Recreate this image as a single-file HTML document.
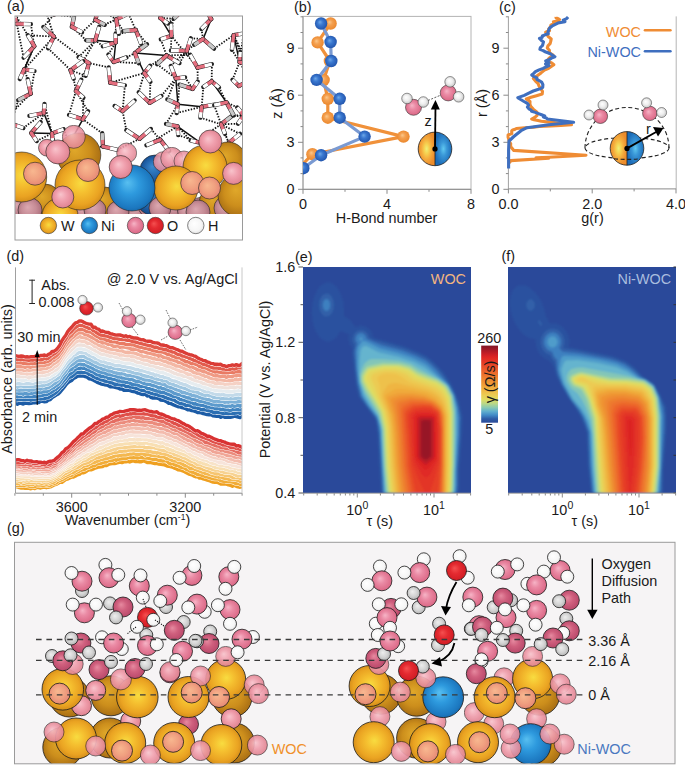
<!DOCTYPE html>
<html><head><meta charset="utf-8"><style>
html,body{margin:0;padding:0;background:#fff;width:685px;height:765px;overflow:hidden}
svg{display:block;font-family:"Liberation Sans", sans-serif}
</style></head><body>
<svg width="685" height="765" viewBox="0 0 685 765">
<defs>
<radialGradient id="gW" cx="0.5" cy="0.5" r="0.62" fx="0.52" fy="0.46"><stop offset="0" stop-color="#f8dc40"/><stop offset="0.3" stop-color="#f5c030"/><stop offset="0.65" stop-color="#eaa322"/><stop offset="0.85" stop-color="#d08a18"/><stop offset="1" stop-color="#9a6410"/></radialGradient>
<radialGradient id="gWd" cx="0.5" cy="0.5" r="0.62" fx="0.4" fy="0.38"><stop offset="0" stop-color="#e0a82a"/><stop offset="0.5" stop-color="#cc8e1c"/><stop offset="0.85" stop-color="#a86e14"/><stop offset="1" stop-color="#7a500c"/></radialGradient>
<radialGradient id="gNi" cx="0.5" cy="0.5" r="0.62" fx="0.4" fy="0.38"><stop offset="0" stop-color="#58bff0"/><stop offset="0.35" stop-color="#2e9ade"/><stop offset="0.75" stop-color="#1c78c0"/><stop offset="1" stop-color="#10558e"/></radialGradient>
<radialGradient id="gNid" cx="0.5" cy="0.5" r="0.62" fx="0.4" fy="0.38"><stop offset="0" stop-color="#3a8ad0"/><stop offset="0.6" stop-color="#1c5aa0"/><stop offset="1" stop-color="#0e3a70"/></radialGradient>
<radialGradient id="gO" cx="0.5" cy="0.5" r="0.62" fx="0.4" fy="0.38"><stop offset="0" stop-color="#f6b4c6"/><stop offset="0.35" stop-color="#ea8aa4"/><stop offset="0.8" stop-color="#dc6a88"/><stop offset="1" stop-color="#b84c68"/></radialGradient>
<radialGradient id="gOd" cx="0.5" cy="0.5" r="0.62" fx="0.4" fy="0.38"><stop offset="0" stop-color="#e68aa0"/><stop offset="0.4" stop-color="#d0607e"/><stop offset="0.85" stop-color="#b8486a"/><stop offset="1" stop-color="#8e3250"/></radialGradient>
<radialGradient id="gOs" cx="0.5" cy="0.5" r="0.62" fx="0.4" fy="0.38"><stop offset="0" stop-color="#f8c4cc"/><stop offset="0.4" stop-color="#f0a0ae"/><stop offset="0.85" stop-color="#e08290"/><stop offset="1" stop-color="#c46474"/></radialGradient>
<radialGradient id="gOsal" cx="0.5" cy="0.5" r="0.62" fx="0.4" fy="0.38"><stop offset="0" stop-color="#f8b890"/><stop offset="0.5" stop-color="#f0a080"/><stop offset="0.9" stop-color="#e48474"/><stop offset="1" stop-color="#d06a66"/></radialGradient>
<radialGradient id="gOm" cx="0.5" cy="0.5" r="0.62" fx="0.4" fy="0.38"><stop offset="0" stop-color="#dca8b0"/><stop offset="0.5" stop-color="#c68c96"/><stop offset="0.85" stop-color="#aa6e7a"/><stop offset="1" stop-color="#7a4650"/></radialGradient>
<radialGradient id="gH" cx="0.5" cy="0.5" r="0.62" fx="0.4" fy="0.38"><stop offset="0" stop-color="#ffffff"/><stop offset="0.6" stop-color="#f6f6f6"/><stop offset="0.85" stop-color="#e2e2e2"/><stop offset="1" stop-color="#b8b8b8"/></radialGradient>
<radialGradient id="gH2" cx="0.5" cy="0.5" r="0.62" fx="0.4" fy="0.38"><stop offset="0" stop-color="#ffffff"/><stop offset="0.45" stop-color="#eeeeee"/><stop offset="0.8" stop-color="#cccccc"/><stop offset="1" stop-color="#9a9a9a"/></radialGradient>
<radialGradient id="gHg" cx="0.5" cy="0.5" r="0.62" fx="0.4" fy="0.38"><stop offset="0" stop-color="#eeeeee"/><stop offset="0.5" stop-color="#d4d4d4"/><stop offset="0.85" stop-color="#b4b4b4"/><stop offset="1" stop-color="#8a8a8a"/></radialGradient>
<radialGradient id="gR" cx="0.5" cy="0.5" r="0.62" fx="0.4" fy="0.38"><stop offset="0" stop-color="#f45050"/><stop offset="0.4" stop-color="#e42a30"/><stop offset="0.85" stop-color="#d01c24"/><stop offset="1" stop-color="#a01018"/></radialGradient>
<radialGradient id="gBl" cx="0.5" cy="0.5" r="0.62" fx="0.4" fy="0.38"><stop offset="0" stop-color="#6ea8e8"/><stop offset="0.35" stop-color="#3a78d0"/><stop offset="0.8" stop-color="#2458b0"/><stop offset="1" stop-color="#1a4490"/></radialGradient>
<radialGradient id="gOr" cx="0.5" cy="0.5" r="0.62" fx="0.4" fy="0.38"><stop offset="0" stop-color="#fcc88a"/><stop offset="0.35" stop-color="#f4a050"/><stop offset="0.8" stop-color="#ec8a30"/><stop offset="1" stop-color="#c86a18"/></radialGradient>
<radialGradient id="gHalfO" cx="0.5" cy="0.5" r="0.5"><stop offset="0" stop-color="#eef078"/><stop offset="0.3" stop-color="#f6d050"/><stop offset="0.62" stop-color="#f4aa3c"/><stop offset="1" stop-color="#ec8c2c"/></radialGradient>
<radialGradient id="gHalfB" cx="0.5" cy="0.5" r="0.5"><stop offset="0" stop-color="#60c8f0"/><stop offset="0.4" stop-color="#3a98d8"/><stop offset="1" stop-color="#1c6cb8"/></radialGradient>
<marker id="ah" viewBox="0 0 10 10" refX="8" refY="5" markerWidth="4" markerHeight="4" orient="auto"><path d="M0 0 L10 5 L0 10 z" fill="#000"/></marker>
</defs>
<text x="7" y="11" font-size="14.4" text-anchor="start" fill="#1a1a1a" >(a)</text>
<clipPath id="cpa"><rect x="15" y="16" width="227.5" height="198"/></clipPath>
<g clip-path="url(#cpa)">
<path d="M240 133.9L221.1 124.3M234.4 156.2L221.1 124.3M18.2 100.2L11 123.7M27.7 79.1L24.2 69.4M141.1 43.8L134.9 53.1M123.2 31.1L116.2 19.4M102.8 46.2L95.3 40.3M115.7 33.4L116.2 19.4M13.8 12L34.3 46.2M30.9 24.2L34.3 46.2M108.7 67.4L88.9 63M124.9 85.4L122.6 111.1M98 8.2L116.2 19.4M104.8 24.8L116.2 19.4M138.7 92.3L144.3 73M161.4 95.9L175.8 78.3M240.2 51.9L233.7 35.1M248.2 65.1L233.7 35.1M179.5 63.1L186.8 50.9M157.1 64.2L175.8 78.3M48.1 48.3L70.6 70.2M43.3 27L54 14.6M214.1 48.6L233.7 35.1M194.2 44.8L186.8 50.9M81.3 79.7L88.9 63M83.4 97.7L82.8 119.3M85.7 75.8L70.6 70.2M78.6 57.1L95.3 40.3M69 114.9L75.9 91M88.1 111.3L75.9 91M74 16.7L54 14.6M82.1 32.3L95.5 19.9M178.2 135.1L200.6 142.9M166 124L177.9 104.2M126.3 130.1L122.6 111.1M150.9 129L160.2 139.7M243.6 33.5L239.6 62.1M231.9 49.8L239.6 62.1M34.5 71L30.7 93.7M19.8 79L34.3 46.2M214.9 104.6L226.5 102.4M200.4 117.7L221.1 124.3M190.6 140.5L177.5 126.3M205.3 134.8L221.1 124.3M238 123.7L221.1 124.3M237.3 107.5L226.5 102.4M83.1 61.2L95.3 40.3M73.7 78.8L75.9 91M231.2 116.5L243.7 115.4M225 133.9L228.8 142.9M179.4 84.6L177.9 104.2M197.7 81.6L197.6 67.7M79.6 148.7L103 146.5M59.6 153.4L52 133.4M173.7 18.8L160.3 17.9M174.6 2.2L171.4 35.9M160.8 39.4L166.6 55.4M170.9 23.6L160.3 17.9M170.8 65.9L186.8 50.9M185.1 77.3L192.7 88.9M147 44.2L135.8 30M138.7 63.2L113.7 61.9M40.7 122.1L43.8 113M36.7 141.1L52 133.4M219 87.4L226.5 102.4M203.3 87.1L201.7 106.8M150.2 65.7L166.6 55.4M150.4 81.7L149.7 102.8M163.8 8.7L180.2 12.5M167.9 23.5L180.2 12.5M233.7 115.4L243.7 115.4M214.2 105.2L221.1 124.3M44.5 6.7L53.9 36.6M44.5 103.9L52 133.4M108.4 54.5L115.7 42.5M126.5 57.4L134.9 53.1M232.5 79.8L239.6 62.1M249.7 79.9L239.6 62.1M102.2 133.2L82.8 119.3M117.5 149.8L139.5 138.8M176.7 113L201.7 106.8M167.3 99.4L175.8 78.3M11.6 112.7L30.7 93.7M23.3 128L43.8 113M86.2 40.3L71.9 26.8M99.2 26.7L116.2 19.4M23.6 57.6L16.8 23.8M27.8 35.2L53.9 36.6M128.4 13.4L135.8 30M118.8 33.9L135.8 30M190.2 54.8L166.6 55.4M211.9 64.1L211.7 81.3M63.6 129.2L69.5 143.3M52.7 142.9L69.5 143.3M146.4 145.3L177.5 126.3M201.4 28.9L203.1 39M205.8 9.4L180.2 12.5M170.9 50.5L171.4 35.9M190.8 38.3L203.1 39M88.9 63L53.9 36.6M110.2 82.7L144.3 73M24.2 69.4L53.9 36.6M197.6 67.7L171.4 35.9" stroke="#111" stroke-width="1.8" stroke-dasharray="1.4 1.5" fill="none"/>
<path d="M82.8 119.3L69.5 143.3M177.5 126.3L200.6 142.9M239.6 62.1L233.7 35.1M175.8 78.3L177.9 104.2M134.9 53.1L144.3 73M197.6 67.7L186.8 50.9M31.3 133L52 133.4M24.2 69.4L34.3 46.2M203.1 39L211.2 19.1M115.7 42.5L95.3 40.3M166.6 55.4L134.9 53.1M211.7 81.3L226.5 102.4M171.4 35.9L160.3 17.9M43.8 113L52 133.4M201.7 106.8L177.9 104.2M115.7 42.5L113.7 61.9" stroke="#111" stroke-width="1.5" fill="none"/>
<path d="M228.8 142.9 L240 133.9" stroke="#222" stroke-width="4.3" stroke-linecap="round"/>
<path d="M228.8 142.9 L234.4 138.4" stroke="#e46e7e" stroke-width="3.3" stroke-linecap="round"/>
<path d="M234.4 138.4 L240 133.9" stroke="#ffffff" stroke-width="3.3" stroke-linecap="butt"/>
<path d="M228.8 142.9 L234.4 156.2" stroke="#222" stroke-width="4.3" stroke-linecap="round"/>
<path d="M228.8 142.9 L231.6 149.6" stroke="#e46e7e" stroke-width="3.3" stroke-linecap="round"/>
<path d="M231.6 149.6 L234.4 156.2" stroke="#ffffff" stroke-width="3.3" stroke-linecap="butt"/>
<path d="M30.7 93.7 L18.2 100.2" stroke="#222" stroke-width="4.3" stroke-linecap="round"/>
<path d="M30.7 93.7 L24.4 96.9" stroke="#e46e7e" stroke-width="3.3" stroke-linecap="round"/>
<path d="M24.4 96.9 L18.2 100.2" stroke="#c8c8c8" stroke-width="3.3" stroke-linecap="butt"/>
<path d="M30.7 93.7 L27.7 79.1" stroke="#222" stroke-width="4.3" stroke-linecap="round"/>
<path d="M30.7 93.7 L29.2 86.4" stroke="#e46e7e" stroke-width="3.3" stroke-linecap="round"/>
<path d="M29.2 86.4 L27.7 79.1" stroke="#ffffff" stroke-width="3.3" stroke-linecap="butt"/>
<path d="M135.8 30 L141.1 43.8" stroke="#222" stroke-width="4.3" stroke-linecap="round"/>
<path d="M135.8 30 L138.5 36.9" stroke="#e46e7e" stroke-width="3.3" stroke-linecap="round"/>
<path d="M138.5 36.9 L141.1 43.8" stroke="#ffffff" stroke-width="3.3" stroke-linecap="butt"/>
<path d="M135.8 30 L123.2 31.1" stroke="#222" stroke-width="4.3" stroke-linecap="round"/>
<path d="M135.8 30 L129.5 30.5" stroke="#e46e7e" stroke-width="3.3" stroke-linecap="round"/>
<path d="M129.5 30.5 L123.2 31.1" stroke="#c8c8c8" stroke-width="3.3" stroke-linecap="butt"/>
<path d="M115.7 42.5 L102.8 46.2" stroke="#222" stroke-width="4.3" stroke-linecap="round"/>
<path d="M115.7 42.5 L109.3 44.4" stroke="#e46e7e" stroke-width="3.3" stroke-linecap="round"/>
<path d="M109.3 44.4 L102.8 46.2" stroke="#ffffff" stroke-width="3.3" stroke-linecap="butt"/>
<path d="M115.7 42.5 L115.7 33.4" stroke="#222" stroke-width="4.3" stroke-linecap="round"/>
<path d="M115.7 42.5 L115.7 37.9" stroke="#e46e7e" stroke-width="3.3" stroke-linecap="round"/>
<path d="M115.7 37.9 L115.7 33.4" stroke="#ffffff" stroke-width="3.3" stroke-linecap="butt"/>
<path d="M16.8 23.8 L13.8 12" stroke="#222" stroke-width="4.3" stroke-linecap="round"/>
<path d="M16.8 23.8 L15.3 17.9" stroke="#e46e7e" stroke-width="3.3" stroke-linecap="round"/>
<path d="M15.3 17.9 L13.8 12" stroke="#ffffff" stroke-width="3.3" stroke-linecap="butt"/>
<path d="M16.8 23.8 L30.9 24.2" stroke="#222" stroke-width="4.3" stroke-linecap="round"/>
<path d="M16.8 23.8 L23.8 24" stroke="#e46e7e" stroke-width="3.3" stroke-linecap="round"/>
<path d="M23.8 24 L30.9 24.2" stroke="#ffffff" stroke-width="3.3" stroke-linecap="butt"/>
<path d="M110.2 82.7 L108.7 67.4" stroke="#222" stroke-width="4.3" stroke-linecap="round"/>
<path d="M110.2 82.7 L109.4 75.1" stroke="#e46e7e" stroke-width="3.3" stroke-linecap="round"/>
<path d="M109.4 75.1 L108.7 67.4" stroke="#ffffff" stroke-width="3.3" stroke-linecap="butt"/>
<path d="M110.2 82.7 L124.9 85.4" stroke="#222" stroke-width="4.3" stroke-linecap="round"/>
<path d="M110.2 82.7 L117.5 84.1" stroke="#e46e7e" stroke-width="3.3" stroke-linecap="round"/>
<path d="M117.5 84.1 L124.9 85.4" stroke="#ffffff" stroke-width="3.3" stroke-linecap="butt"/>
<path d="M95.5 19.9 L98 8.2" stroke="#222" stroke-width="4.3" stroke-linecap="round"/>
<path d="M95.5 19.9 L96.8 14.1" stroke="#e46e7e" stroke-width="3.3" stroke-linecap="round"/>
<path d="M96.8 14.1 L98 8.2" stroke="#ffffff" stroke-width="3.3" stroke-linecap="butt"/>
<path d="M95.5 19.9 L104.8 24.8" stroke="#222" stroke-width="4.3" stroke-linecap="round"/>
<path d="M95.5 19.9 L100.2 22.4" stroke="#e46e7e" stroke-width="3.3" stroke-linecap="round"/>
<path d="M100.2 22.4 L104.8 24.8" stroke="#c8c8c8" stroke-width="3.3" stroke-linecap="butt"/>
<path d="M149.7 102.8 L138.7 92.3" stroke="#222" stroke-width="4.3" stroke-linecap="round"/>
<path d="M149.7 102.8 L144.2 97.6" stroke="#e46e7e" stroke-width="3.3" stroke-linecap="round"/>
<path d="M144.2 97.6 L138.7 92.3" stroke="#ffffff" stroke-width="3.3" stroke-linecap="butt"/>
<path d="M149.7 102.8 L161.4 95.9" stroke="#222" stroke-width="4.3" stroke-linecap="round"/>
<path d="M149.7 102.8 L155.6 99.4" stroke="#e46e7e" stroke-width="3.3" stroke-linecap="round"/>
<path d="M155.6 99.4 L161.4 95.9" stroke="#ffffff" stroke-width="3.3" stroke-linecap="butt"/>
<path d="M239.6 62.1 L240.2 51.9" stroke="#222" stroke-width="4.3" stroke-linecap="round"/>
<path d="M239.6 62.1 L239.9 57" stroke="#e46e7e" stroke-width="3.3" stroke-linecap="round"/>
<path d="M239.9 57 L240.2 51.9" stroke="#ffffff" stroke-width="3.3" stroke-linecap="butt"/>
<path d="M239.6 62.1 L248.2 65.1" stroke="#222" stroke-width="4.3" stroke-linecap="round"/>
<path d="M239.6 62.1 L243.9 63.6" stroke="#e46e7e" stroke-width="3.3" stroke-linecap="round"/>
<path d="M243.9 63.6 L248.2 65.1" stroke="#c8c8c8" stroke-width="3.3" stroke-linecap="butt"/>
<path d="M166.6 55.4 L179.5 63.1" stroke="#222" stroke-width="4.3" stroke-linecap="round"/>
<path d="M166.6 55.4 L173 59.3" stroke="#e46e7e" stroke-width="3.3" stroke-linecap="round"/>
<path d="M173 59.3 L179.5 63.1" stroke="#ffffff" stroke-width="3.3" stroke-linecap="butt"/>
<path d="M166.6 55.4 L157.1 64.2" stroke="#222" stroke-width="4.3" stroke-linecap="round"/>
<path d="M166.6 55.4 L161.8 59.8" stroke="#e46e7e" stroke-width="3.3" stroke-linecap="round"/>
<path d="M161.8 59.8 L157.1 64.2" stroke="#c8c8c8" stroke-width="3.3" stroke-linecap="butt"/>
<path d="M122.6 111.1 L114.6 105.9" stroke="#222" stroke-width="4.3" stroke-linecap="round"/>
<path d="M122.6 111.1 L118.6 108.5" stroke="#e46e7e" stroke-width="3.3" stroke-linecap="round"/>
<path d="M118.6 108.5 L114.6 105.9" stroke="#ffffff" stroke-width="3.3" stroke-linecap="butt"/>
<path d="M122.6 111.1 L134.6 100.5" stroke="#222" stroke-width="4.3" stroke-linecap="round"/>
<path d="M122.6 111.1 L128.6 105.8" stroke="#e46e7e" stroke-width="3.3" stroke-linecap="round"/>
<path d="M128.6 105.8 L134.6 100.5" stroke="#ffffff" stroke-width="3.3" stroke-linecap="butt"/>
<path d="M53.9 36.6 L48.1 48.3" stroke="#222" stroke-width="4.3" stroke-linecap="round"/>
<path d="M53.9 36.6 L51 42.5" stroke="#e46e7e" stroke-width="3.3" stroke-linecap="round"/>
<path d="M51 42.5 L48.1 48.3" stroke="#ffffff" stroke-width="3.3" stroke-linecap="butt"/>
<path d="M53.9 36.6 L43.3 27" stroke="#222" stroke-width="4.3" stroke-linecap="round"/>
<path d="M53.9 36.6 L48.6 31.8" stroke="#e46e7e" stroke-width="3.3" stroke-linecap="round"/>
<path d="M48.6 31.8 L43.3 27" stroke="#c8c8c8" stroke-width="3.3" stroke-linecap="butt"/>
<path d="M203.1 39 L214.1 48.6" stroke="#222" stroke-width="4.3" stroke-linecap="round"/>
<path d="M203.1 39 L208.6 43.8" stroke="#e46e7e" stroke-width="3.3" stroke-linecap="round"/>
<path d="M208.6 43.8 L214.1 48.6" stroke="#c8c8c8" stroke-width="3.3" stroke-linecap="butt"/>
<path d="M203.1 39 L194.2 44.8" stroke="#222" stroke-width="4.3" stroke-linecap="round"/>
<path d="M203.1 39 L198.7 41.9" stroke="#e46e7e" stroke-width="3.3" stroke-linecap="round"/>
<path d="M198.7 41.9 L194.2 44.8" stroke="#c8c8c8" stroke-width="3.3" stroke-linecap="butt"/>
<path d="M75.9 91 L81.3 79.7" stroke="#222" stroke-width="4.3" stroke-linecap="round"/>
<path d="M75.9 91 L78.6 85.4" stroke="#e46e7e" stroke-width="3.3" stroke-linecap="round"/>
<path d="M78.6 85.4 L81.3 79.7" stroke="#ffffff" stroke-width="3.3" stroke-linecap="butt"/>
<path d="M75.9 91 L83.4 97.7" stroke="#222" stroke-width="4.3" stroke-linecap="round"/>
<path d="M75.9 91 L79.7 94.4" stroke="#e46e7e" stroke-width="3.3" stroke-linecap="round"/>
<path d="M79.7 94.4 L83.4 97.7" stroke="#ffffff" stroke-width="3.3" stroke-linecap="butt"/>
<path d="M88.9 63 L85.7 75.8" stroke="#222" stroke-width="4.3" stroke-linecap="round"/>
<path d="M88.9 63 L87.3 69.4" stroke="#e46e7e" stroke-width="3.3" stroke-linecap="round"/>
<path d="M87.3 69.4 L85.7 75.8" stroke="#ffffff" stroke-width="3.3" stroke-linecap="butt"/>
<path d="M88.9 63 L78.6 57.1" stroke="#222" stroke-width="4.3" stroke-linecap="round"/>
<path d="M88.9 63 L83.7 60" stroke="#e46e7e" stroke-width="3.3" stroke-linecap="round"/>
<path d="M83.7 60 L78.6 57.1" stroke="#ffffff" stroke-width="3.3" stroke-linecap="butt"/>
<path d="M82.8 119.3 L69 114.9" stroke="#222" stroke-width="4.3" stroke-linecap="round"/>
<path d="M82.8 119.3 L75.9 117.1" stroke="#e46e7e" stroke-width="3.3" stroke-linecap="round"/>
<path d="M75.9 117.1 L69 114.9" stroke="#ffffff" stroke-width="3.3" stroke-linecap="butt"/>
<path d="M82.8 119.3 L88.1 111.3" stroke="#222" stroke-width="4.3" stroke-linecap="round"/>
<path d="M82.8 119.3 L85.4 115.3" stroke="#e46e7e" stroke-width="3.3" stroke-linecap="round"/>
<path d="M85.4 115.3 L88.1 111.3" stroke="#ffffff" stroke-width="3.3" stroke-linecap="butt"/>
<path d="M71.9 26.8 L74 16.7" stroke="#222" stroke-width="4.3" stroke-linecap="round"/>
<path d="M71.9 26.8 L72.9 21.8" stroke="#e46e7e" stroke-width="3.3" stroke-linecap="round"/>
<path d="M72.9 21.8 L74 16.7" stroke="#c8c8c8" stroke-width="3.3" stroke-linecap="butt"/>
<path d="M71.9 26.8 L82.1 32.3" stroke="#222" stroke-width="4.3" stroke-linecap="round"/>
<path d="M71.9 26.8 L77 29.5" stroke="#e46e7e" stroke-width="3.3" stroke-linecap="round"/>
<path d="M77 29.5 L82.1 32.3" stroke="#ffffff" stroke-width="3.3" stroke-linecap="butt"/>
<path d="M177.5 126.3 L178.2 135.1" stroke="#222" stroke-width="4.3" stroke-linecap="round"/>
<path d="M177.5 126.3 L177.9 130.7" stroke="#e46e7e" stroke-width="3.3" stroke-linecap="round"/>
<path d="M177.9 130.7 L178.2 135.1" stroke="#ffffff" stroke-width="3.3" stroke-linecap="butt"/>
<path d="M177.5 126.3 L166 124" stroke="#222" stroke-width="4.3" stroke-linecap="round"/>
<path d="M177.5 126.3 L171.8 125.2" stroke="#e46e7e" stroke-width="3.3" stroke-linecap="round"/>
<path d="M171.8 125.2 L166 124" stroke="#c8c8c8" stroke-width="3.3" stroke-linecap="butt"/>
<path d="M139.5 138.8 L126.3 130.1" stroke="#222" stroke-width="4.3" stroke-linecap="round"/>
<path d="M139.5 138.8 L132.9 134.5" stroke="#e46e7e" stroke-width="3.3" stroke-linecap="round"/>
<path d="M132.9 134.5 L126.3 130.1" stroke="#ffffff" stroke-width="3.3" stroke-linecap="butt"/>
<path d="M139.5 138.8 L150.9 129" stroke="#222" stroke-width="4.3" stroke-linecap="round"/>
<path d="M139.5 138.8 L145.2 133.9" stroke="#e46e7e" stroke-width="3.3" stroke-linecap="round"/>
<path d="M145.2 133.9 L150.9 129" stroke="#ffffff" stroke-width="3.3" stroke-linecap="butt"/>
<path d="M233.7 35.1 L243.6 33.5" stroke="#222" stroke-width="4.3" stroke-linecap="round"/>
<path d="M233.7 35.1 L238.6 34.3" stroke="#e46e7e" stroke-width="3.3" stroke-linecap="round"/>
<path d="M238.6 34.3 L243.6 33.5" stroke="#ffffff" stroke-width="3.3" stroke-linecap="butt"/>
<path d="M233.7 35.1 L231.9 49.8" stroke="#222" stroke-width="4.3" stroke-linecap="round"/>
<path d="M233.7 35.1 L232.8 42.4" stroke="#e46e7e" stroke-width="3.3" stroke-linecap="round"/>
<path d="M232.8 42.4 L231.9 49.8" stroke="#ffffff" stroke-width="3.3" stroke-linecap="butt"/>
<path d="M24.2 69.4 L34.5 71" stroke="#222" stroke-width="4.3" stroke-linecap="round"/>
<path d="M24.2 69.4 L29.3 70.2" stroke="#e46e7e" stroke-width="3.3" stroke-linecap="round"/>
<path d="M29.3 70.2 L34.5 71" stroke="#ffffff" stroke-width="3.3" stroke-linecap="butt"/>
<path d="M24.2 69.4 L19.8 79" stroke="#222" stroke-width="4.3" stroke-linecap="round"/>
<path d="M24.2 69.4 L22 74.2" stroke="#e46e7e" stroke-width="3.3" stroke-linecap="round"/>
<path d="M22 74.2 L19.8 79" stroke="#ffffff" stroke-width="3.3" stroke-linecap="butt"/>
<path d="M201.7 106.8 L214.9 104.6" stroke="#222" stroke-width="4.3" stroke-linecap="round"/>
<path d="M201.7 106.8 L208.3 105.7" stroke="#e46e7e" stroke-width="3.3" stroke-linecap="round"/>
<path d="M208.3 105.7 L214.9 104.6" stroke="#ffffff" stroke-width="3.3" stroke-linecap="butt"/>
<path d="M201.7 106.8 L200.4 117.7" stroke="#222" stroke-width="4.3" stroke-linecap="round"/>
<path d="M201.7 106.8 L201 112.3" stroke="#e46e7e" stroke-width="3.3" stroke-linecap="round"/>
<path d="M201 112.3 L200.4 117.7" stroke="#ffffff" stroke-width="3.3" stroke-linecap="butt"/>
<path d="M200.6 142.9 L190.6 140.5" stroke="#222" stroke-width="4.3" stroke-linecap="round"/>
<path d="M200.6 142.9 L195.6 141.7" stroke="#e46e7e" stroke-width="3.3" stroke-linecap="round"/>
<path d="M195.6 141.7 L190.6 140.5" stroke="#ffffff" stroke-width="3.3" stroke-linecap="butt"/>
<path d="M200.6 142.9 L205.3 134.8" stroke="#222" stroke-width="4.3" stroke-linecap="round"/>
<path d="M200.6 142.9 L202.9 138.9" stroke="#e46e7e" stroke-width="3.3" stroke-linecap="round"/>
<path d="M202.9 138.9 L205.3 134.8" stroke="#ffffff" stroke-width="3.3" stroke-linecap="butt"/>
<path d="M243.7 115.4 L238 123.7" stroke="#222" stroke-width="4.3" stroke-linecap="round"/>
<path d="M243.7 115.4 L240.9 119.5" stroke="#e46e7e" stroke-width="3.3" stroke-linecap="round"/>
<path d="M240.9 119.5 L238 123.7" stroke="#ffffff" stroke-width="3.3" stroke-linecap="butt"/>
<path d="M243.7 115.4 L237.3 107.5" stroke="#222" stroke-width="4.3" stroke-linecap="round"/>
<path d="M243.7 115.4 L240.5 111.4" stroke="#e46e7e" stroke-width="3.3" stroke-linecap="round"/>
<path d="M240.5 111.4 L237.3 107.5" stroke="#ffffff" stroke-width="3.3" stroke-linecap="butt"/>
<path d="M70.6 70.2 L83.1 61.2" stroke="#222" stroke-width="4.3" stroke-linecap="round"/>
<path d="M70.6 70.2 L76.8 65.7" stroke="#e46e7e" stroke-width="3.3" stroke-linecap="round"/>
<path d="M76.8 65.7 L83.1 61.2" stroke="#ffffff" stroke-width="3.3" stroke-linecap="butt"/>
<path d="M70.6 70.2 L73.7 78.8" stroke="#222" stroke-width="4.3" stroke-linecap="round"/>
<path d="M70.6 70.2 L72.1 74.5" stroke="#e46e7e" stroke-width="3.3" stroke-linecap="round"/>
<path d="M72.1 74.5 L73.7 78.8" stroke="#ffffff" stroke-width="3.3" stroke-linecap="butt"/>
<path d="M221.1 124.3 L231.2 116.5" stroke="#222" stroke-width="4.3" stroke-linecap="round"/>
<path d="M221.1 124.3 L226.2 120.4" stroke="#e46e7e" stroke-width="3.3" stroke-linecap="round"/>
<path d="M226.2 120.4 L231.2 116.5" stroke="#c8c8c8" stroke-width="3.3" stroke-linecap="butt"/>
<path d="M221.1 124.3 L225 133.9" stroke="#222" stroke-width="4.3" stroke-linecap="round"/>
<path d="M221.1 124.3 L223.1 129.1" stroke="#e46e7e" stroke-width="3.3" stroke-linecap="round"/>
<path d="M223.1 129.1 L225 133.9" stroke="#ffffff" stroke-width="3.3" stroke-linecap="butt"/>
<path d="M192.7 88.9 L179.4 84.6" stroke="#222" stroke-width="4.3" stroke-linecap="round"/>
<path d="M192.7 88.9 L186.1 86.7" stroke="#e46e7e" stroke-width="3.3" stroke-linecap="round"/>
<path d="M186.1 86.7 L179.4 84.6" stroke="#c8c8c8" stroke-width="3.3" stroke-linecap="butt"/>
<path d="M192.7 88.9 L197.7 81.6" stroke="#222" stroke-width="4.3" stroke-linecap="round"/>
<path d="M192.7 88.9 L195.2 85.2" stroke="#e46e7e" stroke-width="3.3" stroke-linecap="round"/>
<path d="M195.2 85.2 L197.7 81.6" stroke="#ffffff" stroke-width="3.3" stroke-linecap="butt"/>
<path d="M69.5 143.3 L79.6 148.7" stroke="#222" stroke-width="4.3" stroke-linecap="round"/>
<path d="M69.5 143.3 L74.5 146" stroke="#e46e7e" stroke-width="3.3" stroke-linecap="round"/>
<path d="M74.5 146 L79.6 148.7" stroke="#ffffff" stroke-width="3.3" stroke-linecap="butt"/>
<path d="M69.5 143.3 L59.6 153.4" stroke="#222" stroke-width="4.3" stroke-linecap="round"/>
<path d="M69.5 143.3 L64.6 148.4" stroke="#e46e7e" stroke-width="3.3" stroke-linecap="round"/>
<path d="M64.6 148.4 L59.6 153.4" stroke="#c8c8c8" stroke-width="3.3" stroke-linecap="butt"/>
<path d="M180.2 12.5 L173.7 18.8" stroke="#222" stroke-width="4.3" stroke-linecap="round"/>
<path d="M180.2 12.5 L177 15.7" stroke="#e46e7e" stroke-width="3.3" stroke-linecap="round"/>
<path d="M177 15.7 L173.7 18.8" stroke="#c8c8c8" stroke-width="3.3" stroke-linecap="butt"/>
<path d="M180.2 12.5 L174.6 2.2" stroke="#222" stroke-width="4.3" stroke-linecap="round"/>
<path d="M180.2 12.5 L177.4 7.4" stroke="#e46e7e" stroke-width="3.3" stroke-linecap="round"/>
<path d="M177.4 7.4 L174.6 2.2" stroke="#ffffff" stroke-width="3.3" stroke-linecap="butt"/>
<path d="M171.4 35.9 L160.8 39.4" stroke="#222" stroke-width="4.3" stroke-linecap="round"/>
<path d="M171.4 35.9 L166.1 37.6" stroke="#e46e7e" stroke-width="3.3" stroke-linecap="round"/>
<path d="M166.1 37.6 L160.8 39.4" stroke="#ffffff" stroke-width="3.3" stroke-linecap="butt"/>
<path d="M171.4 35.9 L170.9 23.6" stroke="#222" stroke-width="4.3" stroke-linecap="round"/>
<path d="M171.4 35.9 L171.2 29.8" stroke="#e46e7e" stroke-width="3.3" stroke-linecap="round"/>
<path d="M171.2 29.8 L170.9 23.6" stroke="#ffffff" stroke-width="3.3" stroke-linecap="butt"/>
<path d="M175.8 78.3 L170.8 65.9" stroke="#222" stroke-width="4.3" stroke-linecap="round"/>
<path d="M175.8 78.3 L173.3 72.1" stroke="#e46e7e" stroke-width="3.3" stroke-linecap="round"/>
<path d="M173.3 72.1 L170.8 65.9" stroke="#ffffff" stroke-width="3.3" stroke-linecap="butt"/>
<path d="M175.8 78.3 L185.1 77.3" stroke="#222" stroke-width="4.3" stroke-linecap="round"/>
<path d="M175.8 78.3 L180.4 77.8" stroke="#e46e7e" stroke-width="3.3" stroke-linecap="round"/>
<path d="M180.4 77.8 L185.1 77.3" stroke="#ffffff" stroke-width="3.3" stroke-linecap="butt"/>
<path d="M134.9 53.1 L147 44.2" stroke="#222" stroke-width="4.3" stroke-linecap="round"/>
<path d="M134.9 53.1 L140.9 48.6" stroke="#e46e7e" stroke-width="3.3" stroke-linecap="round"/>
<path d="M140.9 48.6 L147 44.2" stroke="#c8c8c8" stroke-width="3.3" stroke-linecap="butt"/>
<path d="M134.9 53.1 L138.7 63.2" stroke="#222" stroke-width="4.3" stroke-linecap="round"/>
<path d="M134.9 53.1 L136.8 58.1" stroke="#e46e7e" stroke-width="3.3" stroke-linecap="round"/>
<path d="M136.8 58.1 L138.7 63.2" stroke="#c8c8c8" stroke-width="3.3" stroke-linecap="butt"/>
<path d="M31.3 133 L40.7 122.1" stroke="#222" stroke-width="4.3" stroke-linecap="round"/>
<path d="M31.3 133 L36 127.5" stroke="#e46e7e" stroke-width="3.3" stroke-linecap="round"/>
<path d="M36 127.5 L40.7 122.1" stroke="#ffffff" stroke-width="3.3" stroke-linecap="butt"/>
<path d="M31.3 133 L36.7 141.1" stroke="#222" stroke-width="4.3" stroke-linecap="round"/>
<path d="M31.3 133 L34 137.1" stroke="#e46e7e" stroke-width="3.3" stroke-linecap="round"/>
<path d="M34 137.1 L36.7 141.1" stroke="#ffffff" stroke-width="3.3" stroke-linecap="butt"/>
<path d="M211.7 81.3 L219 87.4" stroke="#222" stroke-width="4.3" stroke-linecap="round"/>
<path d="M211.7 81.3 L215.4 84.4" stroke="#e46e7e" stroke-width="3.3" stroke-linecap="round"/>
<path d="M215.4 84.4 L219 87.4" stroke="#ffffff" stroke-width="3.3" stroke-linecap="butt"/>
<path d="M211.7 81.3 L203.3 87.1" stroke="#222" stroke-width="4.3" stroke-linecap="round"/>
<path d="M211.7 81.3 L207.5 84.2" stroke="#e46e7e" stroke-width="3.3" stroke-linecap="round"/>
<path d="M207.5 84.2 L203.3 87.1" stroke="#ffffff" stroke-width="3.3" stroke-linecap="butt"/>
<path d="M144.3 73 L150.2 65.7" stroke="#222" stroke-width="4.3" stroke-linecap="round"/>
<path d="M144.3 73 L147.3 69.4" stroke="#e46e7e" stroke-width="3.3" stroke-linecap="round"/>
<path d="M147.3 69.4 L150.2 65.7" stroke="#ffffff" stroke-width="3.3" stroke-linecap="butt"/>
<path d="M144.3 73 L150.4 81.7" stroke="#222" stroke-width="4.3" stroke-linecap="round"/>
<path d="M144.3 73 L147.3 77.3" stroke="#e46e7e" stroke-width="3.3" stroke-linecap="round"/>
<path d="M147.3 77.3 L150.4 81.7" stroke="#ffffff" stroke-width="3.3" stroke-linecap="butt"/>
<path d="M160.3 17.9 L163.8 8.7" stroke="#222" stroke-width="4.3" stroke-linecap="round"/>
<path d="M160.3 17.9 L162.1 13.3" stroke="#e46e7e" stroke-width="3.3" stroke-linecap="round"/>
<path d="M162.1 13.3 L163.8 8.7" stroke="#ffffff" stroke-width="3.3" stroke-linecap="butt"/>
<path d="M160.3 17.9 L167.9 23.5" stroke="#222" stroke-width="4.3" stroke-linecap="round"/>
<path d="M160.3 17.9 L164.1 20.7" stroke="#e46e7e" stroke-width="3.3" stroke-linecap="round"/>
<path d="M164.1 20.7 L167.9 23.5" stroke="#ffffff" stroke-width="3.3" stroke-linecap="butt"/>
<path d="M226.5 102.4 L233.7 115.4" stroke="#222" stroke-width="4.3" stroke-linecap="round"/>
<path d="M226.5 102.4 L230.1 108.9" stroke="#e46e7e" stroke-width="3.3" stroke-linecap="round"/>
<path d="M230.1 108.9 L233.7 115.4" stroke="#c8c8c8" stroke-width="3.3" stroke-linecap="butt"/>
<path d="M226.5 102.4 L214.2 105.2" stroke="#222" stroke-width="4.3" stroke-linecap="round"/>
<path d="M226.5 102.4 L220.4 103.8" stroke="#e46e7e" stroke-width="3.3" stroke-linecap="round"/>
<path d="M220.4 103.8 L214.2 105.2" stroke="#ffffff" stroke-width="3.3" stroke-linecap="butt"/>
<path d="M54 14.6 L44.5 6.7" stroke="#222" stroke-width="4.3" stroke-linecap="round"/>
<path d="M54 14.6 L49.3 10.7" stroke="#e46e7e" stroke-width="3.3" stroke-linecap="round"/>
<path d="M49.3 10.7 L44.5 6.7" stroke="#ffffff" stroke-width="3.3" stroke-linecap="butt"/>
<path d="M54 14.6 L64.3 7.7" stroke="#222" stroke-width="4.3" stroke-linecap="round"/>
<path d="M54 14.6 L59.2 11.1" stroke="#e46e7e" stroke-width="3.3" stroke-linecap="round"/>
<path d="M59.2 11.1 L64.3 7.7" stroke="#ffffff" stroke-width="3.3" stroke-linecap="butt"/>
<path d="M43.8 113 L29.4 115.8" stroke="#222" stroke-width="4.3" stroke-linecap="round"/>
<path d="M43.8 113 L36.6 114.4" stroke="#e46e7e" stroke-width="3.3" stroke-linecap="round"/>
<path d="M36.6 114.4 L29.4 115.8" stroke="#ffffff" stroke-width="3.3" stroke-linecap="butt"/>
<path d="M43.8 113 L44.5 103.9" stroke="#222" stroke-width="4.3" stroke-linecap="round"/>
<path d="M43.8 113 L44.2 108.5" stroke="#e46e7e" stroke-width="3.3" stroke-linecap="round"/>
<path d="M44.2 108.5 L44.5 103.9" stroke="#ffffff" stroke-width="3.3" stroke-linecap="butt"/>
<path d="M113.7 61.9 L108.4 54.5" stroke="#222" stroke-width="4.3" stroke-linecap="round"/>
<path d="M113.7 61.9 L111 58.2" stroke="#e46e7e" stroke-width="3.3" stroke-linecap="round"/>
<path d="M111 58.2 L108.4 54.5" stroke="#ffffff" stroke-width="3.3" stroke-linecap="butt"/>
<path d="M113.7 61.9 L126.5 57.4" stroke="#222" stroke-width="4.3" stroke-linecap="round"/>
<path d="M113.7 61.9 L120.1 59.7" stroke="#e46e7e" stroke-width="3.3" stroke-linecap="round"/>
<path d="M120.1 59.7 L126.5 57.4" stroke="#ffffff" stroke-width="3.3" stroke-linecap="butt"/>
<path d="M238.9 86 L232.5 79.8" stroke="#222" stroke-width="4.3" stroke-linecap="round"/>
<path d="M238.9 86 L235.7 82.9" stroke="#e46e7e" stroke-width="3.3" stroke-linecap="round"/>
<path d="M235.7 82.9 L232.5 79.8" stroke="#ffffff" stroke-width="3.3" stroke-linecap="butt"/>
<path d="M238.9 86 L249.7 79.9" stroke="#222" stroke-width="4.3" stroke-linecap="round"/>
<path d="M238.9 86 L244.3 82.9" stroke="#e46e7e" stroke-width="3.3" stroke-linecap="round"/>
<path d="M244.3 82.9 L249.7 79.9" stroke="#c8c8c8" stroke-width="3.3" stroke-linecap="butt"/>
<path d="M103 146.5 L102.2 133.2" stroke="#222" stroke-width="4.3" stroke-linecap="round"/>
<path d="M103 146.5 L102.6 139.9" stroke="#e46e7e" stroke-width="3.3" stroke-linecap="round"/>
<path d="M102.6 139.9 L102.2 133.2" stroke="#c8c8c8" stroke-width="3.3" stroke-linecap="butt"/>
<path d="M103 146.5 L117.5 149.8" stroke="#222" stroke-width="4.3" stroke-linecap="round"/>
<path d="M103 146.5 L110.2 148.1" stroke="#e46e7e" stroke-width="3.3" stroke-linecap="round"/>
<path d="M110.2 148.1 L117.5 149.8" stroke="#ffffff" stroke-width="3.3" stroke-linecap="butt"/>
<path d="M177.9 104.2 L176.7 113" stroke="#222" stroke-width="4.3" stroke-linecap="round"/>
<path d="M177.9 104.2 L177.3 108.6" stroke="#e46e7e" stroke-width="3.3" stroke-linecap="round"/>
<path d="M177.3 108.6 L176.7 113" stroke="#ffffff" stroke-width="3.3" stroke-linecap="butt"/>
<path d="M177.9 104.2 L167.3 99.4" stroke="#222" stroke-width="4.3" stroke-linecap="round"/>
<path d="M177.9 104.2 L172.6 101.8" stroke="#e46e7e" stroke-width="3.3" stroke-linecap="round"/>
<path d="M172.6 101.8 L167.3 99.4" stroke="#c8c8c8" stroke-width="3.3" stroke-linecap="butt"/>
<path d="M11 123.7 L11.6 112.7" stroke="#222" stroke-width="4.3" stroke-linecap="round"/>
<path d="M11 123.7 L11.3 118.2" stroke="#e46e7e" stroke-width="3.3" stroke-linecap="round"/>
<path d="M11.3 118.2 L11.6 112.7" stroke="#ffffff" stroke-width="3.3" stroke-linecap="butt"/>
<path d="M11 123.7 L23.3 128" stroke="#222" stroke-width="4.3" stroke-linecap="round"/>
<path d="M11 123.7 L17.1 125.9" stroke="#e46e7e" stroke-width="3.3" stroke-linecap="round"/>
<path d="M17.1 125.9 L23.3 128" stroke="#ffffff" stroke-width="3.3" stroke-linecap="butt"/>
<path d="M95.3 40.3 L86.2 40.3" stroke="#222" stroke-width="4.3" stroke-linecap="round"/>
<path d="M95.3 40.3 L90.7 40.3" stroke="#e46e7e" stroke-width="3.3" stroke-linecap="round"/>
<path d="M90.7 40.3 L86.2 40.3" stroke="#c8c8c8" stroke-width="3.3" stroke-linecap="butt"/>
<path d="M95.3 40.3 L99.2 26.7" stroke="#222" stroke-width="4.3" stroke-linecap="round"/>
<path d="M95.3 40.3 L97.2 33.5" stroke="#e46e7e" stroke-width="3.3" stroke-linecap="round"/>
<path d="M97.2 33.5 L99.2 26.7" stroke="#ffffff" stroke-width="3.3" stroke-linecap="butt"/>
<path d="M34.3 46.2 L23.6 57.6" stroke="#222" stroke-width="4.3" stroke-linecap="round"/>
<path d="M34.3 46.2 L29 51.9" stroke="#e46e7e" stroke-width="3.3" stroke-linecap="round"/>
<path d="M29 51.9 L23.6 57.6" stroke="#ffffff" stroke-width="3.3" stroke-linecap="butt"/>
<path d="M34.3 46.2 L27.8 35.2" stroke="#222" stroke-width="4.3" stroke-linecap="round"/>
<path d="M34.3 46.2 L31.1 40.7" stroke="#e46e7e" stroke-width="3.3" stroke-linecap="round"/>
<path d="M31.1 40.7 L27.8 35.2" stroke="#ffffff" stroke-width="3.3" stroke-linecap="butt"/>
<path d="M116.2 19.4 L128.4 13.4" stroke="#222" stroke-width="4.3" stroke-linecap="round"/>
<path d="M116.2 19.4 L122.3 16.4" stroke="#e46e7e" stroke-width="3.3" stroke-linecap="round"/>
<path d="M122.3 16.4 L128.4 13.4" stroke="#ffffff" stroke-width="3.3" stroke-linecap="butt"/>
<path d="M116.2 19.4 L118.8 33.9" stroke="#222" stroke-width="4.3" stroke-linecap="round"/>
<path d="M116.2 19.4 L117.5 26.6" stroke="#e46e7e" stroke-width="3.3" stroke-linecap="round"/>
<path d="M117.5 26.6 L118.8 33.9" stroke="#ffffff" stroke-width="3.3" stroke-linecap="butt"/>
<path d="M197.6 67.7 L190.2 54.8" stroke="#222" stroke-width="4.3" stroke-linecap="round"/>
<path d="M197.6 67.7 L193.9 61.3" stroke="#e46e7e" stroke-width="3.3" stroke-linecap="round"/>
<path d="M193.9 61.3 L190.2 54.8" stroke="#ffffff" stroke-width="3.3" stroke-linecap="butt"/>
<path d="M197.6 67.7 L211.9 64.1" stroke="#222" stroke-width="4.3" stroke-linecap="round"/>
<path d="M197.6 67.7 L204.8 65.9" stroke="#e46e7e" stroke-width="3.3" stroke-linecap="round"/>
<path d="M204.8 65.9 L211.9 64.1" stroke="#ffffff" stroke-width="3.3" stroke-linecap="butt"/>
<path d="M52 133.4 L63.6 129.2" stroke="#222" stroke-width="4.3" stroke-linecap="round"/>
<path d="M52 133.4 L57.8 131.3" stroke="#e46e7e" stroke-width="3.3" stroke-linecap="round"/>
<path d="M57.8 131.3 L63.6 129.2" stroke="#ffffff" stroke-width="3.3" stroke-linecap="butt"/>
<path d="M52 133.4 L52.7 142.9" stroke="#222" stroke-width="4.3" stroke-linecap="round"/>
<path d="M52 133.4 L52.4 138.2" stroke="#e46e7e" stroke-width="3.3" stroke-linecap="round"/>
<path d="M52.4 138.2 L52.7 142.9" stroke="#ffffff" stroke-width="3.3" stroke-linecap="butt"/>
<path d="M160.2 139.7 L169.2 151.1" stroke="#222" stroke-width="4.3" stroke-linecap="round"/>
<path d="M160.2 139.7 L164.7 145.4" stroke="#e46e7e" stroke-width="3.3" stroke-linecap="round"/>
<path d="M164.7 145.4 L169.2 151.1" stroke="#ffffff" stroke-width="3.3" stroke-linecap="butt"/>
<path d="M160.2 139.7 L146.4 145.3" stroke="#222" stroke-width="4.3" stroke-linecap="round"/>
<path d="M160.2 139.7 L153.3 142.5" stroke="#e46e7e" stroke-width="3.3" stroke-linecap="round"/>
<path d="M153.3 142.5 L146.4 145.3" stroke="#ffffff" stroke-width="3.3" stroke-linecap="butt"/>
<path d="M211.2 19.1 L201.4 28.9" stroke="#222" stroke-width="4.3" stroke-linecap="round"/>
<path d="M211.2 19.1 L206.3 24" stroke="#e46e7e" stroke-width="3.3" stroke-linecap="round"/>
<path d="M206.3 24 L201.4 28.9" stroke="#ffffff" stroke-width="3.3" stroke-linecap="butt"/>
<path d="M211.2 19.1 L205.8 9.4" stroke="#222" stroke-width="4.3" stroke-linecap="round"/>
<path d="M211.2 19.1 L208.5 14.3" stroke="#e46e7e" stroke-width="3.3" stroke-linecap="round"/>
<path d="M208.5 14.3 L205.8 9.4" stroke="#c8c8c8" stroke-width="3.3" stroke-linecap="butt"/>
<path d="M186.8 50.9 L170.9 50.5" stroke="#222" stroke-width="4.3" stroke-linecap="round"/>
<path d="M186.8 50.9 L178.8 50.7" stroke="#e46e7e" stroke-width="3.3" stroke-linecap="round"/>
<path d="M178.8 50.7 L170.9 50.5" stroke="#ffffff" stroke-width="3.3" stroke-linecap="butt"/>
<path d="M186.8 50.9 L190.8 38.3" stroke="#222" stroke-width="4.3" stroke-linecap="round"/>
<path d="M186.8 50.9 L188.8 44.6" stroke="#e46e7e" stroke-width="3.3" stroke-linecap="round"/>
<path d="M188.8 44.6 L190.8 38.3" stroke="#ffffff" stroke-width="3.3" stroke-linecap="butt"/>
<circle cx="18" cy="207" r="9.5" fill="url(#gOm)" stroke="#222" stroke-width="0.6" />
<circle cx="31" cy="211" r="9.5" fill="url(#gOm)" stroke="#222" stroke-width="0.6" />
<circle cx="44" cy="207" r="9.5" fill="url(#gOm)" stroke="#222" stroke-width="0.6" />
<circle cx="57" cy="211" r="9.5" fill="url(#gOm)" stroke="#222" stroke-width="0.6" />
<circle cx="70" cy="207" r="9.5" fill="url(#gOm)" stroke="#222" stroke-width="0.6" />
<circle cx="83" cy="211" r="9.5" fill="url(#gOm)" stroke="#222" stroke-width="0.6" />
<circle cx="96" cy="207" r="9.5" fill="url(#gOm)" stroke="#222" stroke-width="0.6" />
<circle cx="109" cy="211" r="9.5" fill="url(#gOm)" stroke="#222" stroke-width="0.6" />
<circle cx="122" cy="207" r="9.5" fill="url(#gOm)" stroke="#222" stroke-width="0.6" />
<circle cx="135" cy="211" r="9.5" fill="url(#gOm)" stroke="#222" stroke-width="0.6" />
<circle cx="148" cy="207" r="9.5" fill="url(#gOm)" stroke="#222" stroke-width="0.6" />
<circle cx="161" cy="211" r="9.5" fill="url(#gOm)" stroke="#222" stroke-width="0.6" />
<circle cx="174" cy="207" r="9.5" fill="url(#gOm)" stroke="#222" stroke-width="0.6" />
<circle cx="187" cy="211" r="9.5" fill="url(#gOm)" stroke="#222" stroke-width="0.6" />
<circle cx="200" cy="207" r="9.5" fill="url(#gOm)" stroke="#222" stroke-width="0.6" />
<circle cx="213" cy="211" r="9.5" fill="url(#gOm)" stroke="#222" stroke-width="0.6" />
<circle cx="226" cy="207" r="9.5" fill="url(#gOm)" stroke="#222" stroke-width="0.6" />
<circle cx="239" cy="211" r="9.5" fill="url(#gOm)" stroke="#222" stroke-width="0.6" />
<circle cx="45" cy="200" r="16" fill="url(#gWd)" stroke="#222" stroke-width="0.6" />
<circle cx="105" cy="202" r="15" fill="url(#gWd)" stroke="#222" stroke-width="0.6" />
<circle cx="152" cy="200" r="15" fill="url(#gNid)" stroke="#222" stroke-width="0.6" />
<circle cx="215" cy="203" r="16" fill="url(#gWd)" stroke="#222" stroke-width="0.6" />
<circle cx="30" cy="210" r="12" fill="url(#gOm)" stroke="#222" stroke-width="0.6" />
<circle cx="95" cy="210" r="11" fill="url(#gOm)" stroke="#222" stroke-width="0.6" />
<circle cx="118" cy="212" r="11" fill="url(#gOm)" stroke="#222" stroke-width="0.6" />
<circle cx="160" cy="208" r="11" fill="url(#gOm)" stroke="#222" stroke-width="0.6" />
<circle cx="198" cy="212" r="12" fill="url(#gOm)" stroke="#222" stroke-width="0.6" />
<circle cx="226" cy="208" r="12" fill="url(#gOm)" stroke="#222" stroke-width="0.6" />
<circle cx="60" cy="216" r="18" fill="url(#gW)" stroke="#222" stroke-width="0.6" />
<circle cx="240" cy="195" r="22" fill="url(#gWd)" stroke="#222" stroke-width="0.6" />
<circle cx="228" cy="160" r="18" fill="url(#gWd)" stroke="#222" stroke-width="0.6" />
<circle cx="78.8" cy="155" r="22" fill="url(#gWd)" stroke="#222" stroke-width="0.6" />
<circle cx="155" cy="170" r="15" fill="url(#gNid)" stroke="#222" stroke-width="0.6" />
<circle cx="73.8" cy="136.8" r="11.5" fill="url(#gOs)" stroke="#222" stroke-width="0.6" opacity="0.88"/>
<circle cx="126.7" cy="153" r="10" fill="url(#gOs)" stroke="#222" stroke-width="0.6" opacity="0.88"/>
<circle cx="163.3" cy="161.7" r="10" fill="url(#gOs)" stroke="#222" stroke-width="0.6" opacity="0.88"/>
<circle cx="171.7" cy="158.3" r="11" fill="url(#gOs)" stroke="#222" stroke-width="0.6" opacity="0.88"/>
<circle cx="184" cy="161" r="10" fill="url(#gOs)" stroke="#222" stroke-width="0.6" opacity="0.88"/>
<circle cx="21.7" cy="177" r="25" fill="url(#gW)" stroke="#222" stroke-width="0.6" />
<circle cx="80" cy="185" r="25" fill="url(#gW)" stroke="#222" stroke-width="0.6" />
<circle cx="205" cy="167" r="22" fill="url(#gW)" stroke="#222" stroke-width="0.6" />
<circle cx="176" cy="188" r="22" fill="url(#gW)" stroke="#222" stroke-width="0.6" />
<circle cx="132" cy="188" r="23" fill="url(#gNi)" stroke="#222" stroke-width="0.6" />
<circle cx="46.9" cy="147.7" r="8.4" fill="url(#gOs)" stroke="#222" stroke-width="0.6" />
<circle cx="57.8" cy="151.9" r="12" fill="url(#gOs)" stroke="#222" stroke-width="0.6" />
<circle cx="35" cy="173.7" r="11.5" fill="url(#gOsal)" stroke="#222" stroke-width="0.6" />
<circle cx="88" cy="170" r="11.5" fill="url(#gOsal)" stroke="#222" stroke-width="0.6" />
<circle cx="62.8" cy="197" r="11" fill="url(#gOs)" stroke="#222" stroke-width="0.6" />
<circle cx="120.7" cy="167" r="11.5" fill="url(#gOs)" stroke="#222" stroke-width="0.6" />
<circle cx="210.3" cy="141.5" r="11.5" fill="url(#gOs)" stroke="#222" stroke-width="0.6" />
<circle cx="192.2" cy="183" r="11.5" fill="url(#gOsal)" stroke="#222" stroke-width="0.6" />
<circle cx="209.5" cy="188" r="11" fill="url(#gOsal)" stroke="#222" stroke-width="0.6" />
<circle cx="233.6" cy="173.4" r="11" fill="url(#gOs)" stroke="#222" stroke-width="0.6" />
</g>
<rect x="15" y="16" width="227.5" height="224" fill="none" stroke="#9a9a9a" stroke-width="1"/>
<circle cx="48.4" cy="225.5" r="8.2" fill="url(#gW)" stroke="#333" stroke-width="0.6" />
<text x="61" y="230.5" font-size="14.4" text-anchor="start" fill="#1a1a1a" >W</text>
<circle cx="89.4" cy="225.5" r="8.2" fill="url(#gNi)" stroke="#333" stroke-width="0.6" />
<text x="101" y="230.5" font-size="14.4" text-anchor="start" fill="#1a1a1a" >Ni</text>
<circle cx="135.5" cy="225.5" r="8.2" fill="url(#gO)" stroke="#333" stroke-width="0.6" />
<circle cx="155.4" cy="225.5" r="8.2" fill="url(#gR)" stroke="#333" stroke-width="0.6" />
<text x="167" y="230.5" font-size="14.4" text-anchor="start" fill="#1a1a1a" >O</text>
<circle cx="195.8" cy="225.5" r="8.2" fill="url(#gH)" stroke="#333" stroke-width="0.6" />
<text x="208" y="230.5" font-size="14.4" text-anchor="start" fill="#1a1a1a" >H</text>
<rect x="303" y="16.4" width="168" height="172.9" fill="none" stroke="#b4b4b4" stroke-width="1"/>
<line x1="303" y1="16.4" x2="303" y2="189.3" stroke="#a0a0a0" stroke-width="1" />
<line x1="303" y1="189.3" x2="471" y2="189.3" stroke="#8a8a8a" stroke-width="1" />
<line x1="298" y1="189.3" x2="303" y2="189.3" stroke="#8a8a8a" stroke-width="1" />
<text x="294.5" y="194.1" font-size="14.4" text-anchor="end" fill="#1a1a1a" >0</text>
<line x1="300.5" y1="173.6" x2="303" y2="173.6" stroke="#8a8a8a" stroke-width="1" />
<line x1="300.5" y1="157.9" x2="303" y2="157.9" stroke="#8a8a8a" stroke-width="1" />
<line x1="298" y1="142.3" x2="303" y2="142.3" stroke="#8a8a8a" stroke-width="1" />
<text x="294.5" y="147.1" font-size="14.4" text-anchor="end" fill="#1a1a1a" >3</text>
<line x1="300.5" y1="126.6" x2="303" y2="126.6" stroke="#8a8a8a" stroke-width="1" />
<line x1="300.5" y1="110.9" x2="303" y2="110.9" stroke="#8a8a8a" stroke-width="1" />
<line x1="298" y1="95.2" x2="303" y2="95.2" stroke="#8a8a8a" stroke-width="1" />
<text x="294.5" y="100" font-size="14.4" text-anchor="end" fill="#1a1a1a" >6</text>
<line x1="300.5" y1="79.5" x2="303" y2="79.5" stroke="#8a8a8a" stroke-width="1" />
<line x1="300.5" y1="63.9" x2="303" y2="63.9" stroke="#8a8a8a" stroke-width="1" />
<line x1="298" y1="48.2" x2="303" y2="48.2" stroke="#8a8a8a" stroke-width="1" />
<text x="294.5" y="53" font-size="14.4" text-anchor="end" fill="#1a1a1a" >9</text>
<line x1="300.5" y1="32.5" x2="303" y2="32.5" stroke="#8a8a8a" stroke-width="1" />
<line x1="300.5" y1="16.8" x2="303" y2="16.8" stroke="#8a8a8a" stroke-width="1" />
<line x1="303" y1="189.3" x2="303" y2="193.8" stroke="#8a8a8a" stroke-width="1" />
<text x="303" y="208.5" font-size="14.4" text-anchor="middle" fill="#1a1a1a" >0</text>
<line x1="345" y1="189.3" x2="345" y2="191.8" stroke="#8a8a8a" stroke-width="1" />
<line x1="387" y1="189.3" x2="387" y2="193.8" stroke="#8a8a8a" stroke-width="1" />
<text x="387" y="208.5" font-size="14.4" text-anchor="middle" fill="#1a1a1a" >4</text>
<line x1="429" y1="189.3" x2="429" y2="191.8" stroke="#8a8a8a" stroke-width="1" />
<line x1="471" y1="189.3" x2="471" y2="193.8" stroke="#8a8a8a" stroke-width="1" />
<text x="471" y="208.5" font-size="14.4" text-anchor="middle" fill="#1a1a1a" >8</text>
<text x="386.6" y="222.5" font-size="14.4" text-anchor="middle" fill="#1a1a1a" >H-Bond number</text>
<text transform="translate(282,103.5) rotate(-90)" font-size="14.4" text-anchor="middle" fill="#1a1a1a">z (Å)</text>
<text x="294" y="11.5" font-size="14.4" text-anchor="start" fill="#1a1a1a" >(b)</text>
<clipPath id="cpb"><rect x="303" y="16.4" width="168" height="172.9"/></clipPath>
<g clip-path="url(#cpb)">
<path d="M330.6 23.5 L317.6 42.4 L329.9 61 L323.6 79.9 L327.8 98.8 L327.8 117.7 L403.5 136.6 L312.4 154.2 L304 163" stroke="#f0913a" stroke-width="3.2" fill="none" stroke-linejoin="round"/>
<circle cx="330.6" cy="23.5" r="6.2" fill="url(#gOr)" stroke="none" stroke-width="0" />
<circle cx="317.6" cy="42.4" r="6.2" fill="url(#gOr)" stroke="none" stroke-width="0" />
<circle cx="329.9" cy="61" r="6.2" fill="url(#gOr)" stroke="none" stroke-width="0" />
<circle cx="323.6" cy="79.9" r="6.2" fill="url(#gOr)" stroke="none" stroke-width="0" />
<circle cx="327.8" cy="98.8" r="6.2" fill="url(#gOr)" stroke="none" stroke-width="0" />
<circle cx="327.8" cy="117.7" r="6.2" fill="url(#gOr)" stroke="none" stroke-width="0" />
<circle cx="403.5" cy="136.6" r="6.2" fill="url(#gOr)" stroke="none" stroke-width="0" />
<circle cx="312.4" cy="154.2" r="6.2" fill="url(#gOr)" stroke="none" stroke-width="0" />
<path d="M321.1 23.5 L330.6 42 L331.3 61 L316.6 79.9 L339.7 98.8 L339.7 117.7 L364.6 136.6 L321.1 155.2 L303.3 168.2" stroke="#7a9ad2" stroke-width="3.2" fill="none" stroke-linejoin="round"/>
<circle cx="321.1" cy="23.5" r="6.2" fill="url(#gBl)" stroke="none" stroke-width="0" />
<circle cx="330.6" cy="42" r="6.2" fill="url(#gBl)" stroke="none" stroke-width="0" />
<circle cx="331.3" cy="61" r="6.2" fill="url(#gBl)" stroke="none" stroke-width="0" />
<circle cx="316.6" cy="79.9" r="6.2" fill="url(#gBl)" stroke="none" stroke-width="0" />
<circle cx="339.7" cy="98.8" r="6.2" fill="url(#gBl)" stroke="none" stroke-width="0" />
<circle cx="339.7" cy="117.7" r="6.2" fill="url(#gBl)" stroke="none" stroke-width="0" />
<circle cx="364.6" cy="136.6" r="6.2" fill="url(#gBl)" stroke="none" stroke-width="0" />
<circle cx="321.1" cy="155.2" r="6.2" fill="url(#gBl)" stroke="none" stroke-width="0" />
<circle cx="303.3" cy="168.2" r="6.2" fill="url(#gBl)" stroke="none" stroke-width="0" />
</g>
<path d="M435 132.1 A16.8 16.8 0 0 0 435 165.70000000000002 Z" fill="url(#gHalfO)"/>
<path d="M435 132.1 A16.8 16.8 0 0 1 435 165.70000000000002 Z" fill="url(#gHalfB)"/>
<circle cx="435" cy="148.9" r="16.8" fill="none" stroke="#222" stroke-width="0.8" />
<line x1="435" y1="132.1" x2="435" y2="165.7" stroke="#222" stroke-width="0.8" />
<circle cx="435" cy="148.9" r="2.6" fill="#000" stroke="none" stroke-width="0" />
<line x1="435" y1="148.9" x2="435.5" y2="106" stroke="#000" stroke-width="1.8"/>
<path d="M430.8 109.5 L435.5 100 L439.8 109.5 Z" fill="#000"/>
<text x="428" y="125.5" font-size="14.4" text-anchor="middle" fill="#1a1a1a" >z</text>
<line x1="428" y1="100.5" x2="441" y2="95" stroke="#333" stroke-width="0.8" stroke-dasharray="2 1.5"/>
<circle cx="413.5" cy="107.3" r="8" fill="url(#gO)" stroke="#333" stroke-width="0.6" />
<circle cx="407" cy="98.5" r="5.3" fill="url(#gH2)" stroke="#333" stroke-width="0.5" />
<circle cx="423.3" cy="102" r="5.3" fill="url(#gH2)" stroke="#333" stroke-width="0.5" />
<circle cx="448.2" cy="92.9" r="8" fill="url(#gO)" stroke="#333" stroke-width="0.6" />
<circle cx="450.1" cy="81.8" r="5.3" fill="url(#gH2)" stroke="#333" stroke-width="0.5" />
<circle cx="458.6" cy="96.8" r="5.3" fill="url(#gH2)" stroke="#333" stroke-width="0.5" />
<line x1="676.2" y1="16.4" x2="676.2" y2="188.9" stroke="#b4b4b4" stroke-width="1" />
<line x1="508.4" y1="16.4" x2="508.4" y2="188.9" stroke="#a0a0a0" stroke-width="1" />
<line x1="508.4" y1="188.9" x2="676.2" y2="188.9" stroke="#8a8a8a" stroke-width="1" />
<line x1="503.4" y1="189.3" x2="508.4" y2="189.3" stroke="#8a8a8a" stroke-width="1" />
<text x="499.5" y="194.1" font-size="14.4" text-anchor="end" fill="#1a1a1a" >0</text>
<line x1="505.9" y1="173.6" x2="508.4" y2="173.6" stroke="#8a8a8a" stroke-width="1" />
<line x1="505.9" y1="157.9" x2="508.4" y2="157.9" stroke="#8a8a8a" stroke-width="1" />
<line x1="503.4" y1="142.3" x2="508.4" y2="142.3" stroke="#8a8a8a" stroke-width="1" />
<text x="499.5" y="147.1" font-size="14.4" text-anchor="end" fill="#1a1a1a" >3</text>
<line x1="505.9" y1="126.6" x2="508.4" y2="126.6" stroke="#8a8a8a" stroke-width="1" />
<line x1="505.9" y1="110.9" x2="508.4" y2="110.9" stroke="#8a8a8a" stroke-width="1" />
<line x1="503.4" y1="95.2" x2="508.4" y2="95.2" stroke="#8a8a8a" stroke-width="1" />
<text x="499.5" y="100" font-size="14.4" text-anchor="end" fill="#1a1a1a" >6</text>
<line x1="505.9" y1="79.5" x2="508.4" y2="79.5" stroke="#8a8a8a" stroke-width="1" />
<line x1="505.9" y1="63.9" x2="508.4" y2="63.9" stroke="#8a8a8a" stroke-width="1" />
<line x1="503.4" y1="48.2" x2="508.4" y2="48.2" stroke="#8a8a8a" stroke-width="1" />
<text x="499.5" y="53" font-size="14.4" text-anchor="end" fill="#1a1a1a" >9</text>
<line x1="505.9" y1="32.5" x2="508.4" y2="32.5" stroke="#8a8a8a" stroke-width="1" />
<line x1="505.9" y1="16.8" x2="508.4" y2="16.8" stroke="#8a8a8a" stroke-width="1" />
<line x1="508.4" y1="188.9" x2="508.4" y2="193.4" stroke="#8a8a8a" stroke-width="1" />
<text x="508.4" y="208.5" font-size="14.4" text-anchor="middle" fill="#1a1a1a" >0.0</text>
<line x1="550.3" y1="188.9" x2="550.3" y2="191.4" stroke="#8a8a8a" stroke-width="1" />
<line x1="592.2" y1="188.9" x2="592.2" y2="193.4" stroke="#8a8a8a" stroke-width="1" />
<text x="592.2" y="208.5" font-size="14.4" text-anchor="middle" fill="#1a1a1a" >2.0</text>
<line x1="634.1" y1="188.9" x2="634.1" y2="191.4" stroke="#8a8a8a" stroke-width="1" />
<line x1="676" y1="188.9" x2="676" y2="193.4" stroke="#8a8a8a" stroke-width="1" />
<text x="676" y="208.5" font-size="14.4" text-anchor="middle" fill="#1a1a1a" >4.0</text>
<text x="592.5" y="222.5" font-size="14.4" text-anchor="middle" fill="#1a1a1a" >g(r)</text>
<text transform="translate(487,103) rotate(-90)" font-size="14.4" text-anchor="middle" fill="#1a1a1a">r (Å)</text>
<text x="499" y="11.5" font-size="14.4" text-anchor="start" fill="#1a1a1a" >(c)</text>
<text x="641" y="36.5" font-size="14.4" text-anchor="end" fill="#ef8c34" >WOC</text>
<line x1="645" y1="30.3" x2="670.4" y2="30.3" stroke="#ef8c34" stroke-width="2.6" stroke-linecap="round"/>
<text x="641" y="57.2" font-size="14.4" text-anchor="end" fill="#3f6fbf" >Ni-WOC</text>
<line x1="645" y1="51.3" x2="670.4" y2="51.3" stroke="#3f6fbf" stroke-width="2.6" stroke-linecap="round"/>
<path d="M556.1 17 L556 17.8 L558.1 18.7 L559.5 19.5 L558.8 20.7 L553.4 21.8 L554.6 23 L550.9 25 L550.5 27 L548.6 29 L549.5 30.7 L545.7 32.3 L546.7 34 L548.2 36.5 L551.2 38.9 L550.7 41.4 L550.1 43.6 L548 45.8 L547.3 48 L549.4 50.3 L549.4 52.7 L553 55 L551.1 56.7 L549.1 58.3 L547.8 60 L548.9 61.6 L552 63.1 L553.8 64.7 L551.2 66.5 L548.7 68.2 L544.4 70 L541 72.9 L537.2 75.7 L533.4 78.6 L535.5 81.1 L538.1 83.5 L539 86 L540.7 88.7 L542.5 91.3 L542.2 94 L536.5 95.7 L531 97.3 L526.3 99 L530 101.5 L529.9 103.9 L530.7 106.4 L533.4 109.4 L537 112.3 L537.1 115.3 L535.9 116.5 L533.9 117.8 L531.7 119 L534.1 119.7 L538 120.5 L541.3 121.2 L551.8 122.4 L561.7 123.6 L571.5 124.8 L560.7 125.4 L551 125.9 L539.3 126.5 L533.4 127.2 L524.9 127.8 L516.4 128.5 L515.2 129.2 L512.7 130 L511.8 130.7 L511.7 132.1 L511.8 133.6 L508.1 135 L508.1 137.3 L508.9 139.7 L509.5 142 L510.7 143.6 L510.6 145.1 L510.8 146.7 L513.8 150.4 L586 155.2 L548.8 157.2 L536 157.8 L548.8 158.2 L510.8 160.6 L509.4 162.8" stroke="#ef8c34" stroke-width="3.1" fill="none" stroke-linejoin="round"/>
<path d="M568.1 17 L566.7 18.6 L563.2 20.1 L564.9 21.7 L557.9 23.1 L554.8 24.6 L552.2 26 L549.6 28 L548.8 29.9 L548 31.9 L548 32.9 L548.3 33.8 L545 34.8 L542.3 36 L542.2 37.3 L539.5 38.5 L541.2 40.2 L543.5 41.9 L543 43.6 L542.5 45.5 L540.4 47.5 L539.9 49.4 L543.2 50.6 L545 51.8 L548.5 53 L551 54.2 L553 55.5 L554.9 56.7 L551.4 58.1 L549.1 59.6 L545.7 61 L548.9 62.5 L545.6 64 L548.9 65.5 L545.7 67 L543.2 68.4 L539.1 69.9 L535.4 71.6 L533.7 73.3 L531.8 75 L533.5 76.4 L536.9 77.9 L536.9 79.3 L541.6 82 L542.9 84.7 L542.7 87.4 L540.6 88.6 L537 89.8 L533.3 91 L528.8 93.2 L524.3 95.4 L517.8 97.6 L520.7 99.5 L524 101.5 L527.4 103.4 L528.6 105.2 L527.4 107 L528.9 108.8 L531 110 L531.6 111.2 L535.3 112.4 L538.5 113.6 L541.5 114.8 L544.7 116 L543.5 117 L546.4 118 L547.3 119 L573.6 122.2 L548.8 124.8 L526.9 127.7 L521 130.7 L513.8 136.5 L509 141 L508.6 150 L508.6 168.6" stroke="#3f6fbf" stroke-width="3.1" fill="none" stroke-linejoin="round"/>
<path d="M585 148 A42 40.5 0 0 1 669 148" fill="none" stroke="#222" stroke-width="1.1" stroke-dasharray="4 2.6"/>
<ellipse cx="627" cy="148" rx="42" ry="10.5" fill="none" stroke="#222" stroke-width="1.1" stroke-dasharray="4 2.6"/>
<path d="M627 131.6 A16.8 16.8 0 0 0 627 165.20000000000002 Z" fill="url(#gHalfO)"/>
<path d="M627 131.6 A16.8 16.8 0 0 1 627 165.20000000000002 Z" fill="url(#gHalfB)"/>
<circle cx="627" cy="148.4" r="16.8" fill="none" stroke="#222" stroke-width="0.8" />
<line x1="627" y1="131.6" x2="627" y2="165.2" stroke="#222" stroke-width="0.8" />
<path d="M614 158.8 Q627 160 640 158.8" fill="none" stroke="#222" stroke-width="1.1" stroke-dasharray="4 2.6"/>
<circle cx="627" cy="148.4" r="2.6" fill="#000" stroke="none" stroke-width="0" />
<line x1="627" y1="148.4" x2="657" y2="131.5" stroke="#000" stroke-width="1.8"/>
<path d="M653 127 L663.5 128 L658 136.5 Z" fill="#000"/>
<text x="648.5" y="134" font-size="14.4" text-anchor="middle" fill="#1a1a1a" >r</text>
<circle cx="600.4" cy="116.3" r="7.2" fill="url(#gO)" stroke="#333" stroke-width="0.6" />
<circle cx="589" cy="115" r="5" fill="url(#gH2)" stroke="#333" stroke-width="0.5" />
<circle cx="603" cy="105" r="5" fill="url(#gH2)" stroke="#333" stroke-width="0.5" />
<circle cx="649.8" cy="113.4" r="7.2" fill="url(#gO)" stroke="#333" stroke-width="0.6" />
<circle cx="646.6" cy="102.8" r="5" fill="url(#gH2)" stroke="#333" stroke-width="0.5" />
<circle cx="661.6" cy="112.5" r="5" fill="url(#gH2)" stroke="#333" stroke-width="0.5" />
<text x="6.5" y="261" font-size="14.4" text-anchor="start" fill="#1a1a1a" >(d)</text>
<clipPath id="cpd"><rect x="15.5" y="267.4" width="226.5" height="225.8"/></clipPath>
<g clip-path="url(#cpd)">
<path d="M13.5 403.6 L15.4 403.3 L17.4 404.3 L19.3 403.3 L21.2 403.4 L23.2 404 L25.1 403.1 L27.1 403.2 L29 403.5 L30.9 403.3 L32.9 402.8 L34.8 402.8 L36.7 402.4 L38.7 402.5 L40.6 401.3 L42.6 401.4 L44.5 401.7 L46.4 401.6 L48.4 400 L50.3 399.5 L52.2 397.6 L54.2 396.4 L56.1 395.1 L58.1 394 L60 392.2 L61.9 389.9 L63.9 387.4 L65.8 384.9 L67.7 382.8 L69.7 381.4 L71.6 380.4 L73.5 378.6 L75.5 377.6 L77.4 376.2 L79.4 375.9 L81.3 376 L83.2 376 L85.2 376.7 L87.1 377.1 L89 378.7 L91 379 L92.9 379.9 L94.9 381.1 L96.8 382.1 L98.7 382.9 L100.7 383.8 L102.6 384.3 L104.5 384.7 L106.5 385 L108.4 385.7 L110.3 386.8 L112.3 386.9 L114.2 387 L116.2 387.6 L118.1 388 L120 389 L122 389 L123.9 390.2 L125.8 390 L127.8 390.2 L129.7 390.4 L131.7 391.3 L133.6 391.5 L135.5 391.9 L137.5 393 L139.4 393.4 L141.3 394.3 L143.3 394.5 L145.2 394.1 L147.2 396 L149.1 395.6 L151 397.4 L153 398.1 L154.9 397.8 L156.8 398.2 L158.8 398.7 L160.7 400 L162.6 400.2 L164.6 400.7 L166.5 401.6 L168.5 403.2 L170.4 403.4 L172.3 404.3 L174.3 405.1 L176.2 406 L178.1 406.7 L180.1 406.9 L182 407.7 L184 408.1 L185.9 408.7 L187.8 409.9 L189.8 409.9 L191.7 410.6 L193.6 410.9 L195.6 411.5 L197.5 412.5 L199.4 412.5 L201.4 412.9 L203.3 413.7 L205.3 414.1 L207.2 414.6 L209.1 414.8 L211.1 414.5 L213 415.8 L214.9 416 L216.9 416.4 L218.8 416 L220.8 417.4 L222.7 416.3 L224.6 417.2 L226.6 417.2 L228.5 417 L230.4 417.4 L232.4 416.9 L234.3 416.1 L236.3 416.5 L238.2 417 L240.1 417.5 L242.1 416.2 L244 416.7" fill="none" stroke="#fff" stroke-width="4.3" stroke-linejoin="round"/>
<path d="M13.5 403.6 L15.4 403.3 L17.4 404.3 L19.3 403.3 L21.2 403.4 L23.2 404 L25.1 403.1 L27.1 403.2 L29 403.5 L30.9 403.3 L32.9 402.8 L34.8 402.8 L36.7 402.4 L38.7 402.5 L40.6 401.3 L42.6 401.4 L44.5 401.7 L46.4 401.6 L48.4 400 L50.3 399.5 L52.2 397.6 L54.2 396.4 L56.1 395.1 L58.1 394 L60 392.2 L61.9 389.9 L63.9 387.4 L65.8 384.9 L67.7 382.8 L69.7 381.4 L71.6 380.4 L73.5 378.6 L75.5 377.6 L77.4 376.2 L79.4 375.9 L81.3 376 L83.2 376 L85.2 376.7 L87.1 377.1 L89 378.7 L91 379 L92.9 379.9 L94.9 381.1 L96.8 382.1 L98.7 382.9 L100.7 383.8 L102.6 384.3 L104.5 384.7 L106.5 385 L108.4 385.7 L110.3 386.8 L112.3 386.9 L114.2 387 L116.2 387.6 L118.1 388 L120 389 L122 389 L123.9 390.2 L125.8 390 L127.8 390.2 L129.7 390.4 L131.7 391.3 L133.6 391.5 L135.5 391.9 L137.5 393 L139.4 393.4 L141.3 394.3 L143.3 394.5 L145.2 394.1 L147.2 396 L149.1 395.6 L151 397.4 L153 398.1 L154.9 397.8 L156.8 398.2 L158.8 398.7 L160.7 400 L162.6 400.2 L164.6 400.7 L166.5 401.6 L168.5 403.2 L170.4 403.4 L172.3 404.3 L174.3 405.1 L176.2 406 L178.1 406.7 L180.1 406.9 L182 407.7 L184 408.1 L185.9 408.7 L187.8 409.9 L189.8 409.9 L191.7 410.6 L193.6 410.9 L195.6 411.5 L197.5 412.5 L199.4 412.5 L201.4 412.9 L203.3 413.7 L205.3 414.1 L207.2 414.6 L209.1 414.8 L211.1 414.5 L213 415.8 L214.9 416 L216.9 416.4 L218.8 416 L220.8 417.4 L222.7 416.3 L224.6 417.2 L226.6 417.2 L228.5 417 L230.4 417.4 L232.4 416.9 L234.3 416.1 L236.3 416.5 L238.2 417 L240.1 417.5 L242.1 416.2 L244 416.7" fill="none" stroke="#1c5ca6" stroke-width="3.4" stroke-linejoin="round"/>
<path d="M13.5 400.5 L15.4 400.2 L17.4 399.9 L19.3 399.5 L21.2 399.4 L23.2 399.8 L25.1 399.9 L27.1 399.3 L29 399.5 L30.9 400.2 L32.9 399.7 L34.8 399.3 L36.7 399.1 L38.7 398.7 L40.6 399 L42.6 398.9 L44.5 398.7 L46.4 398 L48.4 397.5 L50.3 396.5 L52.2 395.3 L54.2 393.9 L56.1 392.6 L58.1 390.6 L60 387.9 L61.9 386.5 L63.9 383.8 L65.8 381.5 L67.7 378.8 L69.7 377.2 L71.6 376.8 L73.5 375.2 L75.5 373.3 L77.4 372.5 L79.4 372.1 L81.3 372.2 L83.2 372.8 L85.2 372.4 L87.1 372.9 L89 374.3 L91 375 L92.9 376.4 L94.9 377.3 L96.8 378.3 L98.7 378.8 L100.7 379.8 L102.6 380 L104.5 381 L106.5 381.3 L108.4 381.5 L110.3 382.7 L112.3 382.8 L114.2 384.2 L116.2 384.2 L118.1 384.6 L120 384.9 L122 385.2 L123.9 384.7 L125.8 386.4 L127.8 386.1 L129.7 387.1 L131.7 386.9 L133.6 387.7 L135.5 388.2 L137.5 388.5 L139.4 389.4 L141.3 390.2 L143.3 390.5 L145.2 390.8 L147.2 391.6 L149.1 392.5 L151 393.3 L153 393.8 L154.9 394.2 L156.8 394.3 L158.8 395.5 L160.7 395.8 L162.6 396.2 L164.6 397.3 L166.5 397.9 L168.5 398.7 L170.4 398.9 L172.3 399.8 L174.3 400.2 L176.2 401.7 L178.1 402.4 L180.1 403.5 L182 403.8 L184 404.2 L185.9 405.7 L187.8 405.1 L189.8 405.6 L191.7 406.4 L193.6 407.4 L195.6 407.7 L197.5 408.2 L199.4 408.4 L201.4 409.8 L203.3 409.5 L205.3 409.7 L207.2 410.5 L209.1 410.7 L211.1 411.3 L213 412.3 L214.9 412 L216.9 412.4 L218.8 412.5 L220.8 412.8 L222.7 413.3 L224.6 413.4 L226.6 413.4 L228.5 413.2 L230.4 413.4 L232.4 413.6 L234.3 413.2 L236.3 413.1 L238.2 412.5 L240.1 413.4 L242.1 412.4 L244 412.5" fill="none" stroke="#fff" stroke-width="4.3" stroke-linejoin="round"/>
<path d="M13.5 400.5 L15.4 400.2 L17.4 399.9 L19.3 399.5 L21.2 399.4 L23.2 399.8 L25.1 399.9 L27.1 399.3 L29 399.5 L30.9 400.2 L32.9 399.7 L34.8 399.3 L36.7 399.1 L38.7 398.7 L40.6 399 L42.6 398.9 L44.5 398.7 L46.4 398 L48.4 397.5 L50.3 396.5 L52.2 395.3 L54.2 393.9 L56.1 392.6 L58.1 390.6 L60 387.9 L61.9 386.5 L63.9 383.8 L65.8 381.5 L67.7 378.8 L69.7 377.2 L71.6 376.8 L73.5 375.2 L75.5 373.3 L77.4 372.5 L79.4 372.1 L81.3 372.2 L83.2 372.8 L85.2 372.4 L87.1 372.9 L89 374.3 L91 375 L92.9 376.4 L94.9 377.3 L96.8 378.3 L98.7 378.8 L100.7 379.8 L102.6 380 L104.5 381 L106.5 381.3 L108.4 381.5 L110.3 382.7 L112.3 382.8 L114.2 384.2 L116.2 384.2 L118.1 384.6 L120 384.9 L122 385.2 L123.9 384.7 L125.8 386.4 L127.8 386.1 L129.7 387.1 L131.7 386.9 L133.6 387.7 L135.5 388.2 L137.5 388.5 L139.4 389.4 L141.3 390.2 L143.3 390.5 L145.2 390.8 L147.2 391.6 L149.1 392.5 L151 393.3 L153 393.8 L154.9 394.2 L156.8 394.3 L158.8 395.5 L160.7 395.8 L162.6 396.2 L164.6 397.3 L166.5 397.9 L168.5 398.7 L170.4 398.9 L172.3 399.8 L174.3 400.2 L176.2 401.7 L178.1 402.4 L180.1 403.5 L182 403.8 L184 404.2 L185.9 405.7 L187.8 405.1 L189.8 405.6 L191.7 406.4 L193.6 407.4 L195.6 407.7 L197.5 408.2 L199.4 408.4 L201.4 409.8 L203.3 409.5 L205.3 409.7 L207.2 410.5 L209.1 410.7 L211.1 411.3 L213 412.3 L214.9 412 L216.9 412.4 L218.8 412.5 L220.8 412.8 L222.7 413.3 L224.6 413.4 L226.6 413.4 L228.5 413.2 L230.4 413.4 L232.4 413.6 L234.3 413.2 L236.3 413.1 L238.2 412.5 L240.1 413.4 L242.1 412.4 L244 412.5" fill="none" stroke="#2d70b3" stroke-width="3.4" stroke-linejoin="round"/>
<path d="M13.5 396.5 L15.4 396.6 L17.4 396.7 L19.3 396.4 L21.2 396.6 L23.2 396.5 L25.1 396.1 L27.1 396.6 L29 396.5 L30.9 396.9 L32.9 396.5 L34.8 396.6 L36.7 396.2 L38.7 396 L40.6 395.8 L42.6 395.3 L44.5 394.7 L46.4 394.9 L48.4 393.7 L50.3 392.7 L52.2 391.7 L54.2 390 L56.1 389.1 L58.1 387.2 L60 384.9 L61.9 382.9 L63.9 380.5 L65.8 378.3 L67.7 375.5 L69.7 374.1 L71.6 372.8 L73.5 371.3 L75.5 369.3 L77.4 368.3 L79.4 368.6 L81.3 367.7 L83.2 368.4 L85.2 368.4 L87.1 369.8 L89 370.2 L91 371.4 L92.9 371.7 L94.9 373.3 L96.8 374.7 L98.7 374.7 L100.7 376.3 L102.6 376.2 L104.5 377 L106.5 376.6 L108.4 378.5 L110.3 378.4 L112.3 379.1 L114.2 379.4 L116.2 379.9 L118.1 381 L120 380.8 L122 381.7 L123.9 381.7 L125.8 382.3 L127.8 382.3 L129.7 383 L131.7 384.2 L133.6 384.1 L135.5 384.7 L137.5 384.9 L139.4 386 L141.3 386.7 L143.3 386.2 L145.2 386.8 L147.2 388.6 L149.1 388.6 L151 389.1 L153 389.8 L154.9 390.5 L156.8 391 L158.8 391.2 L160.7 392.5 L162.6 392.4 L164.6 392.7 L166.5 393.6 L168.5 394.5 L170.4 395.1 L172.3 396 L174.3 396.9 L176.2 396.4 L178.1 398.1 L180.1 399.4 L182 399.9 L184 400.1 L185.9 400.7 L187.8 401.9 L189.8 402 L191.7 402.5 L193.6 404 L195.6 403.8 L197.5 404.7 L199.4 404.9 L201.4 405.4 L203.3 405.5 L205.3 406 L207.2 407.2 L209.1 406.8 L211.1 407.8 L213 407.7 L214.9 408.4 L216.9 408.7 L218.8 408.4 L220.8 409.5 L222.7 409.3 L224.6 410 L226.6 409.5 L228.5 410.1 L230.4 410.5 L232.4 409.7 L234.3 409.3 L236.3 409.6 L238.2 409.4 L240.1 409.2 L242.1 409.2 L244 409" fill="none" stroke="#fff" stroke-width="4.3" stroke-linejoin="round"/>
<path d="M13.5 396.5 L15.4 396.6 L17.4 396.7 L19.3 396.4 L21.2 396.6 L23.2 396.5 L25.1 396.1 L27.1 396.6 L29 396.5 L30.9 396.9 L32.9 396.5 L34.8 396.6 L36.7 396.2 L38.7 396 L40.6 395.8 L42.6 395.3 L44.5 394.7 L46.4 394.9 L48.4 393.7 L50.3 392.7 L52.2 391.7 L54.2 390 L56.1 389.1 L58.1 387.2 L60 384.9 L61.9 382.9 L63.9 380.5 L65.8 378.3 L67.7 375.5 L69.7 374.1 L71.6 372.8 L73.5 371.3 L75.5 369.3 L77.4 368.3 L79.4 368.6 L81.3 367.7 L83.2 368.4 L85.2 368.4 L87.1 369.8 L89 370.2 L91 371.4 L92.9 371.7 L94.9 373.3 L96.8 374.7 L98.7 374.7 L100.7 376.3 L102.6 376.2 L104.5 377 L106.5 376.6 L108.4 378.5 L110.3 378.4 L112.3 379.1 L114.2 379.4 L116.2 379.9 L118.1 381 L120 380.8 L122 381.7 L123.9 381.7 L125.8 382.3 L127.8 382.3 L129.7 383 L131.7 384.2 L133.6 384.1 L135.5 384.7 L137.5 384.9 L139.4 386 L141.3 386.7 L143.3 386.2 L145.2 386.8 L147.2 388.6 L149.1 388.6 L151 389.1 L153 389.8 L154.9 390.5 L156.8 391 L158.8 391.2 L160.7 392.5 L162.6 392.4 L164.6 392.7 L166.5 393.6 L168.5 394.5 L170.4 395.1 L172.3 396 L174.3 396.9 L176.2 396.4 L178.1 398.1 L180.1 399.4 L182 399.9 L184 400.1 L185.9 400.7 L187.8 401.9 L189.8 402 L191.7 402.5 L193.6 404 L195.6 403.8 L197.5 404.7 L199.4 404.9 L201.4 405.4 L203.3 405.5 L205.3 406 L207.2 407.2 L209.1 406.8 L211.1 407.8 L213 407.7 L214.9 408.4 L216.9 408.7 L218.8 408.4 L220.8 409.5 L222.7 409.3 L224.6 410 L226.6 409.5 L228.5 410.1 L230.4 410.5 L232.4 409.7 L234.3 409.3 L236.3 409.6 L238.2 409.4 L240.1 409.2 L242.1 409.2 L244 409" fill="none" stroke="#4184c0" stroke-width="3.4" stroke-linejoin="round"/>
<path d="M13.5 393.4 L15.4 393.1 L17.4 393 L19.3 393.6 L21.2 393.3 L23.2 394.3 L25.1 393.3 L27.1 393.1 L29 393.2 L30.9 393.6 L32.9 393 L34.8 392.5 L36.7 393.2 L38.7 391.9 L40.6 392.6 L42.6 391.8 L44.5 391.1 L46.4 391.7 L48.4 390.7 L50.3 389.1 L52.2 388.1 L54.2 387.3 L56.1 385.7 L58.1 384.5 L60 382.3 L61.9 379.3 L63.9 376.9 L65.8 374.2 L67.7 371.3 L69.7 370.2 L71.6 369.4 L73.5 366.7 L75.5 366.4 L77.4 364.7 L79.4 363.9 L81.3 364.2 L83.2 365 L85.2 364.5 L87.1 365.9 L89 367 L91 367.2 L92.9 368.7 L94.9 369.7 L96.8 370.4 L98.7 371.6 L100.7 372 L102.6 372.5 L104.5 372.8 L106.5 374 L108.4 374.3 L110.3 374.8 L112.3 375.1 L114.2 375.6 L116.2 376.2 L118.1 377.1 L120 376.9 L122 378.1 L123.9 378.1 L125.8 378.4 L127.8 378.3 L129.7 379.8 L131.7 379 L133.6 380.3 L135.5 381.2 L137.5 381.1 L139.4 381.5 L141.3 382.3 L143.3 383.2 L145.2 383.9 L147.2 384.2 L149.1 384.2 L151 384.9 L153 385.7 L154.9 385.8 L156.8 386.7 L158.8 388.1 L160.7 387.5 L162.6 388.8 L164.6 388.7 L166.5 389.7 L168.5 390.5 L170.4 390.8 L172.3 392 L174.3 393.3 L176.2 393.8 L178.1 394.6 L180.1 394.8 L182 395.7 L184 396.4 L185.9 397.2 L187.8 398 L189.8 397.8 L191.7 399.4 L193.6 399.3 L195.6 399.9 L197.5 400.2 L199.4 401.1 L201.4 401.5 L203.3 401.6 L205.3 402.4 L207.2 403.1 L209.1 403.4 L211.1 404.3 L213 404.1 L214.9 405.1 L216.9 405 L218.8 405.4 L220.8 404.8 L222.7 405.7 L224.6 405.9 L226.6 406.5 L228.5 405.7 L230.4 406.5 L232.4 405.6 L234.3 406.3 L236.3 405.9 L238.2 405.4 L240.1 406.3 L242.1 405 L244 405.4" fill="none" stroke="#fff" stroke-width="4.3" stroke-linejoin="round"/>
<path d="M13.5 393.4 L15.4 393.1 L17.4 393 L19.3 393.6 L21.2 393.3 L23.2 394.3 L25.1 393.3 L27.1 393.1 L29 393.2 L30.9 393.6 L32.9 393 L34.8 392.5 L36.7 393.2 L38.7 391.9 L40.6 392.6 L42.6 391.8 L44.5 391.1 L46.4 391.7 L48.4 390.7 L50.3 389.1 L52.2 388.1 L54.2 387.3 L56.1 385.7 L58.1 384.5 L60 382.3 L61.9 379.3 L63.9 376.9 L65.8 374.2 L67.7 371.3 L69.7 370.2 L71.6 369.4 L73.5 366.7 L75.5 366.4 L77.4 364.7 L79.4 363.9 L81.3 364.2 L83.2 365 L85.2 364.5 L87.1 365.9 L89 367 L91 367.2 L92.9 368.7 L94.9 369.7 L96.8 370.4 L98.7 371.6 L100.7 372 L102.6 372.5 L104.5 372.8 L106.5 374 L108.4 374.3 L110.3 374.8 L112.3 375.1 L114.2 375.6 L116.2 376.2 L118.1 377.1 L120 376.9 L122 378.1 L123.9 378.1 L125.8 378.4 L127.8 378.3 L129.7 379.8 L131.7 379 L133.6 380.3 L135.5 381.2 L137.5 381.1 L139.4 381.5 L141.3 382.3 L143.3 383.2 L145.2 383.9 L147.2 384.2 L149.1 384.2 L151 384.9 L153 385.7 L154.9 385.8 L156.8 386.7 L158.8 388.1 L160.7 387.5 L162.6 388.8 L164.6 388.7 L166.5 389.7 L168.5 390.5 L170.4 390.8 L172.3 392 L174.3 393.3 L176.2 393.8 L178.1 394.6 L180.1 394.8 L182 395.7 L184 396.4 L185.9 397.2 L187.8 398 L189.8 397.8 L191.7 399.4 L193.6 399.3 L195.6 399.9 L197.5 400.2 L199.4 401.1 L201.4 401.5 L203.3 401.6 L205.3 402.4 L207.2 403.1 L209.1 403.4 L211.1 404.3 L213 404.1 L214.9 405.1 L216.9 405 L218.8 405.4 L220.8 404.8 L222.7 405.7 L224.6 405.9 L226.6 406.5 L228.5 405.7 L230.4 406.5 L232.4 405.6 L234.3 406.3 L236.3 405.9 L238.2 405.4 L240.1 406.3 L242.1 405 L244 405.4" fill="none" stroke="#5c9acc" stroke-width="3.4" stroke-linejoin="round"/>
<path d="M13.5 389.9 L15.4 390 L17.4 390 L19.3 390.2 L21.2 390.1 L23.2 390 L25.1 389.7 L27.1 389.9 L29 390.4 L30.9 389.7 L32.9 390 L34.8 388.9 L36.7 389.1 L38.7 388.5 L40.6 389.2 L42.6 387.8 L44.5 388.1 L46.4 388.2 L48.4 387.7 L50.3 386.4 L52.2 385.2 L54.2 383.7 L56.1 382.5 L58.1 380.8 L60 378.3 L61.9 375.2 L63.9 373.3 L65.8 371.2 L67.7 367.9 L69.7 366.1 L71.6 365.1 L73.5 363.9 L75.5 362.4 L77.4 360.2 L79.4 360.5 L81.3 360 L83.2 360.6 L85.2 360.1 L87.1 362.2 L89 362.6 L91 363.7 L92.9 364.6 L94.9 365.3 L96.8 366.9 L98.7 367.4 L100.7 368.1 L102.6 369.2 L104.5 369.5 L106.5 369.8 L108.4 371 L110.3 371 L112.3 371.7 L114.2 372.6 L116.2 373 L118.1 373.5 L120 374 L122 373.8 L123.9 373.9 L125.8 375.1 L127.8 375.4 L129.7 375.1 L131.7 375.9 L133.6 376.1 L135.5 376.2 L137.5 377.7 L139.4 378 L141.3 378.5 L143.3 379.6 L145.2 380 L147.2 379.9 L149.1 380.3 L151 380.5 L153 381.7 L154.9 382.1 L156.8 382.9 L158.8 383.4 L160.7 383.7 L162.6 384.3 L164.6 384.5 L166.5 386.2 L168.5 386.4 L170.4 387.5 L172.3 387.8 L174.3 388.8 L176.2 389.8 L178.1 390.2 L180.1 390.8 L182 392.5 L184 392.3 L185.9 393.2 L187.8 393.6 L189.8 394 L191.7 395.3 L193.6 395.6 L195.6 396.2 L197.5 395.9 L199.4 397.3 L201.4 398 L203.3 398.3 L205.3 398.7 L207.2 399.7 L209.1 399.8 L211.1 400.5 L213 401.1 L214.9 401.5 L216.9 400.9 L218.8 401.7 L220.8 401.5 L222.7 401.3 L224.6 402.4 L226.6 401.9 L228.5 402.3 L230.4 401.5 L232.4 401.9 L234.3 402 L236.3 402 L238.2 401.7 L240.1 401.5 L242.1 401.4 L244 402.2" fill="none" stroke="#fff" stroke-width="4.3" stroke-linejoin="round"/>
<path d="M13.5 389.9 L15.4 390 L17.4 390 L19.3 390.2 L21.2 390.1 L23.2 390 L25.1 389.7 L27.1 389.9 L29 390.4 L30.9 389.7 L32.9 390 L34.8 388.9 L36.7 389.1 L38.7 388.5 L40.6 389.2 L42.6 387.8 L44.5 388.1 L46.4 388.2 L48.4 387.7 L50.3 386.4 L52.2 385.2 L54.2 383.7 L56.1 382.5 L58.1 380.8 L60 378.3 L61.9 375.2 L63.9 373.3 L65.8 371.2 L67.7 367.9 L69.7 366.1 L71.6 365.1 L73.5 363.9 L75.5 362.4 L77.4 360.2 L79.4 360.5 L81.3 360 L83.2 360.6 L85.2 360.1 L87.1 362.2 L89 362.6 L91 363.7 L92.9 364.6 L94.9 365.3 L96.8 366.9 L98.7 367.4 L100.7 368.1 L102.6 369.2 L104.5 369.5 L106.5 369.8 L108.4 371 L110.3 371 L112.3 371.7 L114.2 372.6 L116.2 373 L118.1 373.5 L120 374 L122 373.8 L123.9 373.9 L125.8 375.1 L127.8 375.4 L129.7 375.1 L131.7 375.9 L133.6 376.1 L135.5 376.2 L137.5 377.7 L139.4 378 L141.3 378.5 L143.3 379.6 L145.2 380 L147.2 379.9 L149.1 380.3 L151 380.5 L153 381.7 L154.9 382.1 L156.8 382.9 L158.8 383.4 L160.7 383.7 L162.6 384.3 L164.6 384.5 L166.5 386.2 L168.5 386.4 L170.4 387.5 L172.3 387.8 L174.3 388.8 L176.2 389.8 L178.1 390.2 L180.1 390.8 L182 392.5 L184 392.3 L185.9 393.2 L187.8 393.6 L189.8 394 L191.7 395.3 L193.6 395.6 L195.6 396.2 L197.5 395.9 L199.4 397.3 L201.4 398 L203.3 398.3 L205.3 398.7 L207.2 399.7 L209.1 399.8 L211.1 400.5 L213 401.1 L214.9 401.5 L216.9 400.9 L218.8 401.7 L220.8 401.5 L222.7 401.3 L224.6 402.4 L226.6 401.9 L228.5 402.3 L230.4 401.5 L232.4 401.9 L234.3 402 L236.3 402 L238.2 401.7 L240.1 401.5 L242.1 401.4 L244 402.2" fill="none" stroke="#7cb0d7" stroke-width="3.4" stroke-linejoin="round"/>
<path d="M13.5 386.3 L15.4 386.4 L17.4 387.2 L19.3 386 L21.2 385.9 L23.2 386.3 L25.1 386.6 L27.1 386.3 L29 386.8 L30.9 386.8 L32.9 386.1 L34.8 386.4 L36.7 385.6 L38.7 386 L40.6 385.6 L42.6 386 L44.5 385.2 L46.4 384.6 L48.4 384.3 L50.3 382.9 L52.2 381.3 L54.2 379.7 L56.1 379.3 L58.1 378.1 L60 374.8 L61.9 372.2 L63.9 369.6 L65.8 367.5 L67.7 365 L69.7 362.5 L71.6 361.1 L73.5 359.5 L75.5 358.2 L77.4 357.2 L79.4 356.9 L81.3 356.3 L83.2 356.3 L85.2 357.3 L87.1 358.2 L89 358.8 L91 359.9 L92.9 361 L94.9 362.2 L96.8 362.9 L98.7 364 L100.7 364.7 L102.6 364.9 L104.5 366 L106.5 366.4 L108.4 367.2 L110.3 367 L112.3 367.7 L114.2 368.6 L116.2 368.3 L118.1 369.2 L120 369.5 L122 369.8 L123.9 370.3 L125.8 369.9 L127.8 371.1 L129.7 371.4 L131.7 372.2 L133.6 372.9 L135.5 373.1 L137.5 373.8 L139.4 373.2 L141.3 374.8 L143.3 375.5 L145.2 376 L147.2 376.3 L149.1 376.6 L151 377.1 L153 377.8 L154.9 378.5 L156.8 379.1 L158.8 379.4 L160.7 379.5 L162.6 381.1 L164.6 380.8 L166.5 380.9 L168.5 383.1 L170.4 383.7 L172.3 384.1 L174.3 385.1 L176.2 385.7 L178.1 386 L180.1 387.1 L182 387.3 L184 388.1 L185.9 388.7 L187.8 389.7 L189.8 390.6 L191.7 390.7 L193.6 391.7 L195.6 391.5 L197.5 392.4 L199.4 393.5 L201.4 394.2 L203.3 394.8 L205.3 395.3 L207.2 394.9 L209.1 395.8 L211.1 395.7 L213 397 L214.9 397.5 L216.9 397.6 L218.8 397.6 L220.8 398.3 L222.7 398.6 L224.6 398.6 L226.6 398.6 L228.5 398.8 L230.4 398.7 L232.4 398.6 L234.3 398.6 L236.3 398.3 L238.2 397.7 L240.1 398 L242.1 398.1 L244 397.8" fill="none" stroke="#fff" stroke-width="4.3" stroke-linejoin="round"/>
<path d="M13.5 386.3 L15.4 386.4 L17.4 387.2 L19.3 386 L21.2 385.9 L23.2 386.3 L25.1 386.6 L27.1 386.3 L29 386.8 L30.9 386.8 L32.9 386.1 L34.8 386.4 L36.7 385.6 L38.7 386 L40.6 385.6 L42.6 386 L44.5 385.2 L46.4 384.6 L48.4 384.3 L50.3 382.9 L52.2 381.3 L54.2 379.7 L56.1 379.3 L58.1 378.1 L60 374.8 L61.9 372.2 L63.9 369.6 L65.8 367.5 L67.7 365 L69.7 362.5 L71.6 361.1 L73.5 359.5 L75.5 358.2 L77.4 357.2 L79.4 356.9 L81.3 356.3 L83.2 356.3 L85.2 357.3 L87.1 358.2 L89 358.8 L91 359.9 L92.9 361 L94.9 362.2 L96.8 362.9 L98.7 364 L100.7 364.7 L102.6 364.9 L104.5 366 L106.5 366.4 L108.4 367.2 L110.3 367 L112.3 367.7 L114.2 368.6 L116.2 368.3 L118.1 369.2 L120 369.5 L122 369.8 L123.9 370.3 L125.8 369.9 L127.8 371.1 L129.7 371.4 L131.7 372.2 L133.6 372.9 L135.5 373.1 L137.5 373.8 L139.4 373.2 L141.3 374.8 L143.3 375.5 L145.2 376 L147.2 376.3 L149.1 376.6 L151 377.1 L153 377.8 L154.9 378.5 L156.8 379.1 L158.8 379.4 L160.7 379.5 L162.6 381.1 L164.6 380.8 L166.5 380.9 L168.5 383.1 L170.4 383.7 L172.3 384.1 L174.3 385.1 L176.2 385.7 L178.1 386 L180.1 387.1 L182 387.3 L184 388.1 L185.9 388.7 L187.8 389.7 L189.8 390.6 L191.7 390.7 L193.6 391.7 L195.6 391.5 L197.5 392.4 L199.4 393.5 L201.4 394.2 L203.3 394.8 L205.3 395.3 L207.2 394.9 L209.1 395.8 L211.1 395.7 L213 397 L214.9 397.5 L216.9 397.6 L218.8 397.6 L220.8 398.3 L222.7 398.6 L224.6 398.6 L226.6 398.6 L228.5 398.8 L230.4 398.7 L232.4 398.6 L234.3 398.6 L236.3 398.3 L238.2 397.7 L240.1 398 L242.1 398.1 L244 397.8" fill="none" stroke="#a0c7e1" stroke-width="3.4" stroke-linejoin="round"/>
<path d="M13.5 383.2 L15.4 382.9 L17.4 383.6 L19.3 383.3 L21.2 383.3 L23.2 383.6 L25.1 383.6 L27.1 383.4 L29 383.8 L30.9 383.7 L32.9 383.4 L34.8 383 L36.7 382.4 L38.7 382.6 L40.6 382.3 L42.6 381.6 L44.5 382.1 L46.4 381.4 L48.4 380.6 L50.3 379.4 L52.2 378.2 L54.2 376.9 L56.1 375.3 L58.1 374.2 L60 371 L61.9 368.7 L63.9 366.4 L65.8 363.3 L67.7 361.1 L69.7 359.4 L71.6 357.3 L73.5 355 L75.5 354.5 L77.4 353.5 L79.4 352.1 L81.3 352.5 L83.2 352.9 L85.2 352.7 L87.1 354 L89 355.5 L91 356 L92.9 357 L94.9 358.5 L96.8 358.9 L98.7 359.4 L100.7 361.3 L102.6 361.2 L104.5 362 L106.5 363 L108.4 363.2 L110.3 363.7 L112.3 364 L114.2 365 L116.2 365.9 L118.1 365.3 L120 365.4 L122 366.3 L123.9 366.3 L125.8 366.9 L127.8 367.3 L129.7 367.8 L131.7 368.1 L133.6 368.7 L135.5 369.5 L137.5 369.3 L139.4 370.2 L141.3 370.8 L143.3 370.8 L145.2 371.5 L147.2 372.2 L149.1 372.7 L151 373.8 L153 373.9 L154.9 375.4 L156.8 374.8 L158.8 375.4 L160.7 376.8 L162.6 376.3 L164.6 377.9 L166.5 376.8 L168.5 378.4 L170.4 379.8 L172.3 380.6 L174.3 381 L176.2 381.3 L178.1 382.2 L180.1 383.3 L182 383.8 L184 384.7 L185.9 384.8 L187.8 386 L189.8 386.8 L191.7 388.1 L193.6 387.9 L195.6 388.6 L197.5 388.7 L199.4 389 L201.4 389.3 L203.3 390.8 L205.3 391.9 L207.2 391.7 L209.1 391.4 L211.1 392.9 L213 393.4 L214.9 393.7 L216.9 394.6 L218.8 394.7 L220.8 395 L222.7 394.4 L224.6 395.1 L226.6 394.8 L228.5 395.5 L230.4 394.6 L232.4 395.3 L234.3 394.8 L236.3 394.7 L238.2 394 L240.1 394.6 L242.1 393.6 L244 393.8" fill="none" stroke="#fff" stroke-width="4.3" stroke-linejoin="round"/>
<path d="M13.5 383.2 L15.4 382.9 L17.4 383.6 L19.3 383.3 L21.2 383.3 L23.2 383.6 L25.1 383.6 L27.1 383.4 L29 383.8 L30.9 383.7 L32.9 383.4 L34.8 383 L36.7 382.4 L38.7 382.6 L40.6 382.3 L42.6 381.6 L44.5 382.1 L46.4 381.4 L48.4 380.6 L50.3 379.4 L52.2 378.2 L54.2 376.9 L56.1 375.3 L58.1 374.2 L60 371 L61.9 368.7 L63.9 366.4 L65.8 363.3 L67.7 361.1 L69.7 359.4 L71.6 357.3 L73.5 355 L75.5 354.5 L77.4 353.5 L79.4 352.1 L81.3 352.5 L83.2 352.9 L85.2 352.7 L87.1 354 L89 355.5 L91 356 L92.9 357 L94.9 358.5 L96.8 358.9 L98.7 359.4 L100.7 361.3 L102.6 361.2 L104.5 362 L106.5 363 L108.4 363.2 L110.3 363.7 L112.3 364 L114.2 365 L116.2 365.9 L118.1 365.3 L120 365.4 L122 366.3 L123.9 366.3 L125.8 366.9 L127.8 367.3 L129.7 367.8 L131.7 368.1 L133.6 368.7 L135.5 369.5 L137.5 369.3 L139.4 370.2 L141.3 370.8 L143.3 370.8 L145.2 371.5 L147.2 372.2 L149.1 372.7 L151 373.8 L153 373.9 L154.9 375.4 L156.8 374.8 L158.8 375.4 L160.7 376.8 L162.6 376.3 L164.6 377.9 L166.5 376.8 L168.5 378.4 L170.4 379.8 L172.3 380.6 L174.3 381 L176.2 381.3 L178.1 382.2 L180.1 383.3 L182 383.8 L184 384.7 L185.9 384.8 L187.8 386 L189.8 386.8 L191.7 388.1 L193.6 387.9 L195.6 388.6 L197.5 388.7 L199.4 389 L201.4 389.3 L203.3 390.8 L205.3 391.9 L207.2 391.7 L209.1 391.4 L211.1 392.9 L213 393.4 L214.9 393.7 L216.9 394.6 L218.8 394.7 L220.8 395 L222.7 394.4 L224.6 395.1 L226.6 394.8 L228.5 395.5 L230.4 394.6 L232.4 395.3 L234.3 394.8 L236.3 394.7 L238.2 394 L240.1 394.6 L242.1 393.6 L244 393.8" fill="none" stroke="#c3dae9" stroke-width="3.4" stroke-linejoin="round"/>
<path d="M13.5 379.4 L15.4 380.5 L17.4 379.8 L19.3 379.6 L21.2 380.1 L23.2 380.8 L25.1 380 L27.1 379.7 L29 379.8 L30.9 380.2 L32.9 380.6 L34.8 379.7 L36.7 379.4 L38.7 378.9 L40.6 378.5 L42.6 379 L44.5 378.5 L46.4 378.3 L48.4 377.2 L50.3 376.5 L52.2 375.1 L54.2 374.2 L56.1 372.7 L58.1 370.8 L60 368.3 L61.9 365.5 L63.9 362.7 L65.8 359.7 L67.7 357.6 L69.7 356.2 L71.6 353.7 L73.5 352.6 L75.5 350.2 L77.4 349 L79.4 348.8 L81.3 348.5 L83.2 349.3 L85.2 349.9 L87.1 349.5 L89 351.5 L91 352.3 L92.9 353.8 L94.9 353.9 L96.8 355.3 L98.7 356.7 L100.7 357.5 L102.6 358.3 L104.5 358 L106.5 358.6 L108.4 359.6 L110.3 359.4 L112.3 360.6 L114.2 361.3 L116.2 361.5 L118.1 361.2 L120 361.8 L122 362.3 L123.9 362.9 L125.8 363.2 L127.8 363.3 L129.7 363.2 L131.7 363.6 L133.6 364.4 L135.5 364.9 L137.5 365.5 L139.4 365.9 L141.3 366.8 L143.3 367.1 L145.2 367.9 L147.2 368.4 L149.1 369.1 L151 369.1 L153 369.6 L154.9 370.1 L156.8 371 L158.8 371.8 L160.7 372.4 L162.6 372.6 L164.6 373.1 L166.5 374.1 L168.5 374.6 L170.4 375 L172.3 376.3 L174.3 376.6 L176.2 377 L178.1 378.2 L180.1 378.7 L182 379.6 L184 380.1 L185.9 380.9 L187.8 381.5 L189.8 382.3 L191.7 383.2 L193.6 383.8 L195.6 384.4 L197.5 385.4 L199.4 385.2 L201.4 386.3 L203.3 387.2 L205.3 387.6 L207.2 388.4 L209.1 388.2 L211.1 389.5 L213 389.5 L214.9 390.5 L216.9 390.4 L218.8 390.9 L220.8 390.5 L222.7 391 L224.6 390.6 L226.6 391.6 L228.5 391.7 L230.4 391.4 L232.4 391.6 L234.3 391.2 L236.3 390.9 L238.2 390.9 L240.1 390.4 L242.1 390.8 L244 390.6" fill="none" stroke="#fff" stroke-width="4.3" stroke-linejoin="round"/>
<path d="M13.5 379.4 L15.4 380.5 L17.4 379.8 L19.3 379.6 L21.2 380.1 L23.2 380.8 L25.1 380 L27.1 379.7 L29 379.8 L30.9 380.2 L32.9 380.6 L34.8 379.7 L36.7 379.4 L38.7 378.9 L40.6 378.5 L42.6 379 L44.5 378.5 L46.4 378.3 L48.4 377.2 L50.3 376.5 L52.2 375.1 L54.2 374.2 L56.1 372.7 L58.1 370.8 L60 368.3 L61.9 365.5 L63.9 362.7 L65.8 359.7 L67.7 357.6 L69.7 356.2 L71.6 353.7 L73.5 352.6 L75.5 350.2 L77.4 349 L79.4 348.8 L81.3 348.5 L83.2 349.3 L85.2 349.9 L87.1 349.5 L89 351.5 L91 352.3 L92.9 353.8 L94.9 353.9 L96.8 355.3 L98.7 356.7 L100.7 357.5 L102.6 358.3 L104.5 358 L106.5 358.6 L108.4 359.6 L110.3 359.4 L112.3 360.6 L114.2 361.3 L116.2 361.5 L118.1 361.2 L120 361.8 L122 362.3 L123.9 362.9 L125.8 363.2 L127.8 363.3 L129.7 363.2 L131.7 363.6 L133.6 364.4 L135.5 364.9 L137.5 365.5 L139.4 365.9 L141.3 366.8 L143.3 367.1 L145.2 367.9 L147.2 368.4 L149.1 369.1 L151 369.1 L153 369.6 L154.9 370.1 L156.8 371 L158.8 371.8 L160.7 372.4 L162.6 372.6 L164.6 373.1 L166.5 374.1 L168.5 374.6 L170.4 375 L172.3 376.3 L174.3 376.6 L176.2 377 L178.1 378.2 L180.1 378.7 L182 379.6 L184 380.1 L185.9 380.9 L187.8 381.5 L189.8 382.3 L191.7 383.2 L193.6 383.8 L195.6 384.4 L197.5 385.4 L199.4 385.2 L201.4 386.3 L203.3 387.2 L205.3 387.6 L207.2 388.4 L209.1 388.2 L211.1 389.5 L213 389.5 L214.9 390.5 L216.9 390.4 L218.8 390.9 L220.8 390.5 L222.7 391 L224.6 390.6 L226.6 391.6 L228.5 391.7 L230.4 391.4 L232.4 391.6 L234.3 391.2 L236.3 390.9 L238.2 390.9 L240.1 390.4 L242.1 390.8 L244 390.6" fill="none" stroke="#e6ecef" stroke-width="3.4" stroke-linejoin="round"/>
<path d="M13.5 376.4 L15.4 376.3 L17.4 376.2 L19.3 376.1 L21.2 376.5 L23.2 376.9 L25.1 376.1 L27.1 376.8 L29 378.1 L30.9 377 L32.9 376.7 L34.8 376.6 L36.7 376.2 L38.7 376 L40.6 375.7 L42.6 375.1 L44.5 375.6 L46.4 374.9 L48.4 374.8 L50.3 373.1 L52.2 372.1 L54.2 370.4 L56.1 370.1 L58.1 368 L60 365.3 L61.9 362 L63.9 358.7 L65.8 356.3 L67.7 353.8 L69.7 351.8 L71.6 349.8 L73.5 348 L75.5 346.1 L77.4 345.1 L79.4 345.1 L81.3 344.9 L83.2 345.4 L85.2 345.6 L87.1 346.6 L89 347.4 L91 348.4 L92.9 349.4 L94.9 350.6 L96.8 351.4 L98.7 352.5 L100.7 353.9 L102.6 354.5 L104.5 353.8 L106.5 355.2 L108.4 355.7 L110.3 356.4 L112.3 355.9 L114.2 356.6 L116.2 357.4 L118.1 357.9 L120 357.8 L122 358.9 L123.9 359.3 L125.8 359.5 L127.8 359.9 L129.7 359.5 L131.7 360.3 L133.6 360.1 L135.5 361.7 L137.5 362.3 L139.4 362.6 L141.3 362.6 L143.3 363.5 L145.2 364.3 L147.2 364.1 L149.1 365.1 L151 365.8 L153 365.8 L154.9 366.3 L156.8 367.5 L158.8 367.8 L160.7 368.6 L162.6 368.7 L164.6 368.8 L166.5 369.9 L168.5 370.4 L170.4 371.2 L172.3 372.2 L174.3 373.3 L176.2 373.5 L178.1 374.9 L180.1 374.5 L182 375.6 L184 376.4 L185.9 376.3 L187.8 377.2 L189.8 378.3 L191.7 379.1 L193.6 379.9 L195.6 380.5 L197.5 381.1 L199.4 381.3 L201.4 382.4 L203.3 383.5 L205.3 383.8 L207.2 384 L209.1 384.9 L211.1 385.6 L213 386.5 L214.9 386.2 L216.9 386.8 L218.8 387.1 L220.8 387 L222.7 387.3 L224.6 387.5 L226.6 387.9 L228.5 387.9 L230.4 387.2 L232.4 387.4 L234.3 387.8 L236.3 387.2 L238.2 386.4 L240.1 387.4 L242.1 386.6 L244 386.8" fill="none" stroke="#fff" stroke-width="4.3" stroke-linejoin="round"/>
<path d="M13.5 376.4 L15.4 376.3 L17.4 376.2 L19.3 376.1 L21.2 376.5 L23.2 376.9 L25.1 376.1 L27.1 376.8 L29 378.1 L30.9 377 L32.9 376.7 L34.8 376.6 L36.7 376.2 L38.7 376 L40.6 375.7 L42.6 375.1 L44.5 375.6 L46.4 374.9 L48.4 374.8 L50.3 373.1 L52.2 372.1 L54.2 370.4 L56.1 370.1 L58.1 368 L60 365.3 L61.9 362 L63.9 358.7 L65.8 356.3 L67.7 353.8 L69.7 351.8 L71.6 349.8 L73.5 348 L75.5 346.1 L77.4 345.1 L79.4 345.1 L81.3 344.9 L83.2 345.4 L85.2 345.6 L87.1 346.6 L89 347.4 L91 348.4 L92.9 349.4 L94.9 350.6 L96.8 351.4 L98.7 352.5 L100.7 353.9 L102.6 354.5 L104.5 353.8 L106.5 355.2 L108.4 355.7 L110.3 356.4 L112.3 355.9 L114.2 356.6 L116.2 357.4 L118.1 357.9 L120 357.8 L122 358.9 L123.9 359.3 L125.8 359.5 L127.8 359.9 L129.7 359.5 L131.7 360.3 L133.6 360.1 L135.5 361.7 L137.5 362.3 L139.4 362.6 L141.3 362.6 L143.3 363.5 L145.2 364.3 L147.2 364.1 L149.1 365.1 L151 365.8 L153 365.8 L154.9 366.3 L156.8 367.5 L158.8 367.8 L160.7 368.6 L162.6 368.7 L164.6 368.8 L166.5 369.9 L168.5 370.4 L170.4 371.2 L172.3 372.2 L174.3 373.3 L176.2 373.5 L178.1 374.9 L180.1 374.5 L182 375.6 L184 376.4 L185.9 376.3 L187.8 377.2 L189.8 378.3 L191.7 379.1 L193.6 379.9 L195.6 380.5 L197.5 381.1 L199.4 381.3 L201.4 382.4 L203.3 383.5 L205.3 383.8 L207.2 384 L209.1 384.9 L211.1 385.6 L213 386.5 L214.9 386.2 L216.9 386.8 L218.8 387.1 L220.8 387 L222.7 387.3 L224.6 387.5 L226.6 387.9 L228.5 387.9 L230.4 387.2 L232.4 387.4 L234.3 387.8 L236.3 387.2 L238.2 386.4 L240.1 387.4 L242.1 386.6 L244 386.8" fill="none" stroke="#efe1db" stroke-width="3.4" stroke-linejoin="round"/>
<path d="M13.5 373.1 L15.4 372.8 L17.4 372.7 L19.3 372.9 L21.2 373.3 L23.2 373.3 L25.1 373.2 L27.1 374.1 L29 373.6 L30.9 373.9 L32.9 374.1 L34.8 373.2 L36.7 372.8 L38.7 372.5 L40.6 372.4 L42.6 372.7 L44.5 372.2 L46.4 371.5 L48.4 371 L50.3 370 L52.2 369 L54.2 366.8 L56.1 366.2 L58.1 364.4 L60 361.4 L61.9 358.4 L63.9 355.4 L65.8 352.6 L67.7 350.4 L69.7 347.5 L71.6 346 L73.5 344.4 L75.5 342.2 L77.4 341.2 L79.4 340.5 L81.3 341 L83.2 341.5 L85.2 341.4 L87.1 343.2 L89 343.2 L91 343.7 L92.9 344.9 L94.9 346.7 L96.8 346.8 L98.7 348.6 L100.7 349.7 L102.6 350.6 L104.5 350.7 L106.5 351.7 L108.4 351.7 L110.3 352.7 L112.3 352.5 L114.2 353.5 L116.2 353.6 L118.1 354.1 L120 355.2 L122 354.8 L123.9 355.1 L125.8 355.5 L127.8 355.9 L129.7 355.4 L131.7 356.8 L133.6 356.6 L135.5 356.8 L137.5 358.1 L139.4 358.1 L141.3 359.2 L143.3 360 L145.2 360.1 L147.2 360.3 L149.1 361.1 L151 362.3 L153 362.1 L154.9 363.2 L156.8 363.6 L158.8 363.2 L160.7 364.4 L162.6 364.2 L164.6 365.4 L166.5 366.1 L168.5 366.5 L170.4 366.8 L172.3 367.9 L174.3 368.6 L176.2 369.6 L178.1 370.2 L180.1 371.1 L182 371.5 L184 371.8 L185.9 373 L187.8 374.2 L189.8 374.2 L191.7 374.8 L193.6 375.2 L195.6 377.2 L197.5 376.9 L199.4 378.3 L201.4 378.6 L203.3 379.1 L205.3 379.8 L207.2 381.1 L209.1 381.7 L211.1 381.9 L213 382.2 L214.9 383.2 L216.9 383.2 L218.8 383.3 L220.8 383.6 L222.7 383.4 L224.6 384.2 L226.6 384.1 L228.5 384 L230.4 383.5 L232.4 383.8 L234.3 383.8 L236.3 382.9 L238.2 383.4 L240.1 383.3 L242.1 383.4 L244 383.3" fill="none" stroke="#fff" stroke-width="4.3" stroke-linejoin="round"/>
<path d="M13.5 373.1 L15.4 372.8 L17.4 372.7 L19.3 372.9 L21.2 373.3 L23.2 373.3 L25.1 373.2 L27.1 374.1 L29 373.6 L30.9 373.9 L32.9 374.1 L34.8 373.2 L36.7 372.8 L38.7 372.5 L40.6 372.4 L42.6 372.7 L44.5 372.2 L46.4 371.5 L48.4 371 L50.3 370 L52.2 369 L54.2 366.8 L56.1 366.2 L58.1 364.4 L60 361.4 L61.9 358.4 L63.9 355.4 L65.8 352.6 L67.7 350.4 L69.7 347.5 L71.6 346 L73.5 344.4 L75.5 342.2 L77.4 341.2 L79.4 340.5 L81.3 341 L83.2 341.5 L85.2 341.4 L87.1 343.2 L89 343.2 L91 343.7 L92.9 344.9 L94.9 346.7 L96.8 346.8 L98.7 348.6 L100.7 349.7 L102.6 350.6 L104.5 350.7 L106.5 351.7 L108.4 351.7 L110.3 352.7 L112.3 352.5 L114.2 353.5 L116.2 353.6 L118.1 354.1 L120 355.2 L122 354.8 L123.9 355.1 L125.8 355.5 L127.8 355.9 L129.7 355.4 L131.7 356.8 L133.6 356.6 L135.5 356.8 L137.5 358.1 L139.4 358.1 L141.3 359.2 L143.3 360 L145.2 360.1 L147.2 360.3 L149.1 361.1 L151 362.3 L153 362.1 L154.9 363.2 L156.8 363.6 L158.8 363.2 L160.7 364.4 L162.6 364.2 L164.6 365.4 L166.5 366.1 L168.5 366.5 L170.4 366.8 L172.3 367.9 L174.3 368.6 L176.2 369.6 L178.1 370.2 L180.1 371.1 L182 371.5 L184 371.8 L185.9 373 L187.8 374.2 L189.8 374.2 L191.7 374.8 L193.6 375.2 L195.6 377.2 L197.5 376.9 L199.4 378.3 L201.4 378.6 L203.3 379.1 L205.3 379.8 L207.2 381.1 L209.1 381.7 L211.1 381.9 L213 382.2 L214.9 383.2 L216.9 383.2 L218.8 383.3 L220.8 383.6 L222.7 383.4 L224.6 384.2 L226.6 384.1 L228.5 384 L230.4 383.5 L232.4 383.8 L234.3 383.8 L236.3 382.9 L238.2 383.4 L240.1 383.3 L242.1 383.4 L244 383.3" fill="none" stroke="#f5d1c4" stroke-width="3.4" stroke-linejoin="round"/>
<path d="M13.5 369.3 L15.4 370 L17.4 369.8 L19.3 369.7 L21.2 369.5 L23.2 370.2 L25.1 370.3 L27.1 369.9 L29 370.3 L30.9 370.1 L32.9 369.8 L34.8 369.5 L36.7 369.8 L38.7 369.4 L40.6 369.2 L42.6 368.9 L44.5 368.6 L46.4 368.6 L48.4 367.3 L50.3 366.8 L52.2 364.7 L54.2 363.6 L56.1 362.4 L58.1 360.9 L60 358.1 L61.9 354.7 L63.9 352.7 L65.8 349.6 L67.7 346.4 L69.7 344.5 L71.6 342.2 L73.5 339.9 L75.5 338.1 L77.4 337.7 L79.4 336.2 L81.3 337.4 L83.2 337.5 L85.2 337.7 L87.1 338.7 L89 339.1 L91 340.5 L92.9 341.7 L94.9 343.1 L96.8 343.4 L98.7 345.2 L100.7 346 L102.6 346.5 L104.5 347 L106.5 347.7 L108.4 348.7 L110.3 349.1 L112.3 349.4 L114.2 349.3 L116.2 349.9 L118.1 350.6 L120 350.7 L122 350.7 L123.9 351.9 L125.8 352.4 L127.8 352.1 L129.7 352.2 L131.7 352.7 L133.6 352.8 L135.5 353.3 L137.5 354.3 L139.4 354.6 L141.3 355.5 L143.3 356.7 L145.2 356.4 L147.2 356.7 L149.1 357.3 L151 357.9 L153 358.7 L154.9 358.8 L156.8 359.5 L158.8 359.3 L160.7 359.8 L162.6 360.6 L164.6 361.5 L166.5 361.6 L168.5 363.1 L170.4 363 L172.3 364.1 L174.3 364.8 L176.2 366 L178.1 365.9 L180.1 366.6 L182 367.5 L184 368.6 L185.9 369.3 L187.8 369.4 L189.8 370.2 L191.7 370.8 L193.6 372.6 L195.6 372.8 L197.5 373.6 L199.4 373.3 L201.4 374.8 L203.3 375.3 L205.3 376.4 L207.2 376.1 L209.1 377.9 L211.1 378.3 L213 378.9 L214.9 378.7 L216.9 380 L218.8 379.7 L220.8 379.9 L222.7 380.1 L224.6 380.2 L226.6 380.6 L228.5 380.5 L230.4 380.7 L232.4 380.3 L234.3 379.7 L236.3 379.8 L238.2 379.9 L240.1 379.2 L242.1 379.2 L244 379.7" fill="none" stroke="#fff" stroke-width="4.3" stroke-linejoin="round"/>
<path d="M13.5 369.3 L15.4 370 L17.4 369.8 L19.3 369.7 L21.2 369.5 L23.2 370.2 L25.1 370.3 L27.1 369.9 L29 370.3 L30.9 370.1 L32.9 369.8 L34.8 369.5 L36.7 369.8 L38.7 369.4 L40.6 369.2 L42.6 368.9 L44.5 368.6 L46.4 368.6 L48.4 367.3 L50.3 366.8 L52.2 364.7 L54.2 363.6 L56.1 362.4 L58.1 360.9 L60 358.1 L61.9 354.7 L63.9 352.7 L65.8 349.6 L67.7 346.4 L69.7 344.5 L71.6 342.2 L73.5 339.9 L75.5 338.1 L77.4 337.7 L79.4 336.2 L81.3 337.4 L83.2 337.5 L85.2 337.7 L87.1 338.7 L89 339.1 L91 340.5 L92.9 341.7 L94.9 343.1 L96.8 343.4 L98.7 345.2 L100.7 346 L102.6 346.5 L104.5 347 L106.5 347.7 L108.4 348.7 L110.3 349.1 L112.3 349.4 L114.2 349.3 L116.2 349.9 L118.1 350.6 L120 350.7 L122 350.7 L123.9 351.9 L125.8 352.4 L127.8 352.1 L129.7 352.2 L131.7 352.7 L133.6 352.8 L135.5 353.3 L137.5 354.3 L139.4 354.6 L141.3 355.5 L143.3 356.7 L145.2 356.4 L147.2 356.7 L149.1 357.3 L151 357.9 L153 358.7 L154.9 358.8 L156.8 359.5 L158.8 359.3 L160.7 359.8 L162.6 360.6 L164.6 361.5 L166.5 361.6 L168.5 363.1 L170.4 363 L172.3 364.1 L174.3 364.8 L176.2 366 L178.1 365.9 L180.1 366.6 L182 367.5 L184 368.6 L185.9 369.3 L187.8 369.4 L189.8 370.2 L191.7 370.8 L193.6 372.6 L195.6 372.8 L197.5 373.6 L199.4 373.3 L201.4 374.8 L203.3 375.3 L205.3 376.4 L207.2 376.1 L209.1 377.9 L211.1 378.3 L213 378.9 L214.9 378.7 L216.9 380 L218.8 379.7 L220.8 379.9 L222.7 380.1 L224.6 380.2 L226.6 380.6 L228.5 380.5 L230.4 380.7 L232.4 380.3 L234.3 379.7 L236.3 379.8 L238.2 379.9 L240.1 379.2 L242.1 379.2 L244 379.7" fill="none" stroke="#f3b7a4" stroke-width="3.4" stroke-linejoin="round"/>
<path d="M13.5 366.4 L15.4 366.1 L17.4 366.5 L19.3 366.8 L21.2 366.8 L23.2 366.7 L25.1 367.4 L27.1 366.3 L29 367 L30.9 367.2 L32.9 366.5 L34.8 366.3 L36.7 366.1 L38.7 366.1 L40.6 365.8 L42.6 365.7 L44.5 365.7 L46.4 364.8 L48.4 364.7 L50.3 363.4 L52.2 361.2 L54.2 360.4 L56.1 358.5 L58.1 357.3 L60 354.3 L61.9 352 L63.9 348.4 L65.8 345.4 L67.7 342.9 L69.7 340.5 L71.6 338.1 L73.5 337.1 L75.5 335.1 L77.4 333.5 L79.4 332.7 L81.3 332.7 L83.2 333.2 L85.2 334.8 L87.1 334.8 L89 336.1 L91 337.1 L92.9 337.9 L94.9 339 L96.8 340.4 L98.7 341.4 L100.7 341.6 L102.6 343.1 L104.5 342.5 L106.5 343.5 L108.4 344.6 L110.3 344.1 L112.3 345.7 L114.2 346.6 L116.2 346.1 L118.1 345.8 L120 347.4 L122 346.8 L123.9 347 L125.8 347.4 L127.8 347.9 L129.7 348.2 L131.7 349.5 L133.6 349 L135.5 349.2 L137.5 349.7 L139.4 350.6 L141.3 351.9 L143.3 351.3 L145.2 352.2 L147.2 353 L149.1 353.1 L151 353.6 L153 354.1 L154.9 354.8 L156.8 354.9 L158.8 356.2 L160.7 355.5 L162.6 357 L164.6 357.6 L166.5 357.9 L168.5 358.5 L170.4 359.7 L172.3 359.7 L174.3 360.6 L176.2 361.1 L178.1 362.2 L180.1 362.5 L182 363.3 L184 364.5 L185.9 365 L187.8 365.9 L189.8 367.1 L191.7 366.6 L193.6 367.8 L195.6 368.7 L197.5 370 L199.4 369.8 L201.4 370.8 L203.3 371.7 L205.3 371.8 L207.2 372.7 L209.1 373.6 L211.1 374.1 L213 375.1 L214.9 375.7 L216.9 375.5 L218.8 376.1 L220.8 376.2 L222.7 376.3 L224.6 376.3 L226.6 377.4 L228.5 376.3 L230.4 376.6 L232.4 376.7 L234.3 375.3 L236.3 375.8 L238.2 375.1 L240.1 375.5 L242.1 375.7 L244 375.2" fill="none" stroke="#fff" stroke-width="4.3" stroke-linejoin="round"/>
<path d="M13.5 366.4 L15.4 366.1 L17.4 366.5 L19.3 366.8 L21.2 366.8 L23.2 366.7 L25.1 367.4 L27.1 366.3 L29 367 L30.9 367.2 L32.9 366.5 L34.8 366.3 L36.7 366.1 L38.7 366.1 L40.6 365.8 L42.6 365.7 L44.5 365.7 L46.4 364.8 L48.4 364.7 L50.3 363.4 L52.2 361.2 L54.2 360.4 L56.1 358.5 L58.1 357.3 L60 354.3 L61.9 352 L63.9 348.4 L65.8 345.4 L67.7 342.9 L69.7 340.5 L71.6 338.1 L73.5 337.1 L75.5 335.1 L77.4 333.5 L79.4 332.7 L81.3 332.7 L83.2 333.2 L85.2 334.8 L87.1 334.8 L89 336.1 L91 337.1 L92.9 337.9 L94.9 339 L96.8 340.4 L98.7 341.4 L100.7 341.6 L102.6 343.1 L104.5 342.5 L106.5 343.5 L108.4 344.6 L110.3 344.1 L112.3 345.7 L114.2 346.6 L116.2 346.1 L118.1 345.8 L120 347.4 L122 346.8 L123.9 347 L125.8 347.4 L127.8 347.9 L129.7 348.2 L131.7 349.5 L133.6 349 L135.5 349.2 L137.5 349.7 L139.4 350.6 L141.3 351.9 L143.3 351.3 L145.2 352.2 L147.2 353 L149.1 353.1 L151 353.6 L153 354.1 L154.9 354.8 L156.8 354.9 L158.8 356.2 L160.7 355.5 L162.6 357 L164.6 357.6 L166.5 357.9 L168.5 358.5 L170.4 359.7 L172.3 359.7 L174.3 360.6 L176.2 361.1 L178.1 362.2 L180.1 362.5 L182 363.3 L184 364.5 L185.9 365 L187.8 365.9 L189.8 367.1 L191.7 366.6 L193.6 367.8 L195.6 368.7 L197.5 370 L199.4 369.8 L201.4 370.8 L203.3 371.7 L205.3 371.8 L207.2 372.7 L209.1 373.6 L211.1 374.1 L213 375.1 L214.9 375.7 L216.9 375.5 L218.8 376.1 L220.8 376.2 L222.7 376.3 L224.6 376.3 L226.6 377.4 L228.5 376.3 L230.4 376.6 L232.4 376.7 L234.3 375.3 L236.3 375.8 L238.2 375.1 L240.1 375.5 L242.1 375.7 L244 375.2" fill="none" stroke="#ef9a84" stroke-width="3.4" stroke-linejoin="round"/>
<path d="M13.5 362.8 L15.4 363 L17.4 362.6 L19.3 362.9 L21.2 362.7 L23.2 363.4 L25.1 363.2 L27.1 363.9 L29 363.9 L30.9 363.1 L32.9 363.5 L34.8 363.3 L36.7 363 L38.7 362.8 L40.6 362.4 L42.6 362.6 L44.5 362.2 L46.4 361.9 L48.4 361.1 L50.3 360.3 L52.2 358 L54.2 357.5 L56.1 355.9 L58.1 354 L60 351.4 L61.9 349 L63.9 345.1 L65.8 341.8 L67.7 339 L69.7 337 L71.6 335.4 L73.5 332.8 L75.5 331.2 L77.4 329.8 L79.4 329.8 L81.3 329.2 L83.2 329.3 L85.2 330.7 L87.1 331.6 L89 331.9 L91 332.1 L92.9 333.6 L94.9 335.1 L96.8 336.4 L98.7 337.1 L100.7 338.7 L102.6 338.9 L104.5 339.1 L106.5 340.2 L108.4 340.3 L110.3 341.5 L112.3 341.9 L114.2 341.9 L116.2 342.1 L118.1 342.8 L120 343.4 L122 343.4 L123.9 343.6 L125.8 344.4 L127.8 344.5 L129.7 344.4 L131.7 344.8 L133.6 344.7 L135.5 345.9 L137.5 346.3 L139.4 347.1 L141.3 347.2 L143.3 347.8 L145.2 348.3 L147.2 348.7 L149.1 349.3 L151 349.7 L153 350.7 L154.9 350.8 L156.8 351.4 L158.8 351.9 L160.7 351.9 L162.6 352 L164.6 352.8 L166.5 353.8 L168.5 354.6 L170.4 354.8 L172.3 356.2 L174.3 356.6 L176.2 357.7 L178.1 357.8 L180.1 357.8 L182 359.7 L184 360.5 L185.9 361.8 L187.8 361.8 L189.8 362.7 L191.7 363.9 L193.6 363.1 L195.6 364.3 L197.5 364.9 L199.4 366.4 L201.4 366.9 L203.3 367.9 L205.3 367.8 L207.2 368.8 L209.1 369.8 L211.1 370.4 L213 371.1 L214.9 372 L216.9 371.6 L218.8 372 L220.8 372.2 L222.7 372.8 L224.6 372.5 L226.6 372.8 L228.5 372.7 L230.4 372.2 L232.4 372.5 L234.3 372.2 L236.3 371.5 L238.2 371.8 L240.1 371.8 L242.1 372.2 L244 371.6" fill="none" stroke="#fff" stroke-width="4.3" stroke-linejoin="round"/>
<path d="M13.5 362.8 L15.4 363 L17.4 362.6 L19.3 362.9 L21.2 362.7 L23.2 363.4 L25.1 363.2 L27.1 363.9 L29 363.9 L30.9 363.1 L32.9 363.5 L34.8 363.3 L36.7 363 L38.7 362.8 L40.6 362.4 L42.6 362.6 L44.5 362.2 L46.4 361.9 L48.4 361.1 L50.3 360.3 L52.2 358 L54.2 357.5 L56.1 355.9 L58.1 354 L60 351.4 L61.9 349 L63.9 345.1 L65.8 341.8 L67.7 339 L69.7 337 L71.6 335.4 L73.5 332.8 L75.5 331.2 L77.4 329.8 L79.4 329.8 L81.3 329.2 L83.2 329.3 L85.2 330.7 L87.1 331.6 L89 331.9 L91 332.1 L92.9 333.6 L94.9 335.1 L96.8 336.4 L98.7 337.1 L100.7 338.7 L102.6 338.9 L104.5 339.1 L106.5 340.2 L108.4 340.3 L110.3 341.5 L112.3 341.9 L114.2 341.9 L116.2 342.1 L118.1 342.8 L120 343.4 L122 343.4 L123.9 343.6 L125.8 344.4 L127.8 344.5 L129.7 344.4 L131.7 344.8 L133.6 344.7 L135.5 345.9 L137.5 346.3 L139.4 347.1 L141.3 347.2 L143.3 347.8 L145.2 348.3 L147.2 348.7 L149.1 349.3 L151 349.7 L153 350.7 L154.9 350.8 L156.8 351.4 L158.8 351.9 L160.7 351.9 L162.6 352 L164.6 352.8 L166.5 353.8 L168.5 354.6 L170.4 354.8 L172.3 356.2 L174.3 356.6 L176.2 357.7 L178.1 357.8 L180.1 357.8 L182 359.7 L184 360.5 L185.9 361.8 L187.8 361.8 L189.8 362.7 L191.7 363.9 L193.6 363.1 L195.6 364.3 L197.5 364.9 L199.4 366.4 L201.4 366.9 L203.3 367.9 L205.3 367.8 L207.2 368.8 L209.1 369.8 L211.1 370.4 L213 371.1 L214.9 372 L216.9 371.6 L218.8 372 L220.8 372.2 L222.7 372.8 L224.6 372.5 L226.6 372.8 L228.5 372.7 L230.4 372.2 L232.4 372.5 L234.3 372.2 L236.3 371.5 L238.2 371.8 L240.1 371.8 L242.1 372.2 L244 371.6" fill="none" stroke="#e97b64" stroke-width="3.4" stroke-linejoin="round"/>
<path d="M13.5 359.8 L15.4 359.4 L17.4 359.9 L19.3 359.1 L21.2 359.2 L23.2 359.7 L25.1 359.8 L27.1 360 L29 360.3 L30.9 359.8 L32.9 360.2 L34.8 359.7 L36.7 360.3 L38.7 359.3 L40.6 359 L42.6 359.5 L44.5 358.1 L46.4 359 L48.4 358.1 L50.3 356.5 L52.2 355 L54.2 353.8 L56.1 352.5 L58.1 350.6 L60 347.9 L61.9 344.9 L63.9 341.5 L65.8 338.9 L67.7 334.9 L69.7 333.1 L71.6 331.4 L73.5 329.1 L75.5 327.5 L77.4 326.2 L79.4 325.1 L81.3 325.6 L83.2 325.6 L85.2 326.9 L87.1 327.4 L89 328.5 L91 328.1 L92.9 330.3 L94.9 331.1 L96.8 332.9 L98.7 334 L100.7 335.1 L102.6 335.2 L104.5 335.8 L106.5 336 L108.4 336.7 L110.3 337.3 L112.3 337.9 L114.2 338.7 L116.2 338.3 L118.1 339 L120 339.4 L122 339.5 L123.9 339.3 L125.8 340 L127.8 340.3 L129.7 340.4 L131.7 341.2 L133.6 341.5 L135.5 342 L137.5 342.6 L139.4 343.1 L141.3 343.7 L143.3 344.2 L145.2 344.6 L147.2 345.1 L149.1 345.7 L151 345.8 L153 346.8 L154.9 347.3 L156.8 347.3 L158.8 348.3 L160.7 348.5 L162.6 348.9 L164.6 349.9 L166.5 349.5 L168.5 350.9 L170.4 351.1 L172.3 352.1 L174.3 352 L176.2 353.7 L178.1 354.5 L180.1 354.4 L182 356.1 L184 356.1 L185.9 357 L187.8 357.4 L189.8 358.7 L191.7 359.2 L193.6 360.1 L195.6 360.9 L197.5 361.3 L199.4 362.6 L201.4 363 L203.3 364.3 L205.3 364.5 L207.2 365.5 L209.1 366.2 L211.1 367.2 L213 368 L214.9 368 L216.9 367.8 L218.8 368.4 L220.8 368.5 L222.7 369.1 L224.6 369.1 L226.6 369.5 L228.5 369.4 L230.4 369.2 L232.4 368.6 L234.3 369.1 L236.3 368.3 L238.2 367.7 L240.1 367.8 L242.1 367.7 L244 367.7" fill="none" stroke="#fff" stroke-width="4.3" stroke-linejoin="round"/>
<path d="M13.5 359.8 L15.4 359.4 L17.4 359.9 L19.3 359.1 L21.2 359.2 L23.2 359.7 L25.1 359.8 L27.1 360 L29 360.3 L30.9 359.8 L32.9 360.2 L34.8 359.7 L36.7 360.3 L38.7 359.3 L40.6 359 L42.6 359.5 L44.5 358.1 L46.4 359 L48.4 358.1 L50.3 356.5 L52.2 355 L54.2 353.8 L56.1 352.5 L58.1 350.6 L60 347.9 L61.9 344.9 L63.9 341.5 L65.8 338.9 L67.7 334.9 L69.7 333.1 L71.6 331.4 L73.5 329.1 L75.5 327.5 L77.4 326.2 L79.4 325.1 L81.3 325.6 L83.2 325.6 L85.2 326.9 L87.1 327.4 L89 328.5 L91 328.1 L92.9 330.3 L94.9 331.1 L96.8 332.9 L98.7 334 L100.7 335.1 L102.6 335.2 L104.5 335.8 L106.5 336 L108.4 336.7 L110.3 337.3 L112.3 337.9 L114.2 338.7 L116.2 338.3 L118.1 339 L120 339.4 L122 339.5 L123.9 339.3 L125.8 340 L127.8 340.3 L129.7 340.4 L131.7 341.2 L133.6 341.5 L135.5 342 L137.5 342.6 L139.4 343.1 L141.3 343.7 L143.3 344.2 L145.2 344.6 L147.2 345.1 L149.1 345.7 L151 345.8 L153 346.8 L154.9 347.3 L156.8 347.3 L158.8 348.3 L160.7 348.5 L162.6 348.9 L164.6 349.9 L166.5 349.5 L168.5 350.9 L170.4 351.1 L172.3 352.1 L174.3 352 L176.2 353.7 L178.1 354.5 L180.1 354.4 L182 356.1 L184 356.1 L185.9 357 L187.8 357.4 L189.8 358.7 L191.7 359.2 L193.6 360.1 L195.6 360.9 L197.5 361.3 L199.4 362.6 L201.4 363 L203.3 364.3 L205.3 364.5 L207.2 365.5 L209.1 366.2 L211.1 367.2 L213 368 L214.9 368 L216.9 367.8 L218.8 368.4 L220.8 368.5 L222.7 369.1 L224.6 369.1 L226.6 369.5 L228.5 369.4 L230.4 369.2 L232.4 368.6 L234.3 369.1 L236.3 368.3 L238.2 367.7 L240.1 367.8 L242.1 367.7 L244 367.7" fill="none" stroke="#e25b4c" stroke-width="3.4" stroke-linejoin="round"/>
<path d="M13.5 356 L15.4 355.7 L17.4 356.1 L19.3 356.5 L21.2 356 L23.2 356.2 L25.1 357 L27.1 356.8 L29 357.1 L30.9 356.8 L32.9 356.8 L34.8 356.5 L36.7 356 L38.7 356.5 L40.6 355.5 L42.6 355.4 L44.5 355 L46.4 355.8 L48.4 354.4 L50.3 353.7 L52.2 351.4 L54.2 351.2 L56.1 349.9 L58.1 347.6 L60 344.9 L61.9 340.7 L63.9 337.8 L65.8 335.2 L67.7 331.6 L69.7 329.2 L71.6 327.3 L73.5 325 L75.5 322.8 L77.4 322.3 L79.4 320.9 L81.3 321 L83.2 321.9 L85.2 323 L87.1 323.6 L89 324.1 L91 324.3 L92.9 327.2 L94.9 327.1 L96.8 328.8 L98.7 329.2 L100.7 331.2 L102.6 331 L104.5 331.8 L106.5 332.5 L108.4 332.5 L110.3 333.7 L112.3 334 L114.2 334.8 L116.2 335.1 L118.1 334.9 L120 335 L122 335.6 L123.9 336.4 L125.8 335.8 L127.8 337 L129.7 336.4 L131.7 337.5 L133.6 338 L135.5 338 L137.5 338.2 L139.4 339.2 L141.3 339.9 L143.3 339.7 L145.2 340.8 L147.2 341.2 L149.1 341.1 L151 341.4 L153 342.5 L154.9 342.8 L156.8 342.9 L158.8 343.5 L160.7 345 L162.6 345 L164.6 345.5 L166.5 345.7 L168.5 346.7 L170.4 347.7 L172.3 347.7 L174.3 348.5 L176.2 349.3 L178.1 349.9 L180.1 351 L182 351.2 L184 352.4 L185.9 353.2 L187.8 354 L189.8 354.7 L191.7 355 L193.6 355.8 L195.6 356.4 L197.5 357.9 L199.4 358.8 L201.4 359.5 L203.3 360.6 L205.3 360.8 L207.2 362 L209.1 362.4 L211.1 363.4 L213 363.6 L214.9 364.3 L216.9 364.3 L218.8 364.5 L220.8 364.3 L222.7 365.7 L224.6 365.7 L226.6 366.8 L228.5 365.8 L230.4 365.6 L232.4 364.9 L234.3 365.5 L236.3 364.6 L238.2 365.4 L240.1 365.3 L242.1 363.5 L244 364" fill="none" stroke="#fff" stroke-width="4.3" stroke-linejoin="round"/>
<path d="M13.5 356 L15.4 355.7 L17.4 356.1 L19.3 356.5 L21.2 356 L23.2 356.2 L25.1 357 L27.1 356.8 L29 357.1 L30.9 356.8 L32.9 356.8 L34.8 356.5 L36.7 356 L38.7 356.5 L40.6 355.5 L42.6 355.4 L44.5 355 L46.4 355.8 L48.4 354.4 L50.3 353.7 L52.2 351.4 L54.2 351.2 L56.1 349.9 L58.1 347.6 L60 344.9 L61.9 340.7 L63.9 337.8 L65.8 335.2 L67.7 331.6 L69.7 329.2 L71.6 327.3 L73.5 325 L75.5 322.8 L77.4 322.3 L79.4 320.9 L81.3 321 L83.2 321.9 L85.2 323 L87.1 323.6 L89 324.1 L91 324.3 L92.9 327.2 L94.9 327.1 L96.8 328.8 L98.7 329.2 L100.7 331.2 L102.6 331 L104.5 331.8 L106.5 332.5 L108.4 332.5 L110.3 333.7 L112.3 334 L114.2 334.8 L116.2 335.1 L118.1 334.9 L120 335 L122 335.6 L123.9 336.4 L125.8 335.8 L127.8 337 L129.7 336.4 L131.7 337.5 L133.6 338 L135.5 338 L137.5 338.2 L139.4 339.2 L141.3 339.9 L143.3 339.7 L145.2 340.8 L147.2 341.2 L149.1 341.1 L151 341.4 L153 342.5 L154.9 342.8 L156.8 342.9 L158.8 343.5 L160.7 345 L162.6 345 L164.6 345.5 L166.5 345.7 L168.5 346.7 L170.4 347.7 L172.3 347.7 L174.3 348.5 L176.2 349.3 L178.1 349.9 L180.1 351 L182 351.2 L184 352.4 L185.9 353.2 L187.8 354 L189.8 354.7 L191.7 355 L193.6 355.8 L195.6 356.4 L197.5 357.9 L199.4 358.8 L201.4 359.5 L203.3 360.6 L205.3 360.8 L207.2 362 L209.1 362.4 L211.1 363.4 L213 363.6 L214.9 364.3 L216.9 364.3 L218.8 364.5 L220.8 364.3 L222.7 365.7 L224.6 365.7 L226.6 366.8 L228.5 365.8 L230.4 365.6 L232.4 364.9 L234.3 365.5 L236.3 364.6 L238.2 365.4 L240.1 365.3 L242.1 363.5 L244 364" fill="none" stroke="#da3c36" stroke-width="3.4" stroke-linejoin="round"/>
<path d="M13.5 486.7 L15.4 486.9 L17.4 486.9 L19.3 487.6 L21.2 488 L23.2 487.7 L25.1 488.3 L27.1 488.1 L29 488.4 L30.9 488.7 L32.9 487.9 L34.8 488.6 L36.7 487.6 L38.7 487.5 L40.6 488 L42.6 487.3 L44.5 487.1 L46.4 487.7 L48.4 487.2 L50.3 486.9 L52.2 485.9 L54.2 484.9 L56.1 484.4 L58.1 483.3 L60 482.2 L61.9 482.3 L63.9 480.8 L65.8 479.3 L67.7 479 L69.7 477.9 L71.6 477.1 L73.5 477.1 L75.5 476.1 L77.4 474.9 L79.4 474.4 L81.3 472.7 L83.2 472.8 L85.2 472.1 L87.1 470.8 L89 469.8 L91 469.9 L92.9 469.1 L94.9 468.2 L96.8 467.6 L98.7 467 L100.7 466.8 L102.6 466.6 L104.5 465.4 L106.5 465.6 L108.4 464.5 L110.3 463.9 L112.3 463.6 L114.2 463.5 L116.2 463.2 L118.1 462.7 L120 462.1 L122 462.6 L123.9 461.9 L125.8 461.8 L127.8 461.3 L129.7 462 L131.7 461.1 L133.6 460.8 L135.5 461.6 L137.5 461.4 L139.4 461.7 L141.3 461.8 L143.3 460.9 L145.2 461.5 L147.2 462.5 L149.1 462.2 L151 462.5 L153 463 L154.9 463.5 L156.8 463.4 L158.8 464.1 L160.7 464.4 L162.6 464.5 L164.6 464.9 L166.5 465.8 L168.5 466.3 L170.4 466.5 L172.3 467 L174.3 468.1 L176.2 468.7 L178.1 469.9 L180.1 470 L182 470.7 L184 471.4 L185.9 472.5 L187.8 473.4 L189.8 474.4 L191.7 474.7 L193.6 475.9 L195.6 476.8 L197.5 476.7 L199.4 478 L201.4 478.1 L203.3 478.8 L205.3 479.5 L207.2 480.1 L209.1 480.5 L211.1 481.4 L213 482.1 L214.9 482.3 L216.9 482.4 L218.8 482.9 L220.8 484 L222.7 484 L224.6 484 L226.6 484.1 L228.5 484.9 L230.4 485.3 L232.4 486.3 L234.3 485.3 L236.3 486.3 L238.2 486.9 L240.1 487.2 L242.1 486.7 L244 487.4" fill="none" stroke="#fff" stroke-width="4.3" stroke-linejoin="round"/>
<path d="M13.5 486.7 L15.4 486.9 L17.4 486.9 L19.3 487.6 L21.2 488 L23.2 487.7 L25.1 488.3 L27.1 488.1 L29 488.4 L30.9 488.7 L32.9 487.9 L34.8 488.6 L36.7 487.6 L38.7 487.5 L40.6 488 L42.6 487.3 L44.5 487.1 L46.4 487.7 L48.4 487.2 L50.3 486.9 L52.2 485.9 L54.2 484.9 L56.1 484.4 L58.1 483.3 L60 482.2 L61.9 482.3 L63.9 480.8 L65.8 479.3 L67.7 479 L69.7 477.9 L71.6 477.1 L73.5 477.1 L75.5 476.1 L77.4 474.9 L79.4 474.4 L81.3 472.7 L83.2 472.8 L85.2 472.1 L87.1 470.8 L89 469.8 L91 469.9 L92.9 469.1 L94.9 468.2 L96.8 467.6 L98.7 467 L100.7 466.8 L102.6 466.6 L104.5 465.4 L106.5 465.6 L108.4 464.5 L110.3 463.9 L112.3 463.6 L114.2 463.5 L116.2 463.2 L118.1 462.7 L120 462.1 L122 462.6 L123.9 461.9 L125.8 461.8 L127.8 461.3 L129.7 462 L131.7 461.1 L133.6 460.8 L135.5 461.6 L137.5 461.4 L139.4 461.7 L141.3 461.8 L143.3 460.9 L145.2 461.5 L147.2 462.5 L149.1 462.2 L151 462.5 L153 463 L154.9 463.5 L156.8 463.4 L158.8 464.1 L160.7 464.4 L162.6 464.5 L164.6 464.9 L166.5 465.8 L168.5 466.3 L170.4 466.5 L172.3 467 L174.3 468.1 L176.2 468.7 L178.1 469.9 L180.1 470 L182 470.7 L184 471.4 L185.9 472.5 L187.8 473.4 L189.8 474.4 L191.7 474.7 L193.6 475.9 L195.6 476.8 L197.5 476.7 L199.4 478 L201.4 478.1 L203.3 478.8 L205.3 479.5 L207.2 480.1 L209.1 480.5 L211.1 481.4 L213 482.1 L214.9 482.3 L216.9 482.4 L218.8 482.9 L220.8 484 L222.7 484 L224.6 484 L226.6 484.1 L228.5 484.9 L230.4 485.3 L232.4 486.3 L234.3 485.3 L236.3 486.3 L238.2 486.9 L240.1 487.2 L242.1 486.7 L244 487.4" fill="none" stroke="#efa020" stroke-width="3.4" stroke-linejoin="round"/>
<path d="M13.5 485.3 L15.4 485.4 L17.4 485.5 L19.3 485.3 L21.2 485.8 L23.2 485.4 L25.1 485.3 L27.1 485.8 L29 486.2 L30.9 486.8 L32.9 486.1 L34.8 486.6 L36.7 485.7 L38.7 485.7 L40.6 485.4 L42.6 485.7 L44.5 485.7 L46.4 485.9 L48.4 485.4 L50.3 485.3 L52.2 483.9 L54.2 483.3 L56.1 483.1 L58.1 481.1 L60 480.5 L61.9 479.8 L63.9 478.7 L65.8 477.5 L67.7 476.5 L69.7 475.3 L71.6 475.3 L73.5 473.4 L75.5 473 L77.4 471.8 L79.4 471.1 L81.3 470 L83.2 469.6 L85.2 469.2 L87.1 467.9 L89 467.4 L91 466.7 L92.9 465.7 L94.9 465.7 L96.8 464 L98.7 463.5 L100.7 463.5 L102.6 462.7 L104.5 462.1 L106.5 462.1 L108.4 460.4 L110.3 460.8 L112.3 460.6 L114.2 459.2 L116.2 460.4 L118.1 459.3 L120 459 L122 458.8 L123.9 458.4 L125.8 458.9 L127.8 457.5 L129.7 457.4 L131.7 457.7 L133.6 457.8 L135.5 457.3 L137.5 458.1 L139.4 457.4 L141.3 457.6 L143.3 457.7 L145.2 458 L147.2 458 L149.1 458.4 L151 458.9 L153 459.3 L154.9 459.1 L156.8 459.6 L158.8 460.6 L160.7 460.7 L162.6 461.1 L164.6 460.9 L166.5 460.7 L168.5 462.8 L170.4 464.1 L172.3 463.2 L174.3 464.7 L176.2 465.3 L178.1 465.2 L180.1 467 L182 467.4 L184 467.9 L185.9 469.2 L187.8 469.8 L189.8 471 L191.7 472.1 L193.6 472.3 L195.6 473.4 L197.5 474.6 L199.4 474.2 L201.4 475.2 L203.3 475.5 L205.3 476.7 L207.2 476.6 L209.1 477.8 L211.1 478.1 L213 478.9 L214.9 479.1 L216.9 478.9 L218.8 479.4 L220.8 480.8 L222.7 481.2 L224.6 481 L226.6 481.6 L228.5 481.5 L230.4 481.9 L232.4 482 L234.3 482.8 L236.3 483.9 L238.2 483.2 L240.1 484.3 L242.1 484.5 L244 484.5" fill="none" stroke="#fff" stroke-width="4.3" stroke-linejoin="round"/>
<path d="M13.5 485.3 L15.4 485.4 L17.4 485.5 L19.3 485.3 L21.2 485.8 L23.2 485.4 L25.1 485.3 L27.1 485.8 L29 486.2 L30.9 486.8 L32.9 486.1 L34.8 486.6 L36.7 485.7 L38.7 485.7 L40.6 485.4 L42.6 485.7 L44.5 485.7 L46.4 485.9 L48.4 485.4 L50.3 485.3 L52.2 483.9 L54.2 483.3 L56.1 483.1 L58.1 481.1 L60 480.5 L61.9 479.8 L63.9 478.7 L65.8 477.5 L67.7 476.5 L69.7 475.3 L71.6 475.3 L73.5 473.4 L75.5 473 L77.4 471.8 L79.4 471.1 L81.3 470 L83.2 469.6 L85.2 469.2 L87.1 467.9 L89 467.4 L91 466.7 L92.9 465.7 L94.9 465.7 L96.8 464 L98.7 463.5 L100.7 463.5 L102.6 462.7 L104.5 462.1 L106.5 462.1 L108.4 460.4 L110.3 460.8 L112.3 460.6 L114.2 459.2 L116.2 460.4 L118.1 459.3 L120 459 L122 458.8 L123.9 458.4 L125.8 458.9 L127.8 457.5 L129.7 457.4 L131.7 457.7 L133.6 457.8 L135.5 457.3 L137.5 458.1 L139.4 457.4 L141.3 457.6 L143.3 457.7 L145.2 458 L147.2 458 L149.1 458.4 L151 458.9 L153 459.3 L154.9 459.1 L156.8 459.6 L158.8 460.6 L160.7 460.7 L162.6 461.1 L164.6 460.9 L166.5 460.7 L168.5 462.8 L170.4 464.1 L172.3 463.2 L174.3 464.7 L176.2 465.3 L178.1 465.2 L180.1 467 L182 467.4 L184 467.9 L185.9 469.2 L187.8 469.8 L189.8 471 L191.7 472.1 L193.6 472.3 L195.6 473.4 L197.5 474.6 L199.4 474.2 L201.4 475.2 L203.3 475.5 L205.3 476.7 L207.2 476.6 L209.1 477.8 L211.1 478.1 L213 478.9 L214.9 479.1 L216.9 478.9 L218.8 479.4 L220.8 480.8 L222.7 481.2 L224.6 481 L226.6 481.6 L228.5 481.5 L230.4 481.9 L232.4 482 L234.3 482.8 L236.3 483.9 L238.2 483.2 L240.1 484.3 L242.1 484.5 L244 484.5" fill="none" stroke="#f1ac37" stroke-width="3.4" stroke-linejoin="round"/>
<path d="M13.5 482.7 L15.4 482.9 L17.4 483.8 L19.3 482.9 L21.2 483.6 L23.2 483.7 L25.1 483.9 L27.1 484.3 L29 484 L30.9 484.6 L32.9 484.6 L34.8 483.6 L36.7 484.2 L38.7 483.9 L40.6 484 L42.6 483.7 L44.5 483.9 L46.4 484.3 L48.4 483.8 L50.3 483 L52.2 482.6 L54.2 481.8 L56.1 480.1 L58.1 479.4 L60 478.3 L61.9 477.7 L63.9 476.3 L65.8 475.3 L67.7 474.6 L69.7 473.7 L71.6 472.4 L73.5 472.3 L75.5 470.8 L77.4 470 L79.4 468.6 L81.3 467.6 L83.2 466.5 L85.2 465.3 L87.1 465.7 L89 464.4 L91 463.3 L92.9 462.7 L94.9 462.3 L96.8 461.2 L98.7 460.9 L100.7 459.4 L102.6 459.4 L104.5 458.8 L106.5 458.8 L108.4 457.9 L110.3 457.4 L112.3 457.1 L114.2 456.3 L116.2 455.3 L118.1 456.1 L120 455.5 L122 455 L123.9 454.9 L125.8 455.1 L127.8 454.6 L129.7 454 L131.7 454.1 L133.6 453.6 L135.5 454.2 L137.5 454.1 L139.4 454.3 L141.3 453.6 L143.3 453.7 L145.2 455.3 L147.2 454.3 L149.1 454.7 L151 455.3 L153 455.4 L154.9 455.9 L156.8 455.6 L158.8 456.6 L160.7 456.9 L162.6 456.7 L164.6 457.2 L166.5 458.7 L168.5 458.8 L170.4 459.5 L172.3 460.6 L174.3 461 L176.2 461 L178.1 462.3 L180.1 463 L182 463.8 L184 465.2 L185.9 465.8 L187.8 466.2 L189.8 468.3 L191.7 468.2 L193.6 468.5 L195.6 469.7 L197.5 470.3 L199.4 471 L201.4 472 L203.3 472.2 L205.3 473.6 L207.2 473.9 L209.1 474.3 L211.1 475 L213 475.7 L214.9 476.2 L216.9 476.3 L218.8 477.2 L220.8 476.8 L222.7 477.8 L224.6 478.3 L226.6 478.6 L228.5 479.2 L230.4 479 L232.4 479.9 L234.3 479.3 L236.3 480 L238.2 480.3 L240.1 481.4 L242.1 480.7 L244 481.8" fill="none" stroke="#fff" stroke-width="4.3" stroke-linejoin="round"/>
<path d="M13.5 482.7 L15.4 482.9 L17.4 483.8 L19.3 482.9 L21.2 483.6 L23.2 483.7 L25.1 483.9 L27.1 484.3 L29 484 L30.9 484.6 L32.9 484.6 L34.8 483.6 L36.7 484.2 L38.7 483.9 L40.6 484 L42.6 483.7 L44.5 483.9 L46.4 484.3 L48.4 483.8 L50.3 483 L52.2 482.6 L54.2 481.8 L56.1 480.1 L58.1 479.4 L60 478.3 L61.9 477.7 L63.9 476.3 L65.8 475.3 L67.7 474.6 L69.7 473.7 L71.6 472.4 L73.5 472.3 L75.5 470.8 L77.4 470 L79.4 468.6 L81.3 467.6 L83.2 466.5 L85.2 465.3 L87.1 465.7 L89 464.4 L91 463.3 L92.9 462.7 L94.9 462.3 L96.8 461.2 L98.7 460.9 L100.7 459.4 L102.6 459.4 L104.5 458.8 L106.5 458.8 L108.4 457.9 L110.3 457.4 L112.3 457.1 L114.2 456.3 L116.2 455.3 L118.1 456.1 L120 455.5 L122 455 L123.9 454.9 L125.8 455.1 L127.8 454.6 L129.7 454 L131.7 454.1 L133.6 453.6 L135.5 454.2 L137.5 454.1 L139.4 454.3 L141.3 453.6 L143.3 453.7 L145.2 455.3 L147.2 454.3 L149.1 454.7 L151 455.3 L153 455.4 L154.9 455.9 L156.8 455.6 L158.8 456.6 L160.7 456.9 L162.6 456.7 L164.6 457.2 L166.5 458.7 L168.5 458.8 L170.4 459.5 L172.3 460.6 L174.3 461 L176.2 461 L178.1 462.3 L180.1 463 L182 463.8 L184 465.2 L185.9 465.8 L187.8 466.2 L189.8 468.3 L191.7 468.2 L193.6 468.5 L195.6 469.7 L197.5 470.3 L199.4 471 L201.4 472 L203.3 472.2 L205.3 473.6 L207.2 473.9 L209.1 474.3 L211.1 475 L213 475.7 L214.9 476.2 L216.9 476.3 L218.8 477.2 L220.8 476.8 L222.7 477.8 L224.6 478.3 L226.6 478.6 L228.5 479.2 L230.4 479 L232.4 479.9 L234.3 479.3 L236.3 480 L238.2 480.3 L240.1 481.4 L242.1 480.7 L244 481.8" fill="none" stroke="#f4b850" stroke-width="3.4" stroke-linejoin="round"/>
<path d="M13.5 481.3 L15.4 481.1 L17.4 481 L19.3 481.5 L21.2 482.5 L23.2 481 L25.1 481.8 L27.1 482.3 L29 482.3 L30.9 482.5 L32.9 482.2 L34.8 482.3 L36.7 481.9 L38.7 482.6 L40.6 481.9 L42.6 481.9 L44.5 482.3 L46.4 481.9 L48.4 482.3 L50.3 481.4 L52.2 480.4 L54.2 479.6 L56.1 478.7 L58.1 477.5 L60 476.7 L61.9 475.5 L63.9 474.2 L65.8 473.4 L67.7 472.3 L69.7 471.4 L71.6 470 L73.5 468.9 L75.5 468 L77.4 467.6 L79.4 466.5 L81.3 465 L83.2 463.8 L85.2 463.5 L87.1 462.9 L89 462.1 L91 460.9 L92.9 459.3 L94.9 458.5 L96.8 457.8 L98.7 457.7 L100.7 456.5 L102.6 456.3 L104.5 455 L106.5 455.2 L108.4 454.5 L110.3 453.5 L112.3 453 L114.2 452.4 L116.2 452.3 L118.1 451.8 L120 451.4 L122 451.3 L123.9 450.9 L125.8 451 L127.8 450.4 L129.7 450 L131.7 449.9 L133.6 450 L135.5 450.3 L137.5 450.3 L139.4 450.1 L141.3 450.4 L143.3 450.6 L145.2 450.9 L147.2 451.2 L149.1 451.1 L151 451.9 L153 452.4 L154.9 452.4 L156.8 453.2 L158.8 452.4 L160.7 453.4 L162.6 453.6 L164.6 454 L166.5 454.5 L168.5 455.2 L170.4 456.3 L172.3 456.6 L174.3 457.6 L176.2 458 L178.1 459.8 L180.1 459.7 L182 460.1 L184 460.8 L185.9 461.4 L187.8 462.8 L189.8 464.2 L191.7 464.6 L193.6 465.5 L195.6 466.9 L197.5 467.3 L199.4 468.1 L201.4 468.6 L203.3 469.6 L205.3 470 L207.2 470.4 L209.1 471.1 L211.1 472.3 L213 472.8 L214.9 473.3 L216.9 474.1 L218.8 473.7 L220.8 474.6 L222.7 474.1 L224.6 475.2 L226.6 475.3 L228.5 475.9 L230.4 476.1 L232.4 477.3 L234.3 477.1 L236.3 477.9 L238.2 477.7 L240.1 478.3 L242.1 478.5 L244 478.4" fill="none" stroke="#fff" stroke-width="4.3" stroke-linejoin="round"/>
<path d="M13.5 481.3 L15.4 481.1 L17.4 481 L19.3 481.5 L21.2 482.5 L23.2 481 L25.1 481.8 L27.1 482.3 L29 482.3 L30.9 482.5 L32.9 482.2 L34.8 482.3 L36.7 481.9 L38.7 482.6 L40.6 481.9 L42.6 481.9 L44.5 482.3 L46.4 481.9 L48.4 482.3 L50.3 481.4 L52.2 480.4 L54.2 479.6 L56.1 478.7 L58.1 477.5 L60 476.7 L61.9 475.5 L63.9 474.2 L65.8 473.4 L67.7 472.3 L69.7 471.4 L71.6 470 L73.5 468.9 L75.5 468 L77.4 467.6 L79.4 466.5 L81.3 465 L83.2 463.8 L85.2 463.5 L87.1 462.9 L89 462.1 L91 460.9 L92.9 459.3 L94.9 458.5 L96.8 457.8 L98.7 457.7 L100.7 456.5 L102.6 456.3 L104.5 455 L106.5 455.2 L108.4 454.5 L110.3 453.5 L112.3 453 L114.2 452.4 L116.2 452.3 L118.1 451.8 L120 451.4 L122 451.3 L123.9 450.9 L125.8 451 L127.8 450.4 L129.7 450 L131.7 449.9 L133.6 450 L135.5 450.3 L137.5 450.3 L139.4 450.1 L141.3 450.4 L143.3 450.6 L145.2 450.9 L147.2 451.2 L149.1 451.1 L151 451.9 L153 452.4 L154.9 452.4 L156.8 453.2 L158.8 452.4 L160.7 453.4 L162.6 453.6 L164.6 454 L166.5 454.5 L168.5 455.2 L170.4 456.3 L172.3 456.6 L174.3 457.6 L176.2 458 L178.1 459.8 L180.1 459.7 L182 460.1 L184 460.8 L185.9 461.4 L187.8 462.8 L189.8 464.2 L191.7 464.6 L193.6 465.5 L195.6 466.9 L197.5 467.3 L199.4 468.1 L201.4 468.6 L203.3 469.6 L205.3 470 L207.2 470.4 L209.1 471.1 L211.1 472.3 L213 472.8 L214.9 473.3 L216.9 474.1 L218.8 473.7 L220.8 474.6 L222.7 474.1 L224.6 475.2 L226.6 475.3 L228.5 475.9 L230.4 476.1 L232.4 477.3 L234.3 477.1 L236.3 477.9 L238.2 477.7 L240.1 478.3 L242.1 478.5 L244 478.4" fill="none" stroke="#f6c570" stroke-width="3.4" stroke-linejoin="round"/>
<path d="M13.5 479.3 L15.4 479.6 L17.4 480.1 L19.3 479.7 L21.2 479.3 L23.2 480.3 L25.1 479.9 L27.1 480.4 L29 479.9 L30.9 480.5 L32.9 480.6 L34.8 480.5 L36.7 480.8 L38.7 480.1 L40.6 480.8 L42.6 479.9 L44.5 480.9 L46.4 480.7 L48.4 480.5 L50.3 479.3 L52.2 479.1 L54.2 477.8 L56.1 476.9 L58.1 475.9 L60 475.2 L61.9 473.3 L63.9 471.6 L65.8 470.6 L67.7 470.1 L69.7 468.6 L71.6 467.6 L73.5 467.2 L75.5 465.5 L77.4 464.3 L79.4 462.9 L81.3 461.7 L83.2 460.9 L85.2 460.4 L87.1 460 L89 458.3 L91 457.6 L92.9 456.9 L94.9 455.3 L96.8 454.7 L98.7 453.7 L100.7 453.4 L102.6 452.5 L104.5 451.9 L106.5 450.8 L108.4 450.8 L110.3 450.3 L112.3 449.8 L114.2 448.9 L116.2 449.2 L118.1 447.8 L120 447.8 L122 447.3 L123.9 447.7 L125.8 447.7 L127.8 447 L129.7 447 L131.7 446.8 L133.6 446.1 L135.5 446.4 L137.5 446.6 L139.4 446.6 L141.3 446.3 L143.3 446.5 L145.2 447.8 L147.2 447.7 L149.1 447.4 L151 447.8 L153 447.3 L154.9 448 L156.8 448.4 L158.8 449.2 L160.7 449.8 L162.6 450.5 L164.6 450.2 L166.5 451.2 L168.5 451.5 L170.4 452.6 L172.3 452.8 L174.3 454.5 L176.2 454.9 L178.1 455.5 L180.1 456 L182 457.1 L184 457.9 L185.9 458.5 L187.8 459.5 L189.8 460.8 L191.7 461.3 L193.6 461.8 L195.6 463.5 L197.5 464.7 L199.4 464.9 L201.4 465.1 L203.3 466 L205.3 467 L207.2 467.7 L209.1 468.3 L211.1 468.9 L213 469.7 L214.9 470.2 L216.9 470.1 L218.8 470.1 L220.8 471.3 L222.7 471.8 L224.6 472.6 L226.6 472.3 L228.5 472.8 L230.4 472.9 L232.4 473.4 L234.3 474.5 L236.3 475.5 L238.2 475 L240.1 475.6 L242.1 476.1 L244 475.5" fill="none" stroke="#fff" stroke-width="4.3" stroke-linejoin="round"/>
<path d="M13.5 479.3 L15.4 479.6 L17.4 480.1 L19.3 479.7 L21.2 479.3 L23.2 480.3 L25.1 479.9 L27.1 480.4 L29 479.9 L30.9 480.5 L32.9 480.6 L34.8 480.5 L36.7 480.8 L38.7 480.1 L40.6 480.8 L42.6 479.9 L44.5 480.9 L46.4 480.7 L48.4 480.5 L50.3 479.3 L52.2 479.1 L54.2 477.8 L56.1 476.9 L58.1 475.9 L60 475.2 L61.9 473.3 L63.9 471.6 L65.8 470.6 L67.7 470.1 L69.7 468.6 L71.6 467.6 L73.5 467.2 L75.5 465.5 L77.4 464.3 L79.4 462.9 L81.3 461.7 L83.2 460.9 L85.2 460.4 L87.1 460 L89 458.3 L91 457.6 L92.9 456.9 L94.9 455.3 L96.8 454.7 L98.7 453.7 L100.7 453.4 L102.6 452.5 L104.5 451.9 L106.5 450.8 L108.4 450.8 L110.3 450.3 L112.3 449.8 L114.2 448.9 L116.2 449.2 L118.1 447.8 L120 447.8 L122 447.3 L123.9 447.7 L125.8 447.7 L127.8 447 L129.7 447 L131.7 446.8 L133.6 446.1 L135.5 446.4 L137.5 446.6 L139.4 446.6 L141.3 446.3 L143.3 446.5 L145.2 447.8 L147.2 447.7 L149.1 447.4 L151 447.8 L153 447.3 L154.9 448 L156.8 448.4 L158.8 449.2 L160.7 449.8 L162.6 450.5 L164.6 450.2 L166.5 451.2 L168.5 451.5 L170.4 452.6 L172.3 452.8 L174.3 454.5 L176.2 454.9 L178.1 455.5 L180.1 456 L182 457.1 L184 457.9 L185.9 458.5 L187.8 459.5 L189.8 460.8 L191.7 461.3 L193.6 461.8 L195.6 463.5 L197.5 464.7 L199.4 464.9 L201.4 465.1 L203.3 466 L205.3 467 L207.2 467.7 L209.1 468.3 L211.1 468.9 L213 469.7 L214.9 470.2 L216.9 470.1 L218.8 470.1 L220.8 471.3 L222.7 471.8 L224.6 472.6 L226.6 472.3 L228.5 472.8 L230.4 472.9 L232.4 473.4 L234.3 474.5 L236.3 475.5 L238.2 475 L240.1 475.6 L242.1 476.1 L244 475.5" fill="none" stroke="#f7d291" stroke-width="3.4" stroke-linejoin="round"/>
<path d="M13.5 477.5 L15.4 477.9 L17.4 477 L19.3 478.1 L21.2 478.4 L23.2 478.5 L25.1 478.5 L27.1 478 L29 478.7 L30.9 477.7 L32.9 478.1 L34.8 478.7 L36.7 478.6 L38.7 478.6 L40.6 478.6 L42.6 478.6 L44.5 478.1 L46.4 479 L48.4 478.5 L50.3 477.8 L52.2 477.2 L54.2 476.1 L56.1 475.4 L58.1 473.6 L60 472.4 L61.9 470.7 L63.9 469.6 L65.8 468.6 L67.7 467.4 L69.7 467.1 L71.6 465.4 L73.5 464 L75.5 463.3 L77.4 462.3 L79.4 460.8 L81.3 459.1 L83.2 458.3 L85.2 457.8 L87.1 456 L89 455.2 L91 454 L92.9 453.4 L94.9 452.2 L96.8 451.4 L98.7 450.9 L100.7 449.5 L102.6 450.3 L104.5 448.9 L106.5 447.9 L108.4 447.8 L110.3 446.9 L112.3 446.2 L114.2 445.4 L116.2 445.1 L118.1 444.6 L120 444.4 L122 444.3 L123.9 443.9 L125.8 443.8 L127.8 443.3 L129.7 443.2 L131.7 443.1 L133.6 442.8 L135.5 442.7 L137.5 443.5 L139.4 443 L141.3 443.4 L143.3 443.3 L145.2 443 L147.2 443.1 L149.1 443.8 L151 444 L153 444.3 L154.9 444.8 L156.8 446 L158.8 446.1 L160.7 446.5 L162.6 446.6 L164.6 446.4 L166.5 448 L168.5 449.3 L170.4 449.4 L172.3 450.4 L174.3 450.2 L176.2 451.5 L178.1 452.2 L180.1 453.2 L182 453.6 L184 454.8 L185.9 455 L187.8 456.1 L189.8 457.2 L191.7 458.3 L193.6 459.3 L195.6 459.5 L197.5 461 L199.4 462.2 L201.4 462.3 L203.3 463.5 L205.3 464.1 L207.2 464.7 L209.1 465.1 L211.1 465.4 L213 466.2 L214.9 467.3 L216.9 467.9 L218.8 467.8 L220.8 468.7 L222.7 468 L224.6 469 L226.6 469.8 L228.5 470.2 L230.4 470.3 L232.4 470.5 L234.3 471.1 L236.3 471.7 L238.2 472.5 L240.1 472.4 L242.1 472.6 L244 473" fill="none" stroke="#fff" stroke-width="4.3" stroke-linejoin="round"/>
<path d="M13.5 477.5 L15.4 477.9 L17.4 477 L19.3 478.1 L21.2 478.4 L23.2 478.5 L25.1 478.5 L27.1 478 L29 478.7 L30.9 477.7 L32.9 478.1 L34.8 478.7 L36.7 478.6 L38.7 478.6 L40.6 478.6 L42.6 478.6 L44.5 478.1 L46.4 479 L48.4 478.5 L50.3 477.8 L52.2 477.2 L54.2 476.1 L56.1 475.4 L58.1 473.6 L60 472.4 L61.9 470.7 L63.9 469.6 L65.8 468.6 L67.7 467.4 L69.7 467.1 L71.6 465.4 L73.5 464 L75.5 463.3 L77.4 462.3 L79.4 460.8 L81.3 459.1 L83.2 458.3 L85.2 457.8 L87.1 456 L89 455.2 L91 454 L92.9 453.4 L94.9 452.2 L96.8 451.4 L98.7 450.9 L100.7 449.5 L102.6 450.3 L104.5 448.9 L106.5 447.9 L108.4 447.8 L110.3 446.9 L112.3 446.2 L114.2 445.4 L116.2 445.1 L118.1 444.6 L120 444.4 L122 444.3 L123.9 443.9 L125.8 443.8 L127.8 443.3 L129.7 443.2 L131.7 443.1 L133.6 442.8 L135.5 442.7 L137.5 443.5 L139.4 443 L141.3 443.4 L143.3 443.3 L145.2 443 L147.2 443.1 L149.1 443.8 L151 444 L153 444.3 L154.9 444.8 L156.8 446 L158.8 446.1 L160.7 446.5 L162.6 446.6 L164.6 446.4 L166.5 448 L168.5 449.3 L170.4 449.4 L172.3 450.4 L174.3 450.2 L176.2 451.5 L178.1 452.2 L180.1 453.2 L182 453.6 L184 454.8 L185.9 455 L187.8 456.1 L189.8 457.2 L191.7 458.3 L193.6 459.3 L195.6 459.5 L197.5 461 L199.4 462.2 L201.4 462.3 L203.3 463.5 L205.3 464.1 L207.2 464.7 L209.1 465.1 L211.1 465.4 L213 466.2 L214.9 467.3 L216.9 467.9 L218.8 467.8 L220.8 468.7 L222.7 468 L224.6 469 L226.6 469.8 L228.5 470.2 L230.4 470.3 L232.4 470.5 L234.3 471.1 L236.3 471.7 L238.2 472.5 L240.1 472.4 L242.1 472.6 L244 473" fill="none" stroke="#f8dfb3" stroke-width="3.4" stroke-linejoin="round"/>
<path d="M13.5 476.1 L15.4 475.3 L17.4 475.1 L19.3 475.8 L21.2 476.1 L23.2 476 L25.1 476.4 L27.1 476.4 L29 476.5 L30.9 477.1 L32.9 477.2 L34.8 477.1 L36.7 477 L38.7 476.7 L40.6 476.8 L42.6 476.8 L44.5 476.6 L46.4 476.9 L48.4 476.5 L50.3 476.5 L52.2 475.4 L54.2 474.5 L56.1 473.5 L58.1 471.7 L60 470.7 L61.9 468.9 L63.9 468.2 L65.8 466.7 L67.7 465.6 L69.7 464.5 L71.6 463.6 L73.5 461.3 L75.5 460.5 L77.4 459.2 L79.4 458.2 L81.3 457.3 L83.2 455.7 L85.2 455.3 L87.1 454 L89 451.9 L91 451 L92.9 450.4 L94.9 449.6 L96.8 448.7 L98.7 448 L100.7 447.4 L102.6 446.6 L104.5 445 L106.5 445 L108.4 444 L110.3 443.3 L112.3 442.7 L114.2 441.6 L116.2 441.8 L118.1 441.2 L120 440.5 L122 440.6 L123.9 440 L125.8 439.9 L127.8 440.2 L129.7 439.5 L131.7 439.6 L133.6 439.4 L135.5 438.7 L137.5 440 L139.4 439.5 L141.3 439.5 L143.3 438.6 L145.2 439.9 L147.2 439.2 L149.1 440.6 L151 440.3 L153 441.1 L154.9 441.3 L156.8 441.6 L158.8 442.1 L160.7 443.2 L162.6 442.7 L164.6 443.3 L166.5 444.7 L168.5 444.6 L170.4 445.5 L172.3 446.1 L174.3 446.8 L176.2 448.2 L178.1 448.9 L180.1 449.4 L182 450.2 L184 450.7 L185.9 451.5 L187.8 452.7 L189.8 454 L191.7 455.3 L193.6 456.1 L195.6 456 L197.5 457.6 L199.4 458.5 L201.4 458.7 L203.3 460 L205.3 459.8 L207.2 460.9 L209.1 461.6 L211.1 462.8 L213 463.5 L214.9 463.4 L216.9 464.4 L218.8 465 L220.8 465.2 L222.7 465.5 L224.6 465.6 L226.6 466.5 L228.5 466.8 L230.4 468 L232.4 467.7 L234.3 468.2 L236.3 468 L238.2 469.5 L240.1 469.3 L242.1 470.6 L244 469.9" fill="none" stroke="#fff" stroke-width="4.3" stroke-linejoin="round"/>
<path d="M13.5 476.1 L15.4 475.3 L17.4 475.1 L19.3 475.8 L21.2 476.1 L23.2 476 L25.1 476.4 L27.1 476.4 L29 476.5 L30.9 477.1 L32.9 477.2 L34.8 477.1 L36.7 477 L38.7 476.7 L40.6 476.8 L42.6 476.8 L44.5 476.6 L46.4 476.9 L48.4 476.5 L50.3 476.5 L52.2 475.4 L54.2 474.5 L56.1 473.5 L58.1 471.7 L60 470.7 L61.9 468.9 L63.9 468.2 L65.8 466.7 L67.7 465.6 L69.7 464.5 L71.6 463.6 L73.5 461.3 L75.5 460.5 L77.4 459.2 L79.4 458.2 L81.3 457.3 L83.2 455.7 L85.2 455.3 L87.1 454 L89 451.9 L91 451 L92.9 450.4 L94.9 449.6 L96.8 448.7 L98.7 448 L100.7 447.4 L102.6 446.6 L104.5 445 L106.5 445 L108.4 444 L110.3 443.3 L112.3 442.7 L114.2 441.6 L116.2 441.8 L118.1 441.2 L120 440.5 L122 440.6 L123.9 440 L125.8 439.9 L127.8 440.2 L129.7 439.5 L131.7 439.6 L133.6 439.4 L135.5 438.7 L137.5 440 L139.4 439.5 L141.3 439.5 L143.3 438.6 L145.2 439.9 L147.2 439.2 L149.1 440.6 L151 440.3 L153 441.1 L154.9 441.3 L156.8 441.6 L158.8 442.1 L160.7 443.2 L162.6 442.7 L164.6 443.3 L166.5 444.7 L168.5 444.6 L170.4 445.5 L172.3 446.1 L174.3 446.8 L176.2 448.2 L178.1 448.9 L180.1 449.4 L182 450.2 L184 450.7 L185.9 451.5 L187.8 452.7 L189.8 454 L191.7 455.3 L193.6 456.1 L195.6 456 L197.5 457.6 L199.4 458.5 L201.4 458.7 L203.3 460 L205.3 459.8 L207.2 460.9 L209.1 461.6 L211.1 462.8 L213 463.5 L214.9 463.4 L216.9 464.4 L218.8 465 L220.8 465.2 L222.7 465.5 L224.6 465.6 L226.6 466.5 L228.5 466.8 L230.4 468 L232.4 467.7 L234.3 468.2 L236.3 468 L238.2 469.5 L240.1 469.3 L242.1 470.6 L244 469.9" fill="none" stroke="#f8e3c9" stroke-width="3.4" stroke-linejoin="round"/>
<path d="M13.5 473.8 L15.4 473.9 L17.4 474 L19.3 473.7 L21.2 474.1 L23.2 474.1 L25.1 474 L27.1 473.8 L29 474 L30.9 474.4 L32.9 474.9 L34.8 474.5 L36.7 474.9 L38.7 474.9 L40.6 474.7 L42.6 475 L44.5 474.9 L46.4 474.8 L48.4 474.9 L50.3 474.4 L52.2 473 L54.2 473 L56.1 471 L58.1 470.3 L60 469 L61.9 467.8 L63.9 466.1 L65.8 464.9 L67.7 463.4 L69.7 461.5 L71.6 461.4 L73.5 459.5 L75.5 457.2 L77.4 456.4 L79.4 455.7 L81.3 453.8 L83.2 452.9 L85.2 451.3 L87.1 450.8 L89 450.3 L91 449.3 L92.9 448.4 L94.9 446.4 L96.8 445.5 L98.7 443.9 L100.7 443.6 L102.6 443.2 L104.5 442 L106.5 441.3 L108.4 440.1 L110.3 440 L112.3 439.2 L114.2 437.8 L116.2 438.3 L118.1 437.6 L120 437 L122 437.4 L123.9 436.7 L125.8 437 L127.8 435.7 L129.7 435.5 L131.7 435.4 L133.6 434.7 L135.5 436 L137.5 435.7 L139.4 435.6 L141.3 436 L143.3 436.1 L145.2 436 L147.2 435.8 L149.1 436.7 L151 437 L153 437.5 L154.9 437.7 L156.8 437.4 L158.8 438.5 L160.7 438.6 L162.6 438.6 L164.6 439.6 L166.5 440.9 L168.5 440.8 L170.4 441.7 L172.3 443 L174.3 442.8 L176.2 444.6 L178.1 445.3 L180.1 445.3 L182 447 L184 447.6 L185.9 448.2 L187.8 450.5 L189.8 450.2 L191.7 451.1 L193.6 452.6 L195.6 453.8 L197.5 454.1 L199.4 455.1 L201.4 456.3 L203.3 456.7 L205.3 457.6 L207.2 457.4 L209.1 458.6 L211.1 459.8 L213 459.8 L214.9 460.6 L216.9 461.1 L218.8 462.5 L220.8 462.2 L222.7 462.6 L224.6 463.4 L226.6 463.2 L228.5 463.6 L230.4 464.3 L232.4 465.5 L234.3 465.6 L236.3 466.1 L238.2 466.5 L240.1 466.7 L242.1 467 L244 467.5" fill="none" stroke="#fff" stroke-width="4.3" stroke-linejoin="round"/>
<path d="M13.5 473.8 L15.4 473.9 L17.4 474 L19.3 473.7 L21.2 474.1 L23.2 474.1 L25.1 474 L27.1 473.8 L29 474 L30.9 474.4 L32.9 474.9 L34.8 474.5 L36.7 474.9 L38.7 474.9 L40.6 474.7 L42.6 475 L44.5 474.9 L46.4 474.8 L48.4 474.9 L50.3 474.4 L52.2 473 L54.2 473 L56.1 471 L58.1 470.3 L60 469 L61.9 467.8 L63.9 466.1 L65.8 464.9 L67.7 463.4 L69.7 461.5 L71.6 461.4 L73.5 459.5 L75.5 457.2 L77.4 456.4 L79.4 455.7 L81.3 453.8 L83.2 452.9 L85.2 451.3 L87.1 450.8 L89 450.3 L91 449.3 L92.9 448.4 L94.9 446.4 L96.8 445.5 L98.7 443.9 L100.7 443.6 L102.6 443.2 L104.5 442 L106.5 441.3 L108.4 440.1 L110.3 440 L112.3 439.2 L114.2 437.8 L116.2 438.3 L118.1 437.6 L120 437 L122 437.4 L123.9 436.7 L125.8 437 L127.8 435.7 L129.7 435.5 L131.7 435.4 L133.6 434.7 L135.5 436 L137.5 435.7 L139.4 435.6 L141.3 436 L143.3 436.1 L145.2 436 L147.2 435.8 L149.1 436.7 L151 437 L153 437.5 L154.9 437.7 L156.8 437.4 L158.8 438.5 L160.7 438.6 L162.6 438.6 L164.6 439.6 L166.5 440.9 L168.5 440.8 L170.4 441.7 L172.3 443 L174.3 442.8 L176.2 444.6 L178.1 445.3 L180.1 445.3 L182 447 L184 447.6 L185.9 448.2 L187.8 450.5 L189.8 450.2 L191.7 451.1 L193.6 452.6 L195.6 453.8 L197.5 454.1 L199.4 455.1 L201.4 456.3 L203.3 456.7 L205.3 457.6 L207.2 457.4 L209.1 458.6 L211.1 459.8 L213 459.8 L214.9 460.6 L216.9 461.1 L218.8 462.5 L220.8 462.2 L222.7 462.6 L224.6 463.4 L226.6 463.2 L228.5 463.6 L230.4 464.3 L232.4 465.5 L234.3 465.6 L236.3 466.1 L238.2 466.5 L240.1 466.7 L242.1 467 L244 467.5" fill="none" stroke="#f7e4da" stroke-width="3.4" stroke-linejoin="round"/>
<path d="M13.5 471.6 L15.4 471.5 L17.4 471.5 L19.3 471.8 L21.2 472.4 L23.2 472.2 L25.1 472.1 L27.1 473 L29 472 L30.9 473.1 L32.9 472.4 L34.8 473.4 L36.7 473.3 L38.7 472.8 L40.6 473.2 L42.6 473.5 L44.5 472.7 L46.4 472.6 L48.4 473.6 L50.3 472.3 L52.2 471.6 L54.2 471.2 L56.1 469.5 L58.1 468.3 L60 467.1 L61.9 464.9 L63.9 463.8 L65.8 462.3 L67.7 460.9 L69.7 459.3 L71.6 458.2 L73.5 456.7 L75.5 455.7 L77.4 453.7 L79.4 453.1 L81.3 451.2 L83.2 450.7 L85.2 449.5 L87.1 447.6 L89 447 L91 445.7 L92.9 444.5 L94.9 443.5 L96.8 442.2 L98.7 440.7 L100.7 440.1 L102.6 439.5 L104.5 439.1 L106.5 437.6 L108.4 437.4 L110.3 436.8 L112.3 435 L114.2 434.3 L116.2 434.7 L118.1 434.1 L120 432.9 L122 433.9 L123.9 433.1 L125.8 432 L127.8 432 L129.7 431.9 L131.7 431.7 L133.6 432 L135.5 431.9 L137.5 432 L139.4 432 L141.3 432.1 L143.3 432.4 L145.2 432.2 L147.2 432.8 L149.1 432.9 L151 432.6 L153 433.9 L154.9 434.4 L156.8 435.4 L158.8 435.1 L160.7 435.2 L162.6 435.3 L164.6 436.2 L166.5 437.3 L168.5 438.2 L170.4 438.3 L172.3 438.9 L174.3 440.4 L176.2 440.4 L178.1 441.3 L180.1 442.7 L182 443.5 L184 444.4 L185.9 445.4 L187.8 445.4 L189.8 447.1 L191.7 448 L193.6 449.3 L195.6 449.7 L197.5 451 L199.4 451.7 L201.4 451.7 L203.3 452.5 L205.3 454.3 L207.2 455 L209.1 455.8 L211.1 456.5 L213 457 L214.9 457.9 L216.9 458 L218.8 458.6 L220.8 458.9 L222.7 458.9 L224.6 459.6 L226.6 460.6 L228.5 461.4 L230.4 461.4 L232.4 462.1 L234.3 462.3 L236.3 462.4 L238.2 463.3 L240.1 463.9 L242.1 464.3 L244 464.2" fill="none" stroke="#fff" stroke-width="4.3" stroke-linejoin="round"/>
<path d="M13.5 471.6 L15.4 471.5 L17.4 471.5 L19.3 471.8 L21.2 472.4 L23.2 472.2 L25.1 472.1 L27.1 473 L29 472 L30.9 473.1 L32.9 472.4 L34.8 473.4 L36.7 473.3 L38.7 472.8 L40.6 473.2 L42.6 473.5 L44.5 472.7 L46.4 472.6 L48.4 473.6 L50.3 472.3 L52.2 471.6 L54.2 471.2 L56.1 469.5 L58.1 468.3 L60 467.1 L61.9 464.9 L63.9 463.8 L65.8 462.3 L67.7 460.9 L69.7 459.3 L71.6 458.2 L73.5 456.7 L75.5 455.7 L77.4 453.7 L79.4 453.1 L81.3 451.2 L83.2 450.7 L85.2 449.5 L87.1 447.6 L89 447 L91 445.7 L92.9 444.5 L94.9 443.5 L96.8 442.2 L98.7 440.7 L100.7 440.1 L102.6 439.5 L104.5 439.1 L106.5 437.6 L108.4 437.4 L110.3 436.8 L112.3 435 L114.2 434.3 L116.2 434.7 L118.1 434.1 L120 432.9 L122 433.9 L123.9 433.1 L125.8 432 L127.8 432 L129.7 431.9 L131.7 431.7 L133.6 432 L135.5 431.9 L137.5 432 L139.4 432 L141.3 432.1 L143.3 432.4 L145.2 432.2 L147.2 432.8 L149.1 432.9 L151 432.6 L153 433.9 L154.9 434.4 L156.8 435.4 L158.8 435.1 L160.7 435.2 L162.6 435.3 L164.6 436.2 L166.5 437.3 L168.5 438.2 L170.4 438.3 L172.3 438.9 L174.3 440.4 L176.2 440.4 L178.1 441.3 L180.1 442.7 L182 443.5 L184 444.4 L185.9 445.4 L187.8 445.4 L189.8 447.1 L191.7 448 L193.6 449.3 L195.6 449.7 L197.5 451 L199.4 451.7 L201.4 451.7 L203.3 452.5 L205.3 454.3 L207.2 455 L209.1 455.8 L211.1 456.5 L213 457 L214.9 457.9 L216.9 458 L218.8 458.6 L220.8 458.9 L222.7 458.9 L224.6 459.6 L226.6 460.6 L228.5 461.4 L230.4 461.4 L232.4 462.1 L234.3 462.3 L236.3 462.4 L238.2 463.3 L240.1 463.9 L242.1 464.3 L244 464.2" fill="none" stroke="#f5d1c4" stroke-width="3.4" stroke-linejoin="round"/>
<path d="M13.5 469.6 L15.4 469.6 L17.4 469.9 L19.3 470 L21.2 470 L23.2 470.2 L25.1 470.2 L27.1 470.1 L29 470.9 L30.9 470.6 L32.9 471.2 L34.8 471.1 L36.7 471.1 L38.7 470.8 L40.6 470.6 L42.6 471.9 L44.5 470.9 L46.4 471.3 L48.4 471.3 L50.3 470.6 L52.2 469.7 L54.2 468.7 L56.1 468.2 L58.1 466.5 L60 464.8 L61.9 463.3 L63.9 461.4 L65.8 460.2 L67.7 458.4 L69.7 457.6 L71.6 456.2 L73.5 454.4 L75.5 452.5 L77.4 451.1 L79.4 450 L81.3 449 L83.2 447.1 L85.2 446.2 L87.1 445.3 L89 443.3 L91 442.9 L92.9 441.8 L94.9 440.1 L96.8 438.6 L98.7 437.5 L100.7 437.3 L102.6 436.1 L104.5 435.8 L106.5 434.9 L108.4 433.9 L110.3 432.9 L112.3 432.1 L114.2 431.3 L116.2 431.4 L118.1 430.1 L120 430.4 L122 429.6 L123.9 429.6 L125.8 428.5 L127.8 429.1 L129.7 428 L131.7 428 L133.6 427.7 L135.5 428.2 L137.5 428.1 L139.4 428.5 L141.3 429.1 L143.3 428.8 L145.2 428.2 L147.2 428 L149.1 429.2 L151 429.2 L153 430.4 L154.9 430.4 L156.8 431.1 L158.8 431.9 L160.7 432.1 L162.6 432.1 L164.6 432.5 L166.5 434 L168.5 434.4 L170.4 435.3 L172.3 436 L174.3 437.1 L176.2 437.6 L178.1 438.2 L180.1 439.5 L182 440 L184 441.3 L185.9 442.4 L187.8 442.8 L189.8 444.3 L191.7 445.2 L193.6 446.4 L195.6 446.8 L197.5 447.9 L199.4 448.7 L201.4 449.8 L203.3 449.6 L205.3 450.7 L207.2 451.7 L209.1 452.6 L211.1 453.5 L213 454.3 L214.9 454.1 L216.9 455.1 L218.8 456.2 L220.8 455.4 L222.7 456.9 L224.6 456.9 L226.6 457.5 L228.5 458.3 L230.4 459.1 L232.4 459.2 L234.3 460.2 L236.3 460.4 L238.2 460.7 L240.1 461.6 L242.1 462.1 L244 461.6" fill="none" stroke="#fff" stroke-width="4.3" stroke-linejoin="round"/>
<path d="M13.5 469.6 L15.4 469.6 L17.4 469.9 L19.3 470 L21.2 470 L23.2 470.2 L25.1 470.2 L27.1 470.1 L29 470.9 L30.9 470.6 L32.9 471.2 L34.8 471.1 L36.7 471.1 L38.7 470.8 L40.6 470.6 L42.6 471.9 L44.5 470.9 L46.4 471.3 L48.4 471.3 L50.3 470.6 L52.2 469.7 L54.2 468.7 L56.1 468.2 L58.1 466.5 L60 464.8 L61.9 463.3 L63.9 461.4 L65.8 460.2 L67.7 458.4 L69.7 457.6 L71.6 456.2 L73.5 454.4 L75.5 452.5 L77.4 451.1 L79.4 450 L81.3 449 L83.2 447.1 L85.2 446.2 L87.1 445.3 L89 443.3 L91 442.9 L92.9 441.8 L94.9 440.1 L96.8 438.6 L98.7 437.5 L100.7 437.3 L102.6 436.1 L104.5 435.8 L106.5 434.9 L108.4 433.9 L110.3 432.9 L112.3 432.1 L114.2 431.3 L116.2 431.4 L118.1 430.1 L120 430.4 L122 429.6 L123.9 429.6 L125.8 428.5 L127.8 429.1 L129.7 428 L131.7 428 L133.6 427.7 L135.5 428.2 L137.5 428.1 L139.4 428.5 L141.3 429.1 L143.3 428.8 L145.2 428.2 L147.2 428 L149.1 429.2 L151 429.2 L153 430.4 L154.9 430.4 L156.8 431.1 L158.8 431.9 L160.7 432.1 L162.6 432.1 L164.6 432.5 L166.5 434 L168.5 434.4 L170.4 435.3 L172.3 436 L174.3 437.1 L176.2 437.6 L178.1 438.2 L180.1 439.5 L182 440 L184 441.3 L185.9 442.4 L187.8 442.8 L189.8 444.3 L191.7 445.2 L193.6 446.4 L195.6 446.8 L197.5 447.9 L199.4 448.7 L201.4 449.8 L203.3 449.6 L205.3 450.7 L207.2 451.7 L209.1 452.6 L211.1 453.5 L213 454.3 L214.9 454.1 L216.9 455.1 L218.8 456.2 L220.8 455.4 L222.7 456.9 L224.6 456.9 L226.6 457.5 L228.5 458.3 L230.4 459.1 L232.4 459.2 L234.3 460.2 L236.3 460.4 L238.2 460.7 L240.1 461.6 L242.1 462.1 L244 461.6" fill="none" stroke="#f3bcae" stroke-width="3.4" stroke-linejoin="round"/>
<path d="M13.5 466.8 L15.4 468 L17.4 466.9 L19.3 467.3 L21.2 467.8 L23.2 467.9 L25.1 468.9 L27.1 469 L29 469 L30.9 469.1 L32.9 468.4 L34.8 468.6 L36.7 469.3 L38.7 469.5 L40.6 469.4 L42.6 469.2 L44.5 469.6 L46.4 469.7 L48.4 469.7 L50.3 468.7 L52.2 468.1 L54.2 467.5 L56.1 466.6 L58.1 463.8 L60 462.8 L61.9 461.4 L63.9 459.9 L65.8 457.5 L67.7 455.9 L69.7 454.4 L71.6 453.1 L73.5 451.5 L75.5 449.8 L77.4 448.8 L79.4 447.6 L81.3 445.5 L83.2 444.2 L85.2 443.9 L87.1 441.7 L89 440.5 L91 439.5 L92.9 438.3 L94.9 437.2 L96.8 435.2 L98.7 434.6 L100.7 433.5 L102.6 432.3 L104.5 432.6 L106.5 431.1 L108.4 430.4 L110.3 429.4 L112.3 428.2 L114.2 427.5 L116.2 427.9 L118.1 426.8 L120 426.5 L122 426.2 L123.9 425.6 L125.8 425.3 L127.8 424.5 L129.7 425.1 L131.7 424.3 L133.6 424.6 L135.5 424.9 L137.5 424.5 L139.4 424.5 L141.3 424.9 L143.3 425 L145.2 425.4 L147.2 424.7 L149.1 424.9 L151 426 L153 426.4 L154.9 426.9 L156.8 426.9 L158.8 427.5 L160.7 428.9 L162.6 428.6 L164.6 428.9 L166.5 430.1 L168.5 430.9 L170.4 431.1 L172.3 432.4 L174.3 433.5 L176.2 433.5 L178.1 434.1 L180.1 435.6 L182 436.9 L184 438.3 L185.9 439 L187.8 440.4 L189.8 440.4 L191.7 441.7 L193.6 442 L195.6 443.5 L197.5 445 L199.4 445.3 L201.4 446 L203.3 447.2 L205.3 447.5 L207.2 448.6 L209.1 449.5 L211.1 449.6 L213 451.4 L214.9 452 L216.9 452.2 L218.8 452.7 L220.8 453.1 L222.7 453.5 L224.6 454.1 L226.6 455.3 L228.5 455.5 L230.4 455.9 L232.4 455.7 L234.3 457 L236.3 457.3 L238.2 456.9 L240.1 457.5 L242.1 458.6 L244 458.5" fill="none" stroke="#fff" stroke-width="4.3" stroke-linejoin="round"/>
<path d="M13.5 466.8 L15.4 468 L17.4 466.9 L19.3 467.3 L21.2 467.8 L23.2 467.9 L25.1 468.9 L27.1 469 L29 469 L30.9 469.1 L32.9 468.4 L34.8 468.6 L36.7 469.3 L38.7 469.5 L40.6 469.4 L42.6 469.2 L44.5 469.6 L46.4 469.7 L48.4 469.7 L50.3 468.7 L52.2 468.1 L54.2 467.5 L56.1 466.6 L58.1 463.8 L60 462.8 L61.9 461.4 L63.9 459.9 L65.8 457.5 L67.7 455.9 L69.7 454.4 L71.6 453.1 L73.5 451.5 L75.5 449.8 L77.4 448.8 L79.4 447.6 L81.3 445.5 L83.2 444.2 L85.2 443.9 L87.1 441.7 L89 440.5 L91 439.5 L92.9 438.3 L94.9 437.2 L96.8 435.2 L98.7 434.6 L100.7 433.5 L102.6 432.3 L104.5 432.6 L106.5 431.1 L108.4 430.4 L110.3 429.4 L112.3 428.2 L114.2 427.5 L116.2 427.9 L118.1 426.8 L120 426.5 L122 426.2 L123.9 425.6 L125.8 425.3 L127.8 424.5 L129.7 425.1 L131.7 424.3 L133.6 424.6 L135.5 424.9 L137.5 424.5 L139.4 424.5 L141.3 424.9 L143.3 425 L145.2 425.4 L147.2 424.7 L149.1 424.9 L151 426 L153 426.4 L154.9 426.9 L156.8 426.9 L158.8 427.5 L160.7 428.9 L162.6 428.6 L164.6 428.9 L166.5 430.1 L168.5 430.9 L170.4 431.1 L172.3 432.4 L174.3 433.5 L176.2 433.5 L178.1 434.1 L180.1 435.6 L182 436.9 L184 438.3 L185.9 439 L187.8 440.4 L189.8 440.4 L191.7 441.7 L193.6 442 L195.6 443.5 L197.5 445 L199.4 445.3 L201.4 446 L203.3 447.2 L205.3 447.5 L207.2 448.6 L209.1 449.5 L211.1 449.6 L213 451.4 L214.9 452 L216.9 452.2 L218.8 452.7 L220.8 453.1 L222.7 453.5 L224.6 454.1 L226.6 455.3 L228.5 455.5 L230.4 455.9 L232.4 455.7 L234.3 457 L236.3 457.3 L238.2 456.9 L240.1 457.5 L242.1 458.6 L244 458.5" fill="none" stroke="#f0a596" stroke-width="3.4" stroke-linejoin="round"/>
<path d="M13.5 465.3 L15.4 466.2 L17.4 465.8 L19.3 466.3 L21.2 465.7 L23.2 466.5 L25.1 466.8 L27.1 466.3 L29 467.3 L30.9 466.9 L32.9 467.3 L34.8 467.4 L36.7 466.9 L38.7 467.9 L40.6 466.7 L42.6 467.9 L44.5 467.6 L46.4 467.7 L48.4 467.4 L50.3 467.1 L52.2 467.1 L54.2 466.1 L56.1 464.6 L58.1 462 L60 460.6 L61.9 458.8 L63.9 456.7 L65.8 455.7 L67.7 453.9 L69.7 452.5 L71.6 451.3 L73.5 449.8 L75.5 447.2 L77.4 445.9 L79.4 444.8 L81.3 443.7 L83.2 442.1 L85.2 440.8 L87.1 439.5 L89 438.5 L91 436.6 L92.9 435.4 L94.9 433.7 L96.8 432.1 L98.7 431.2 L100.7 430.7 L102.6 429.1 L104.5 428.6 L106.5 427.3 L108.4 426.7 L110.3 426.4 L112.3 424.8 L114.2 423.4 L116.2 424 L118.1 423.2 L120 422.9 L122 422 L123.9 422.5 L125.8 421.2 L127.8 420.9 L129.7 421.3 L131.7 420.3 L133.6 420.4 L135.5 421.1 L137.5 420.6 L139.4 421.4 L141.3 421.9 L143.3 421.5 L145.2 421.8 L147.2 421.5 L149.1 422.5 L151 422.5 L153 422.4 L154.9 423.8 L156.8 424 L158.8 424.7 L160.7 423.9 L162.6 424.8 L164.6 426 L166.5 426 L168.5 426.8 L170.4 427.7 L172.3 429.1 L174.3 429.7 L176.2 430.6 L178.1 430.4 L180.1 432.1 L182 433.4 L184 434.1 L185.9 435.3 L187.8 436.3 L189.8 437 L191.7 437.9 L193.6 439 L195.6 440.7 L197.5 441.5 L199.4 442.2 L201.4 442.4 L203.3 443.3 L205.3 444.5 L207.2 445 L209.1 445.6 L211.1 446.6 L213 447.5 L214.9 448.4 L216.9 449 L218.8 449.1 L220.8 450.2 L222.7 449.9 L224.6 451.2 L226.6 451.7 L228.5 452.1 L230.4 452.4 L232.4 453.1 L234.3 453.7 L236.3 454.3 L238.2 454.6 L240.1 455.1 L242.1 455.2 L244 455.8" fill="none" stroke="#fff" stroke-width="4.3" stroke-linejoin="round"/>
<path d="M13.5 465.3 L15.4 466.2 L17.4 465.8 L19.3 466.3 L21.2 465.7 L23.2 466.5 L25.1 466.8 L27.1 466.3 L29 467.3 L30.9 466.9 L32.9 467.3 L34.8 467.4 L36.7 466.9 L38.7 467.9 L40.6 466.7 L42.6 467.9 L44.5 467.6 L46.4 467.7 L48.4 467.4 L50.3 467.1 L52.2 467.1 L54.2 466.1 L56.1 464.6 L58.1 462 L60 460.6 L61.9 458.8 L63.9 456.7 L65.8 455.7 L67.7 453.9 L69.7 452.5 L71.6 451.3 L73.5 449.8 L75.5 447.2 L77.4 445.9 L79.4 444.8 L81.3 443.7 L83.2 442.1 L85.2 440.8 L87.1 439.5 L89 438.5 L91 436.6 L92.9 435.4 L94.9 433.7 L96.8 432.1 L98.7 431.2 L100.7 430.7 L102.6 429.1 L104.5 428.6 L106.5 427.3 L108.4 426.7 L110.3 426.4 L112.3 424.8 L114.2 423.4 L116.2 424 L118.1 423.2 L120 422.9 L122 422 L123.9 422.5 L125.8 421.2 L127.8 420.9 L129.7 421.3 L131.7 420.3 L133.6 420.4 L135.5 421.1 L137.5 420.6 L139.4 421.4 L141.3 421.9 L143.3 421.5 L145.2 421.8 L147.2 421.5 L149.1 422.5 L151 422.5 L153 422.4 L154.9 423.8 L156.8 424 L158.8 424.7 L160.7 423.9 L162.6 424.8 L164.6 426 L166.5 426 L168.5 426.8 L170.4 427.7 L172.3 429.1 L174.3 429.7 L176.2 430.6 L178.1 430.4 L180.1 432.1 L182 433.4 L184 434.1 L185.9 435.3 L187.8 436.3 L189.8 437 L191.7 437.9 L193.6 439 L195.6 440.7 L197.5 441.5 L199.4 442.2 L201.4 442.4 L203.3 443.3 L205.3 444.5 L207.2 445 L209.1 445.6 L211.1 446.6 L213 447.5 L214.9 448.4 L216.9 449 L218.8 449.1 L220.8 450.2 L222.7 449.9 L224.6 451.2 L226.6 451.7 L228.5 452.1 L230.4 452.4 L232.4 453.1 L234.3 453.7 L236.3 454.3 L238.2 454.6 L240.1 455.1 L242.1 455.2 L244 455.8" fill="none" stroke="#eb8b7c" stroke-width="3.4" stroke-linejoin="round"/>
<path d="M13.5 464.1 L15.4 464.1 L17.4 464.1 L19.3 464.2 L21.2 464.4 L23.2 464.7 L25.1 464.7 L27.1 464.4 L29 465 L30.9 465.4 L32.9 464.6 L34.8 465.2 L36.7 465.6 L38.7 465.7 L40.6 465.9 L42.6 465.8 L44.5 465.8 L46.4 466.5 L48.4 466.3 L50.3 465.5 L52.2 464.1 L54.2 463.9 L56.1 463 L58.1 460.4 L60 458.7 L61.9 457 L63.9 455.2 L65.8 453.8 L67.7 452.6 L69.7 450.6 L71.6 448.2 L73.5 446.8 L75.5 445 L77.4 443.4 L79.4 441.7 L81.3 440.2 L83.2 438.7 L85.2 437.5 L87.1 436.1 L89 435.5 L91 433.5 L92.9 432.5 L94.9 431.6 L96.8 428.9 L98.7 428.4 L100.7 427.2 L102.6 426.6 L104.5 424.6 L106.5 424 L108.4 423.4 L110.3 421.8 L112.3 421.6 L114.2 421.3 L116.2 420 L118.1 420 L120 418.9 L122 419 L123.9 418.8 L125.8 418.3 L127.8 417.8 L129.7 417.2 L131.7 417.2 L133.6 416.3 L135.5 417 L137.5 417.5 L139.4 417.6 L141.3 418.1 L143.3 417.5 L145.2 418.5 L147.2 418.4 L149.1 418.5 L151 418.5 L153 418.9 L154.9 419.9 L156.8 419.6 L158.8 420.5 L160.7 421 L162.6 421.5 L164.6 421.9 L166.5 423.3 L168.5 423.3 L170.4 425.2 L172.3 425.9 L174.3 426.7 L176.2 426.8 L178.1 428.1 L180.1 429.2 L182 429.9 L184 430.8 L185.9 431.7 L187.8 432.5 L189.8 433.7 L191.7 435.3 L193.6 436.2 L195.6 436.8 L197.5 437.4 L199.4 438.5 L201.4 439.4 L203.3 440.1 L205.3 442.5 L207.2 442.6 L209.1 443.1 L211.1 443.8 L213 444.7 L214.9 445.4 L216.9 446.1 L218.8 446 L220.8 447.6 L222.7 446.9 L224.6 448 L226.6 448.9 L228.5 448.8 L230.4 449.1 L232.4 449.8 L234.3 450.6 L236.3 451.3 L238.2 452.7 L240.1 452.7 L242.1 453.3 L244 453.1" fill="none" stroke="#fff" stroke-width="4.3" stroke-linejoin="round"/>
<path d="M13.5 464.1 L15.4 464.1 L17.4 464.1 L19.3 464.2 L21.2 464.4 L23.2 464.7 L25.1 464.7 L27.1 464.4 L29 465 L30.9 465.4 L32.9 464.6 L34.8 465.2 L36.7 465.6 L38.7 465.7 L40.6 465.9 L42.6 465.8 L44.5 465.8 L46.4 466.5 L48.4 466.3 L50.3 465.5 L52.2 464.1 L54.2 463.9 L56.1 463 L58.1 460.4 L60 458.7 L61.9 457 L63.9 455.2 L65.8 453.8 L67.7 452.6 L69.7 450.6 L71.6 448.2 L73.5 446.8 L75.5 445 L77.4 443.4 L79.4 441.7 L81.3 440.2 L83.2 438.7 L85.2 437.5 L87.1 436.1 L89 435.5 L91 433.5 L92.9 432.5 L94.9 431.6 L96.8 428.9 L98.7 428.4 L100.7 427.2 L102.6 426.6 L104.5 424.6 L106.5 424 L108.4 423.4 L110.3 421.8 L112.3 421.6 L114.2 421.3 L116.2 420 L118.1 420 L120 418.9 L122 419 L123.9 418.8 L125.8 418.3 L127.8 417.8 L129.7 417.2 L131.7 417.2 L133.6 416.3 L135.5 417 L137.5 417.5 L139.4 417.6 L141.3 418.1 L143.3 417.5 L145.2 418.5 L147.2 418.4 L149.1 418.5 L151 418.5 L153 418.9 L154.9 419.9 L156.8 419.6 L158.8 420.5 L160.7 421 L162.6 421.5 L164.6 421.9 L166.5 423.3 L168.5 423.3 L170.4 425.2 L172.3 425.9 L174.3 426.7 L176.2 426.8 L178.1 428.1 L180.1 429.2 L182 429.9 L184 430.8 L185.9 431.7 L187.8 432.5 L189.8 433.7 L191.7 435.3 L193.6 436.2 L195.6 436.8 L197.5 437.4 L199.4 438.5 L201.4 439.4 L203.3 440.1 L205.3 442.5 L207.2 442.6 L209.1 443.1 L211.1 443.8 L213 444.7 L214.9 445.4 L216.9 446.1 L218.8 446 L220.8 447.6 L222.7 446.9 L224.6 448 L226.6 448.9 L228.5 448.8 L230.4 449.1 L232.4 449.8 L234.3 450.6 L236.3 451.3 L238.2 452.7 L240.1 452.7 L242.1 453.3 L244 453.1" fill="none" stroke="#e56c61" stroke-width="3.4" stroke-linejoin="round"/>
<path d="M13.5 461.5 L15.4 462 L17.4 462.2 L19.3 462 L21.2 462.5 L23.2 462.8 L25.1 461.7 L27.1 462.4 L29 462.8 L30.9 462.2 L32.9 463.3 L34.8 463.9 L36.7 463.4 L38.7 463.2 L40.6 463.7 L42.6 464.6 L44.5 464 L46.4 464.2 L48.4 464.4 L50.3 463.8 L52.2 462.4 L54.2 461.7 L56.1 461.2 L58.1 459.1 L60 457.5 L61.9 454.8 L63.9 453.7 L65.8 452.1 L67.7 450.3 L69.7 447.9 L71.6 446.5 L73.5 445.2 L75.5 442.4 L77.4 441 L79.4 439.1 L81.3 437.8 L83.2 436.2 L85.2 434.8 L87.1 433.4 L89 432.1 L91 430.6 L92.9 428.8 L94.9 428 L96.8 426.8 L98.7 424.9 L100.7 423.8 L102.6 423.5 L104.5 421.8 L106.5 421.3 L108.4 419.8 L110.3 418.8 L112.3 417.9 L114.2 416.8 L116.2 416.2 L118.1 415.2 L120 416.2 L122 415.9 L123.9 415 L125.8 413.9 L127.8 414.5 L129.7 413.8 L131.7 414 L133.6 413.4 L135.5 413.7 L137.5 413.8 L139.4 413.5 L141.3 413.8 L143.3 413.8 L145.2 414.1 L147.2 414 L149.1 414.6 L151 415.6 L153 415.7 L154.9 415.9 L156.8 416.8 L158.8 417.4 L160.7 417.2 L162.6 417.5 L164.6 417.8 L166.5 419.5 L168.5 420.3 L170.4 420.3 L172.3 422.3 L174.3 423.4 L176.2 423.9 L178.1 425.2 L180.1 425.3 L182 425.8 L184 427.6 L185.9 428.3 L187.8 429.5 L189.8 430.4 L191.7 430.6 L193.6 432.2 L195.6 433.4 L197.5 434.6 L199.4 435.8 L201.4 436.8 L203.3 437.4 L205.3 438.2 L207.2 438.9 L209.1 439.5 L211.1 440.6 L213 441.6 L214.9 442 L216.9 442.5 L218.8 443.5 L220.8 443.9 L222.7 445.1 L224.6 444.9 L226.6 445.3 L228.5 446 L230.4 447.4 L232.4 447.4 L234.3 447.5 L236.3 448.6 L238.2 448.6 L240.1 449.3 L242.1 450 L244 450.2" fill="none" stroke="#fff" stroke-width="4.3" stroke-linejoin="round"/>
<path d="M13.5 461.5 L15.4 462 L17.4 462.2 L19.3 462 L21.2 462.5 L23.2 462.8 L25.1 461.7 L27.1 462.4 L29 462.8 L30.9 462.2 L32.9 463.3 L34.8 463.9 L36.7 463.4 L38.7 463.2 L40.6 463.7 L42.6 464.6 L44.5 464 L46.4 464.2 L48.4 464.4 L50.3 463.8 L52.2 462.4 L54.2 461.7 L56.1 461.2 L58.1 459.1 L60 457.5 L61.9 454.8 L63.9 453.7 L65.8 452.1 L67.7 450.3 L69.7 447.9 L71.6 446.5 L73.5 445.2 L75.5 442.4 L77.4 441 L79.4 439.1 L81.3 437.8 L83.2 436.2 L85.2 434.8 L87.1 433.4 L89 432.1 L91 430.6 L92.9 428.8 L94.9 428 L96.8 426.8 L98.7 424.9 L100.7 423.8 L102.6 423.5 L104.5 421.8 L106.5 421.3 L108.4 419.8 L110.3 418.8 L112.3 417.9 L114.2 416.8 L116.2 416.2 L118.1 415.2 L120 416.2 L122 415.9 L123.9 415 L125.8 413.9 L127.8 414.5 L129.7 413.8 L131.7 414 L133.6 413.4 L135.5 413.7 L137.5 413.8 L139.4 413.5 L141.3 413.8 L143.3 413.8 L145.2 414.1 L147.2 414 L149.1 414.6 L151 415.6 L153 415.7 L154.9 415.9 L156.8 416.8 L158.8 417.4 L160.7 417.2 L162.6 417.5 L164.6 417.8 L166.5 419.5 L168.5 420.3 L170.4 420.3 L172.3 422.3 L174.3 423.4 L176.2 423.9 L178.1 425.2 L180.1 425.3 L182 425.8 L184 427.6 L185.9 428.3 L187.8 429.5 L189.8 430.4 L191.7 430.6 L193.6 432.2 L195.6 433.4 L197.5 434.6 L199.4 435.8 L201.4 436.8 L203.3 437.4 L205.3 438.2 L207.2 438.9 L209.1 439.5 L211.1 440.6 L213 441.6 L214.9 442 L216.9 442.5 L218.8 443.5 L220.8 443.9 L222.7 445.1 L224.6 444.9 L226.6 445.3 L228.5 446 L230.4 447.4 L232.4 447.4 L234.3 447.5 L236.3 448.6 L238.2 448.6 L240.1 449.3 L242.1 450 L244 450.2" fill="none" stroke="#df4f49" stroke-width="3.4" stroke-linejoin="round"/>
<path d="M13.5 459.3 L15.4 460.1 L17.4 459.8 L19.3 459.8 L21.2 460.3 L23.2 460.7 L25.1 461.3 L27.1 460.3 L29 461 L30.9 461 L32.9 461.6 L34.8 461.9 L36.7 461.7 L38.7 462.3 L40.6 462.1 L42.6 462.8 L44.5 462.2 L46.4 463.2 L48.4 461.6 L50.3 461.2 L52.2 461.1 L54.2 460.4 L56.1 458.6 L58.1 456.9 L60 455.2 L61.9 452.8 L63.9 451.5 L65.8 448.8 L67.7 447.9 L69.7 446.1 L71.6 443.9 L73.5 441.7 L75.5 440.1 L77.4 438.1 L79.4 436.3 L81.3 434 L83.2 434 L85.2 431.6 L87.1 430.1 L89 428.5 L91 427.3 L92.9 425.9 L94.9 423.5 L96.8 423.4 L98.7 421.7 L100.7 420.7 L102.6 419.1 L104.5 418.5 L106.5 417.3 L108.4 417 L110.3 415.1 L112.3 414.4 L114.2 413.1 L116.2 412.6 L118.1 412.3 L120 411.4 L122 411.6 L123.9 411.4 L125.8 410.9 L127.8 410.5 L129.7 409.8 L131.7 409.8 L133.6 409.7 L135.5 410 L137.5 410.4 L139.4 410.3 L141.3 410.4 L143.3 409.9 L145.2 409.7 L147.2 410.6 L149.1 411.1 L151 411.5 L153 412 L154.9 412.1 L156.8 411.8 L158.8 413.6 L160.7 414 L162.6 414.5 L164.6 415.4 L166.5 416.4 L168.5 416.9 L170.4 418 L172.3 418.6 L174.3 419 L176.2 420 L178.1 420.6 L180.1 421.7 L182 423 L184 423.9 L185.9 425.1 L187.8 425.6 L189.8 426.8 L191.7 428.2 L193.6 429.6 L195.6 431.1 L197.5 430.7 L199.4 431.8 L201.4 433.3 L203.3 433.9 L205.3 435 L207.2 436.2 L209.1 436.3 L211.1 437.2 L213 438.3 L214.9 439.2 L216.9 439.9 L218.8 440.6 L220.8 440.7 L222.7 441.7 L224.6 442.1 L226.6 443.2 L228.5 443.7 L230.4 444.1 L232.4 444.3 L234.3 444.1 L236.3 446.1 L238.2 445.6 L240.1 446.3 L242.1 447.4 L244 447.7" fill="none" stroke="#fff" stroke-width="4.3" stroke-linejoin="round"/>
<path d="M13.5 459.3 L15.4 460.1 L17.4 459.8 L19.3 459.8 L21.2 460.3 L23.2 460.7 L25.1 461.3 L27.1 460.3 L29 461 L30.9 461 L32.9 461.6 L34.8 461.9 L36.7 461.7 L38.7 462.3 L40.6 462.1 L42.6 462.8 L44.5 462.2 L46.4 463.2 L48.4 461.6 L50.3 461.2 L52.2 461.1 L54.2 460.4 L56.1 458.6 L58.1 456.9 L60 455.2 L61.9 452.8 L63.9 451.5 L65.8 448.8 L67.7 447.9 L69.7 446.1 L71.6 443.9 L73.5 441.7 L75.5 440.1 L77.4 438.1 L79.4 436.3 L81.3 434 L83.2 434 L85.2 431.6 L87.1 430.1 L89 428.5 L91 427.3 L92.9 425.9 L94.9 423.5 L96.8 423.4 L98.7 421.7 L100.7 420.7 L102.6 419.1 L104.5 418.5 L106.5 417.3 L108.4 417 L110.3 415.1 L112.3 414.4 L114.2 413.1 L116.2 412.6 L118.1 412.3 L120 411.4 L122 411.6 L123.9 411.4 L125.8 410.9 L127.8 410.5 L129.7 409.8 L131.7 409.8 L133.6 409.7 L135.5 410 L137.5 410.4 L139.4 410.3 L141.3 410.4 L143.3 409.9 L145.2 409.7 L147.2 410.6 L149.1 411.1 L151 411.5 L153 412 L154.9 412.1 L156.8 411.8 L158.8 413.6 L160.7 414 L162.6 414.5 L164.6 415.4 L166.5 416.4 L168.5 416.9 L170.4 418 L172.3 418.6 L174.3 419 L176.2 420 L178.1 420.6 L180.1 421.7 L182 423 L184 423.9 L185.9 425.1 L187.8 425.6 L189.8 426.8 L191.7 428.2 L193.6 429.6 L195.6 431.1 L197.5 430.7 L199.4 431.8 L201.4 433.3 L203.3 433.9 L205.3 435 L207.2 436.2 L209.1 436.3 L211.1 437.2 L213 438.3 L214.9 439.2 L216.9 439.9 L218.8 440.6 L220.8 440.7 L222.7 441.7 L224.6 442.1 L226.6 443.2 L228.5 443.7 L230.4 444.1 L232.4 444.3 L234.3 444.1 L236.3 446.1 L238.2 445.6 L240.1 446.3 L242.1 447.4 L244 447.7" fill="none" stroke="#d83232" stroke-width="3.4" stroke-linejoin="round"/>
</g>
<line x1="15.5" y1="267.4" x2="15.5" y2="493.2" stroke="#a0a0a0" stroke-width="1" />
<line x1="15.5" y1="493.2" x2="242" y2="493.2" stroke="#8a8a8a" stroke-width="1" />
<line x1="242" y1="267.4" x2="242" y2="493.2" stroke="#c8c8c8" stroke-width="1" />
<line x1="14.9" y1="493.2" x2="14.9" y2="495.7" stroke="#8a8a8a" stroke-width="1" />
<line x1="43.3" y1="493.2" x2="43.3" y2="495.7" stroke="#8a8a8a" stroke-width="1" />
<line x1="71.7" y1="493.2" x2="71.7" y2="497.7" stroke="#8a8a8a" stroke-width="1" />
<text x="71.7" y="512.2" font-size="14.4" text-anchor="middle" fill="#1a1a1a" >3600</text>
<line x1="100.1" y1="493.2" x2="100.1" y2="495.7" stroke="#8a8a8a" stroke-width="1" />
<line x1="128.5" y1="493.2" x2="128.5" y2="495.7" stroke="#8a8a8a" stroke-width="1" />
<line x1="156.9" y1="493.2" x2="156.9" y2="495.7" stroke="#8a8a8a" stroke-width="1" />
<line x1="185.3" y1="493.2" x2="185.3" y2="497.7" stroke="#8a8a8a" stroke-width="1" />
<text x="185.3" y="512.2" font-size="14.4" text-anchor="middle" fill="#1a1a1a" >3200</text>
<line x1="213.7" y1="493.2" x2="213.7" y2="495.7" stroke="#8a8a8a" stroke-width="1" />
<line x1="242.1" y1="493.2" x2="242.1" y2="495.7" stroke="#8a8a8a" stroke-width="1" />
<text x="127.5" y="525" font-size="14.4" text-anchor="middle" fill="#1a1a1a">Wavenumber (cm<tspan dy="-5" font-size="8.5">-1</tspan><tspan dy="5">)</tspan></text>
<text transform="translate(11.5,379) rotate(-90)" font-size="14.4" text-anchor="middle" fill="#1a1a1a">Absorbance (arb. units)</text>
<line x1="32.1" y1="279.7" x2="32.1" y2="304" stroke="#222" stroke-width="1" />
<line x1="29.2" y1="280.2" x2="35" y2="280.2" stroke="#222" stroke-width="1" />
<line x1="29.2" y1="303.5" x2="35" y2="303.5" stroke="#222" stroke-width="1" />
<text x="41.3" y="289.6" font-size="14.4" text-anchor="start" fill="#1a1a1a" >Abs.</text>
<text x="38.5" y="307.2" font-size="14.4" text-anchor="start" fill="#1a1a1a" >0.008</text>
<text x="237.8" y="283.5" font-size="14.45" text-anchor="end" fill="#1a1a1a" >@ 2.0 V vs. Ag/AgCl</text>
<text x="17.2" y="342.4" font-size="14.4" text-anchor="start" fill="#1a1a1a" >30 min</text>
<text x="22" y="422" font-size="14.4" text-anchor="start" fill="#1a1a1a" >2 min</text>
<line x1="37.2" y1="405" x2="37.2" y2="355" stroke="#000" stroke-width="1"/>
<path d="M34.8 357 L37.2 350 L39.6 357 Z" fill="#000"/>
<circle cx="86.5" cy="308.3" r="6.8" fill="url(#gR)" stroke="#333" stroke-width="0.6" />
<circle cx="82.5" cy="300" r="4.6" fill="url(#gH2)" stroke="#333" stroke-width="0.5" />
<circle cx="98" cy="307.5" r="4.6" fill="url(#gH2)" stroke="#333" stroke-width="0.5" />
<line x1="119" y1="303" x2="124" y2="312" stroke="#333" stroke-width="0.7" stroke-dasharray="1.6 1.2"/>
<line x1="132" y1="327" x2="138" y2="335" stroke="#333" stroke-width="0.7" stroke-dasharray="1.6 1.2"/>
<circle cx="129" cy="320.4" r="7.2" fill="url(#gO)" stroke="#333" stroke-width="0.6" />
<circle cx="127" cy="311.3" r="4.7" fill="url(#gH2)" stroke="#333" stroke-width="0.5" />
<circle cx="140.4" cy="319.7" r="4.7" fill="url(#gH2)" stroke="#333" stroke-width="0.5" />
<line x1="166" y1="310" x2="171" y2="320" stroke="#333" stroke-width="0.7" stroke-dasharray="1.6 1.2"/>
<line x1="180" y1="340" x2="186" y2="350" stroke="#333" stroke-width="0.7" stroke-dasharray="1.6 1.2"/>
<line x1="161" y1="340" x2="168" y2="336" stroke="#333" stroke-width="0.7" stroke-dasharray="1.6 1.2"/>
<line x1="190" y1="330" x2="198" y2="327" stroke="#333" stroke-width="0.7" stroke-dasharray="1.6 1.2"/>
<circle cx="175.3" cy="332.2" r="7.2" fill="url(#gO)" stroke="#333" stroke-width="0.6" />
<circle cx="172.6" cy="322.7" r="4.7" fill="url(#gH2)" stroke="#333" stroke-width="0.5" />
<circle cx="185.9" cy="331" r="4.7" fill="url(#gH2)" stroke="#333" stroke-width="0.5" />
<filter id="hblur" x="-5%" y="-5%" width="110%" height="110%"><feGaussianBlur stdDeviation="0.9"/></filter>
<clipPath id="cpe"><rect x="303" y="267" width="168" height="226"/></clipPath>
<g clip-path="url(#cpe)"><g filter="url(#hblur)">
<rect x="299" y="263" width="176" height="234" fill="#2a4a9a"/>
<path d="M459.0 492.5 380.8 492.5 378.9 466.0 377.3 434.0 375.5 422.1 374.5 419.0 359.7 399.0 358.2 396.0 355.7 386.0 354.9 380.0 351.9 353.5 352.2 348.5 349.9 345.0 348.7 341.0 348.6 338.0 349.2 334.5 345.0 333.2 341.0 330.9 340.5 331.0 337.2 336.5 334.0 339.7 330.0 341.6 326.0 341.6 322.0 339.7 318.8 336.5 315.7 331.5 313.5 325.5 312.3 319.5 311.8 313.5 312.0 307.0 312.9 301.0 314.5 295.5 316.8 290.5 319.5 286.6 322.5 284.0 326.5 282.3 330.5 282.6 334.0 284.3 337.5 287.8 340.7 293.5 342.9 300.0 344.1 308.0 344.1 316.0 348.5 318.8 351.0 320.9 353.1 323.5 355.0 327.2 360.0 325.6 365.0 326.3 368.0 327.9 370.6 330.5 372.4 333.5 373.4 337.5 403.5 345.8 418.5 351.7 427.5 356.2 433.5 361.0 439.5 367.0 444.3 372.5 449.7 380.5 454.9 390.5 459.1 401.0 462.7 416.5 462.1 435.5 459.6 469.5 459.6 485.0 459.0 492.5Z" fill="#2c519f" fill-rule="evenodd"/>
<path d="M327.0 316.5 324.0 315.9 321.5 313.6 319.7 310.0 319.0 305.5 319.4 301.0 321.1 297.0 323.5 294.4 326.5 293.4 329.0 294.1 331.6 296.5 333.3 300.0 334.0 304.5 333.6 309.0 332.0 312.9 329.6 315.5 327.0 316.5ZM457.5 492.5 382.1 492.5 378.7 433.5 376.6 420.5 375.2 417.5 360.2 397.0 356.9 384.0 353.6 353.5 353.7 350.5 354.8 345.5 353.0 342.0 352.6 339.0 353.7 334.5 355.1 332.5 357.0 331.0 360.5 329.9 364.0 330.5 367.5 333.2 369.3 337.5 373.0 339.4 403.5 348.0 417.5 353.5 426.6 358.0 432.5 362.7 438.3 368.5 442.6 373.5 449.0 382.7 454.2 392.5 457.6 401.5 461.0 416.5 460.5 435.5 458.1 469.5 458.1 485.0 457.5 492.5Z" fill="#3060a9" fill-rule="evenodd"/>
<path d="M326.5 311.0 325.0 310.6 323.6 309.0 322.6 305.0 323.6 301.0 325.0 299.4 326.5 299.0 328.0 299.4 329.4 301.0 330.4 305.0 329.4 309.0 328.0 310.6 326.5 311.0ZM456.0 492.5 383.1 492.5 379.7 432.5 377.6 420.5 376.2 417.0 367.5 405.7 361.4 396.5 358.0 383.5 356.4 370.0 355.3 352.5 355.8 348.5 357.5 343.5 355.8 341.0 355.6 338.0 356.5 335.6 358.1 334.0 360.5 333.1 363.0 333.5 365.4 335.5 366.8 339.0 373.5 342.1 381.5 345.2 402.5 350.8 416.2 356.0 425.5 360.6 430.5 364.5 436.5 370.2 449.4 385.5 454.3 395.0 457.8 407.0 459.4 417.5 459.0 435.0 456.8 470.0 456.8 485.5 456.3 492.5 456.0 492.5Z" fill="#3d80c0" fill-rule="evenodd"/>
<path d="M361.5 340.6 360.3 340.5 359.5 339.5 359.5 338.5 360.5 337.4 361.7 337.5 362.5 338.5 362.5 339.5 361.5 340.6ZM455.0 492.5 384.0 492.5 380.6 430.5 380.0 426.5 377.3 417.0 368.5 405.2 362.5 395.8 358.9 382.0 357.4 367.5 357.4 351.0 358.5 346.8 362.0 341.4 364.0 341.1 368.0 342.4 380.0 348.4 399.5 353.5 411.5 357.6 423.0 362.9 426.5 365.1 431.5 369.5 437.6 375.5 446.5 383.3 448.8 386.0 453.7 395.5 456.7 407.5 457.7 418.0 457.6 435.0 455.7 471.0 455.7 485.5 455.0 492.5Z" fill="#509cca" fill-rule="evenodd"/>
<path d="M454.0 492.5 384.9 492.5 383.1 466.0 381.4 430.5 380.7 426.0 377.9 416.0 369.6 404.5 363.8 395.0 359.8 382.0 359.1 374.0 359.6 360.0 360.7 350.5 361.5 348.6 363.5 346.2 365.0 345.9 367.5 346.5 378.5 352.2 399.0 356.9 414.0 361.9 425.0 367.8 445.5 383.4 448.3 386.5 453.1 396.0 455.6 407.5 456.3 418.0 456.3 435.0 454.8 471.5 454.8 486.0 454.3 492.5 454.0 492.5Z" fill="#65b4ce" fill-rule="evenodd"/>
<path d="M453.5 492.5 385.9 492.5 383.9 466.0 382.3 430.5 381.6 426.0 378.5 414.9 365.1 393.5 361.5 384.7 360.6 381.5 360.2 375.0 361.7 369.0 364.5 363.5 368.0 360.4 371.0 359.3 383.5 359.3 399.5 360.7 410.5 363.8 418.5 368.6 439.0 379.4 445.5 384.3 447.6 386.5 452.3 395.5 454.9 411.0 455.2 435.0 453.5 492.5Z" fill="#83c6b8" fill-rule="evenodd"/>
<path d="M452.5 492.5 387.0 492.5 384.8 466.5 383.1 430.0 380.8 418.5 378.8 412.5 365.5 390.7 361.6 381.5 361.3 377.0 361.7 374.5 364.6 369.0 366.5 366.7 369.0 365.7 382.5 363.0 400.0 363.4 410.5 366.3 417.8 371.5 438.0 379.9 445.0 384.9 447.0 387.0 451.7 396.0 453.9 412.0 453.6 465.5 453.2 471.5 453.1 486.5 452.5 492.5Z" fill="#a2d49e" fill-rule="evenodd"/>
<path d="M451.5 492.5 388.3 492.5 386.0 466.5 384.3 429.5 381.4 415.0 380.2 411.5 373.9 400.5 366.5 389.0 362.9 381.0 362.6 377.5 363.0 375.5 365.5 370.9 367.5 368.3 370.0 367.4 383.0 364.7 396.0 364.7 399.5 365.1 409.5 367.8 417.5 373.4 437.5 381.1 444.0 385.6 446.0 387.5 450.7 396.5 452.6 413.0 452.6 465.0 451.5 492.5Z" fill="#c0d981" fill-rule="evenodd"/>
<path d="M450.0 492.5 389.8 492.5 387.4 466.0 385.5 427.5 382.0 411.5 375.0 399.0 368.5 388.7 364.6 381.0 364.3 378.0 364.6 376.0 367.1 371.5 369.0 369.5 383.5 366.3 396.0 366.3 399.5 366.8 408.9 369.5 417.0 375.2 424.5 378.4 436.5 382.5 443.1 387.0 444.9 389.0 449.4 397.5 451.3 413.5 451.3 464.5 450.9 470.0 450.8 485.5 450.4 492.5 450.0 492.5Z" fill="#dede64" fill-rule="evenodd"/>
<path d="M449.0 492.5 391.3 492.5 388.8 465.5 386.8 426.5 383.4 411.0 367.0 379.6 366.8 377.5 367.4 375.5 368.8 373.0 370.3 371.5 377.0 369.5 385.0 368.2 396.0 368.3 401.4 369.5 408.0 371.6 414.0 376.3 417.0 377.8 436.0 384.8 441.5 388.5 443.5 390.8 447.6 398.0 450.0 414.0 450.1 464.0 449.7 485.0 449.0 492.5Z" fill="#e5d55b" fill-rule="evenodd"/>
<path d="M448.0 492.5 392.9 492.5 390.3 465.5 388.2 426.0 385.2 411.5 378.8 398.0 374.3 385.0 371.4 379.0 371.6 376.0 373.2 374.0 378.1 372.0 385.5 370.6 394.5 370.8 399.9 372.0 406.2 374.5 411.1 378.5 413.8 380.0 435.0 387.6 440.5 391.3 444.0 396.0 445.6 399.0 447.0 403.5 448.9 415.0 448.9 464.0 448.6 484.5 448.0 492.5Z" fill="#eccb53" fill-rule="evenodd"/>
<path d="M447.0 492.5 394.6 492.5 391.9 465.5 389.8 426.5 388.2 417.0 386.8 411.5 381.1 398.5 380.3 395.5 379.6 385.0 377.1 379.0 377.7 377.0 379.5 375.4 382.7 374.0 386.5 373.3 392.5 373.4 396.5 374.2 401.0 376.5 409.5 382.3 427.5 387.6 433.5 390.0 439.0 393.7 443.1 399.0 445.5 404.5 447.8 415.5 447.8 463.5 447.0 492.5Z" fill="#eec14b" fill-rule="evenodd"/>
<path d="M446.0 492.5 396.3 492.5 393.6 466.0 391.2 426.0 388.8 413.0 383.2 398.5 382.7 396.0 382.9 393.5 384.0 390.9 387.6 385.5 389.0 384.3 393.5 383.1 397.0 383.1 427.5 390.5 433.0 393.0 437.5 396.0 440.5 399.3 443.4 404.0 446.3 413.5 446.6 416.5 446.7 463.5 446.0 492.5Z" fill="#efb542" fill-rule="evenodd"/>
<path d="M445.0 492.5 397.9 492.5 395.1 466.0 393.5 434.5 392.0 420.8 390.9 414.5 385.0 397.0 385.3 395.5 386.5 394.0 394.0 389.7 397.0 388.7 400.0 388.8 413.0 390.2 426.5 393.1 432.0 395.7 436.5 398.5 442.5 406.0 445.2 414.0 445.6 417.0 445.5 484.0 445.4 492.5 445.0 492.5Z" fill="#f0aa3a" fill-rule="evenodd"/>
<path d="M444.5 492.5 399.5 492.5 396.6 466.0 394.4 428.5 392.8 415.5 387.5 399.0 387.5 397.5 388.5 396.4 397.0 393.4 400.0 392.9 412.0 393.0 424.0 395.0 427.5 396.2 435.0 400.0 441.4 406.5 443.3 411.0 444.7 417.0 444.9 463.5 444.5 492.5Z" fill="#ef9f37" fill-rule="evenodd"/>
<path d="M443.5 492.5 401.2 492.5 398.1 465.5 396.4 433.5 394.9 419.5 394.2 414.5 390.7 400.5 391.0 399.0 392.0 398.2 399.5 395.7 408.5 395.0 412.5 395.1 424.0 396.8 430.5 399.2 434.5 401.2 439.0 405.2 441.0 407.8 443.6 414.5 444.1 418.5 444.3 465.0 444.0 492.5 443.5 492.5Z" fill="#ef9333" fill-rule="evenodd"/>
<path d="M443.0 492.5 403.0 492.5 399.8 465.5 398.0 432.5 396.1 415.0 394.2 403.5 394.3 401.5 395.8 400.0 400.5 398.3 410.0 396.9 424.0 398.3 430.5 400.4 434.0 402.1 439.0 406.5 441.1 409.5 443.2 416.0 443.7 427.5 443.7 465.5 443.3 492.5 443.0 492.5Z" fill="#ee8830" fill-rule="evenodd"/>
<path d="M442.5 492.5 405.0 492.5 401.5 465.5 399.7 433.0 397.2 409.0 397.5 403.5 399.5 401.6 411.0 398.7 424.5 399.8 430.5 401.5 433.5 403.0 438.5 407.2 441.0 410.7 442.6 416.5 443.2 428.5 443.2 465.0 442.5 492.5Z" fill="#ed7c2f" fill-rule="evenodd"/>
<path d="M442.0 492.5 407.0 492.5 403.4 467.0 401.6 434.0 399.6 411.5 400.3 405.5 401.0 404.5 402.6 403.5 409.4 401.0 412.5 400.5 423.0 401.0 429.5 402.3 432.5 403.5 436.0 406.1 439.0 408.9 440.7 411.5 442.0 417.0 442.7 428.5 442.7 465.0 442.0 492.5Z" fill="#ed712d" fill-rule="evenodd"/>
<path d="M441.0 492.5 409.0 492.5 405.1 467.0 401.6 412.0 402.1 409.0 403.5 406.5 411.0 402.6 414.0 402.2 422.5 402.4 430.5 403.6 433.0 404.9 437.5 408.4 439.5 410.6 440.4 412.5 441.4 417.5 442.3 429.5 442.2 465.0 441.3 492.5 441.0 492.5Z" fill="#ec652c" fill-rule="evenodd"/>
<path d="M440.5 492.5 411.1 492.5 406.8 466.5 403.5 413.5 404.0 410.8 405.5 408.5 407.5 406.9 412.5 404.2 422.5 403.9 430.5 404.7 437.0 409.1 438.9 411.0 439.7 412.5 440.7 417.5 441.7 429.5 441.7 465.0 440.5 492.5Z" fill="#ea592a" fill-rule="evenodd"/>
<path d="M439.5 492.5 413.1 492.5 408.5 466.5 406.8 434.5 405.5 421.0 405.4 415.5 405.5 413.0 406.6 411.0 409.0 408.8 413.5 405.8 423.0 405.3 430.0 405.7 432.0 406.6 437.0 410.2 439.2 413.0 440.0 417.5 441.1 430.0 441.1 464.5 439.5 492.5Z" fill="#e84d28" fill-rule="evenodd"/>
<path d="M438.0 492.5 415.8 492.5 410.3 465.5 408.6 434.0 407.2 419.0 407.3 415.0 407.9 413.0 410.3 410.5 414.5 407.5 424.0 406.8 430.0 407.1 436.5 411.0 438.0 412.5 438.5 413.7 440.4 429.0 440.4 458.0 438.0 492.5Z" fill="#e64126" fill-rule="evenodd"/>
<path d="M430.0 492.5 424.3 492.5 423.3 489.5 417.5 477.5 413.0 465.6 412.2 462.0 411.5 456.0 409.6 416.5 410.1 414.5 411.5 412.7 414.5 410.2 416.5 409.4 425.5 409.0 430.0 409.3 436.5 412.7 437.4 414.0 438.0 416.5 439.3 429.5 439.1 461.0 435.9 474.5 430.0 492.5Z" fill="#e33625" fill-rule="evenodd"/>
<path d="M427.0 477.6 426.0 477.7 424.5 476.9 421.0 472.9 415.5 463.4 413.9 458.5 412.4 417.5 412.9 415.5 413.9 414.0 415.5 412.7 417.5 412.0 427.0 411.6 431.0 412.3 435.5 414.2 436.8 417.5 437.7 430.0 437.5 459.0 436.5 462.1 431.1 473.0 429.0 475.8 427.0 477.6Z" fill="#e02b25" fill-rule="evenodd"/>
<path d="M426.5 469.5 425.0 469.4 423.0 467.9 417.0 460.3 415.9 457.5 415.1 418.5 416.0 415.8 418.5 414.4 427.0 414.2 432.5 414.9 434.5 415.9 435.4 418.0 435.9 430.5 435.7 458.0 434.9 460.0 429.0 467.6 426.5 469.5Z" fill="#db2124" fill-rule="evenodd"/>
<path d="M426.5 464.7 424.5 464.2 421.0 461.1 418.6 458.5 417.8 456.5 417.5 419.5 418.1 417.5 420.0 416.6 432.0 416.8 433.4 417.5 434.0 419.0 434.1 456.5 433.7 458.0 432.5 459.5 426.5 464.7Z" fill="#c51e26" fill-rule="evenodd"/>
<path d="M426.5 461.7 425.0 461.5 421.5 458.7 420.1 457.0 419.5 455.0 419.5 421.5 420.0 419.4 422.0 418.5 430.5 418.6 432.0 419.5 432.4 421.0 432.4 455.5 431.9 457.0 430.7 458.5 426.5 461.7Z" fill="#ae1a28" fill-rule="evenodd"/>
<path d="M427.0 458.7 425.5 458.9 423.5 457.7 422.0 456.0 421.5 454.0 421.6 423.0 422.0 421.5 424.0 420.6 429.0 420.8 430.0 421.5 430.4 423.0 430.5 454.0 429.6 456.5 427.0 458.7Z" fill="#971827" fill-rule="evenodd"/>
</g></g>
<clipPath id="cpf"><rect x="508" y="267" width="168" height="226"/></clipPath>
<g clip-path="url(#cpf)"><g filter="url(#hblur)">
<rect x="504" y="263" width="176" height="234" fill="#2a4a9a"/>
<path d="M663.0 492.5 590.6 492.5 587.6 466.0 586.5 434.0 585.0 428.7 580.0 416.2 575.0 408.0 567.7 397.5 561.1 386.5 556.0 376.0 553.5 366.5 548.5 360.4 545.5 359.2 542.5 357.3 540.2 355.0 538.1 352.0 536.0 346.0 535.5 339.1 533.0 339.1 530.0 338.4 527.0 337.0 524.0 334.9 518.9 329.5 514.3 322.0 512.3 317.0 510.7 311.5 509.9 306.0 509.8 301.0 510.4 296.5 511.6 292.5 513.5 289.1 516.0 286.7 518.0 285.6 520.5 284.9 525.5 285.5 530.5 288.0 535.5 292.5 538.9 297.0 541.7 302.0 544.4 309.0 546.0 316.5 550.0 322.9 550.5 323.2 555.5 323.4 559.5 324.8 563.5 327.6 566.6 331.5 568.2 335.0 569.2 339.0 569.4 343.0 568.8 347.0 613.0 355.8 626.0 360.7 634.5 366.9 643.0 376.0 653.0 382.5 654.5 384.0 660.1 393.5 665.7 405.5 666.4 408.0 667.1 422.0 666.9 428.5 663.9 469.5 663.9 486.0 663.4 492.5 663.0 492.5Z" fill="#2c519f" fill-rule="evenodd"/>
<path d="M531.5 310.7 529.5 310.6 528.0 309.7 526.9 308.0 526.3 306.0 526.4 303.5 527.1 301.5 528.5 299.9 530.0 299.3 531.5 299.3 533.0 300.2 534.3 302.0 534.9 304.0 534.8 306.5 534.1 308.5 533.0 309.8 531.5 310.7ZM542.0 325.7 540.5 325.4 539.0 323.8 538.0 321.9 538.0 320.3 539.5 320.6 541.0 322.2 542.0 324.1 542.0 325.7ZM662.0 492.5 591.8 492.5 589.0 466.0 587.5 432.0 581.5 416.1 576.5 408.0 568.9 397.5 561.7 385.0 557.2 375.0 554.5 362.0 552.0 358.7 550.0 355.1 547.5 354.2 545.0 352.4 543.0 350.1 541.6 347.5 540.6 343.0 541.1 338.0 542.9 334.0 546.0 330.8 549.5 329.0 553.5 328.7 557.5 329.8 560.5 332.0 563.0 335.5 564.3 339.5 564.4 343.5 563.2 348.0 563.5 348.2 575.1 350.0 612.5 357.4 625.5 362.4 633.3 368.0 642.1 377.0 652.5 383.5 654.8 386.0 658.9 394.0 664.5 406.9 665.4 416.0 665.4 428.0 662.5 469.0 662.0 492.5Z" fill="#3060a9" fill-rule="evenodd"/>
<path d="M660.5 492.5 592.9 492.5 590.3 465.5 588.9 432.0 585.4 422.0 582.7 416.0 579.1 410.0 571.4 400.0 562.7 385.0 558.7 375.0 557.4 370.0 557.0 360.0 553.9 356.5 552.0 351.5 549.5 350.9 547.5 349.7 544.8 346.0 544.0 343.0 544.3 339.5 545.5 336.5 548.0 333.9 550.5 332.7 553.5 332.5 556.5 333.6 558.7 335.5 560.4 338.5 561.0 341.5 560.6 345.0 559.1 348.0 562.5 351.8 579.0 353.5 609.0 359.2 618.0 361.8 624.5 364.6 629.5 367.8 640.1 377.0 646.0 379.8 652.5 384.3 654.1 386.0 659.2 397.0 662.7 408.0 663.7 416.0 663.7 427.5 661.1 470.5 660.5 492.5Z" fill="#3d80c0" fill-rule="evenodd"/>
<path d="M553.5 347.6 551.5 347.6 549.5 346.6 548.2 345.0 547.5 343.0 547.6 340.5 548.5 338.5 550.0 337.1 552.0 336.4 554.0 336.6 555.5 337.4 556.8 339.0 557.5 341.0 557.5 343.0 556.8 345.0 555.5 346.6 553.5 347.6ZM659.0 492.5 593.9 492.5 591.7 465.5 590.3 432.5 586.8 421.5 584.2 416.0 580.2 409.5 572.0 399.6 563.1 383.5 560.2 374.5 558.9 369.0 561.0 358.6 562.5 356.2 565.0 355.8 578.0 356.5 598.5 359.8 616.5 364.0 628.5 370.0 638.5 377.5 645.5 380.0 652.0 384.5 653.9 386.5 658.7 397.5 661.8 416.5 660.6 466.0 659.0 492.5Z" fill="#509cca" fill-rule="evenodd"/>
<path d="M658.0 492.5 595.0 492.5 592.9 466.0 591.3 431.5 588.2 420.5 585.2 414.5 581.6 408.5 573.0 398.6 564.5 383.5 563.0 378.0 561.5 369.5 563.5 363.8 565.5 360.5 577.2 360.0 597.5 363.0 615.6 367.0 627.0 372.1 637.2 378.0 645.0 380.3 651.8 385.0 653.5 386.7 658.1 397.5 660.6 416.0 659.9 467.0 658.0 492.5Z" fill="#65b4ce" fill-rule="evenodd"/>
<path d="M657.0 492.5 596.1 492.5 594.1 466.0 592.7 435.0 590.6 420.5 585.8 407.5 582.0 400.0 577.5 393.2 572.5 389.5 570.5 387.4 567.2 382.0 566.6 378.5 566.8 375.5 568.5 372.1 570.5 369.7 572.5 368.7 577.0 367.7 582.5 367.6 619.5 374.3 629.0 376.3 638.5 379.3 644.5 380.6 651.5 385.4 653.1 387.0 657.6 397.5 659.8 416.0 659.3 467.0 657.0 492.5Z" fill="#83c6b8" fill-rule="evenodd"/>
<path d="M656.0 492.5 597.3 492.5 595.4 467.0 593.9 435.5 592.4 419.0 586.5 399.5 581.8 390.5 580.1 389.0 573.5 386.3 571.8 384.5 569.9 381.5 569.4 379.5 569.5 377.5 571.5 375.0 578.0 372.2 581.5 371.7 611.0 377.5 629.0 378.3 644.0 381.1 652.5 387.2 657.0 398.0 658.9 416.0 658.6 467.0 656.4 492.5 656.0 492.5Z" fill="#a2d49e" fill-rule="evenodd"/>
<path d="M655.0 492.5 598.8 492.5 594.0 418.0 588.7 400.0 586.5 395.0 582.2 388.0 575.0 385.3 573.1 383.5 571.0 379.5 571.4 377.5 572.5 376.3 578.5 373.8 581.5 373.3 610.0 379.2 628.0 379.9 643.0 382.0 646.6 384.0 651.7 388.0 656.0 398.5 657.6 416.0 657.6 466.0 655.0 492.5Z" fill="#c0d981" fill-rule="evenodd"/>
<path d="M653.5 492.5 600.4 492.5 595.5 417.5 589.7 398.0 585.0 388.7 583.0 386.4 575.0 383.4 572.7 380.0 572.7 378.5 573.5 377.5 577.5 375.5 581.5 374.6 609.0 380.7 627.0 381.4 642.0 383.4 644.0 384.2 650.3 389.0 654.5 399.0 656.3 416.5 656.3 465.5 653.8 492.5 653.5 492.5Z" fill="#dede64" fill-rule="evenodd"/>
<path d="M652.5 492.5 601.9 492.5 596.7 417.0 591.0 397.5 586.7 387.5 585.7 386.0 584.3 385.0 576.0 382.2 574.4 379.5 575.5 378.0 580.0 376.1 582.5 376.0 587.1 377.0 596.0 380.1 603.0 381.4 609.5 382.4 626.5 382.9 641.5 385.0 645.5 387.2 649.0 390.2 653.3 400.0 655.2 417.0 655.2 465.0 652.8 492.5 652.5 492.5Z" fill="#e5d55b" fill-rule="evenodd"/>
<path d="M651.5 492.5 603.7 492.5 598.0 417.0 594.7 406.5 589.0 385.3 588.0 384.0 586.5 383.1 578.4 381.0 577.7 379.5 578.8 378.5 581.0 377.7 583.5 377.9 586.3 379.0 590.5 381.7 596.5 383.2 609.0 384.2 626.0 384.6 641.0 386.9 644.8 389.0 647.8 392.0 652.1 400.5 654.2 417.5 654.2 465.0 651.9 492.5 651.5 492.5Z" fill="#eccb53" fill-rule="evenodd"/>
<path d="M650.5 492.5 605.5 492.5 599.5 418.5 595.7 406.0 593.1 394.0 593.1 388.5 594.0 386.6 606.0 386.0 625.5 386.3 640.5 388.9 643.0 390.0 645.3 392.0 650.3 400.0 650.9 402.0 653.2 419.0 653.2 465.0 651.0 492.5 650.5 492.5Z" fill="#eec14b" fill-rule="evenodd"/>
<path d="M650.0 492.5 607.4 492.5 604.9 466.0 602.6 434.0 600.9 418.5 596.7 405.5 594.8 394.5 595.4 391.5 597.0 389.5 599.5 388.8 607.5 387.9 625.0 388.1 639.5 390.7 641.8 391.5 643.5 392.9 649.2 401.0 652.2 418.5 652.2 465.0 650.0 492.5Z" fill="#efb542" fill-rule="evenodd"/>
<path d="M649.0 492.5 609.2 492.5 606.6 466.5 604.1 434.0 602.3 418.5 597.8 405.0 596.5 395.5 597.0 393.4 599.5 391.7 608.0 389.8 624.5 389.9 638.5 392.5 640.5 393.0 641.9 394.0 648.1 402.0 651.3 419.0 651.2 465.0 649.0 492.5Z" fill="#f0aa3a" fill-rule="evenodd"/>
<path d="M648.0 492.5 610.9 492.5 608.0 466.0 605.5 433.5 603.6 418.5 598.9 404.0 598.3 396.0 598.7 395.0 599.5 394.4 609.0 391.6 626.0 391.7 640.0 394.9 647.0 402.8 650.3 419.0 650.3 465.0 648.0 492.5Z" fill="#ef9f37" fill-rule="evenodd"/>
<path d="M647.0 492.5 612.3 492.5 609.5 465.5 606.9 433.0 605.5 421.0 604.8 416.5 601.0 403.5 601.0 398.0 602.5 396.4 610.0 393.9 625.0 393.6 639.0 396.5 641.9 399.0 645.7 403.5 648.3 413.0 649.4 419.5 649.3 465.0 647.0 492.5Z" fill="#ef9333" fill-rule="evenodd"/>
<path d="M645.5 492.5 613.8 492.5 611.1 465.5 608.5 432.0 606.8 417.0 604.2 403.5 605.0 399.7 609.1 397.5 615.0 396.3 623.0 395.8 636.5 397.9 640.0 399.8 643.5 403.4 644.5 405.0 648.1 417.5 648.4 427.0 648.0 465.0 645.8 492.5 645.5 492.5Z" fill="#ee8830" fill-rule="evenodd"/>
<path d="M644.0 492.5 615.4 492.5 612.8 465.0 610.3 431.5 607.7 409.5 608.0 402.5 609.0 401.3 611.0 400.3 617.0 398.8 622.5 398.2 637.0 400.2 639.5 401.9 642.5 405.0 645.9 413.5 647.0 419.0 647.2 444.5 646.6 465.0 644.3 492.5 644.0 492.5Z" fill="#ed7c2f" fill-rule="evenodd"/>
<path d="M642.5 492.5 616.9 492.5 610.2 412.0 610.6 408.0 611.8 404.0 613.5 402.9 618.0 401.3 623.5 400.7 635.0 401.9 637.0 402.5 641.1 406.0 645.2 415.5 645.8 419.0 646.2 437.0 645.5 459.5 642.8 492.5 642.5 492.5Z" fill="#ed712d" fill-rule="evenodd"/>
<path d="M641.0 492.5 618.5 492.5 612.4 413.5 613.0 410.4 614.6 406.5 617.0 404.7 620.5 403.4 623.5 403.1 633.5 403.9 637.5 405.1 640.0 407.5 644.2 416.5 645.1 437.0 644.2 459.0 641.3 492.5 641.0 492.5Z" fill="#ec652c" fill-rule="evenodd"/>
<path d="M639.5 492.5 620.0 492.5 614.4 414.5 615.1 412.0 617.5 408.2 619.6 406.5 622.0 405.6 633.0 406.0 637.0 407.0 638.6 408.5 643.1 417.0 643.9 437.0 643.7 444.0 642.5 466.5 639.8 492.5 639.5 492.5Z" fill="#ea592a" fill-rule="evenodd"/>
<path d="M638.0 492.5 621.6 492.5 617.5 436.0 616.5 415.0 617.0 413.5 619.7 410.0 621.5 408.5 623.0 408.0 632.0 408.1 636.0 408.6 637.6 410.0 642.0 417.5 642.7 437.0 642.5 443.5 641.1 466.5 638.4 492.5 638.0 492.5Z" fill="#e84d28" fill-rule="evenodd"/>
<path d="M636.5 492.5 623.3 492.5 619.2 435.5 618.7 416.0 619.8 413.5 622.5 410.8 624.0 410.2 635.3 410.5 638.0 413.7 640.6 418.0 641.1 429.0 641.1 443.0 639.6 466.0 636.5 492.5Z" fill="#e64126" fill-rule="evenodd"/>
<path d="M634.0 492.5 625.9 492.5 621.4 422.5 621.7 416.0 623.5 413.8 625.5 412.9 632.0 412.9 634.0 413.3 637.0 417.0 638.1 419.5 638.6 430.0 638.6 442.0 637.1 465.0 634.0 492.5Z" fill="#e33625" fill-rule="evenodd"/>
<path d="M630.5 492.5 629.2 492.5 624.5 423.0 624.7 417.5 625.5 416.5 627.5 416.0 632.0 416.2 634.2 418.5 635.0 420.5 635.5 430.0 635.5 441.5 634.0 464.5 630.5 492.5Z" fill="#e02b25" fill-rule="evenodd"/>
<path d="M630.5 457.0 629.4 449.0 627.9 422.0 628.2 420.0 629.5 419.4 630.9 420.0 631.5 421.1 632.1 431.0 632.1 441.0 631.0 455.5 630.5 457.0Z" fill="#db2124" fill-rule="evenodd"/>
</g></g>
<text x="466" y="283.7" font-size="14.4" text-anchor="end" fill="#f4b680">WOC</text>
<text x="671.1" y="283.9" font-size="14.4" text-anchor="end" fill="#a9bddf">Ni-WOC</text>
<line x1="298.5" y1="493" x2="303" y2="493" stroke="#555" stroke-width="1" />
<text x="295.2" y="497.8" font-size="14.4" text-anchor="end" fill="#1a1a1a" >0.4</text>
<line x1="300.5" y1="455.3" x2="303" y2="455.3" stroke="#555" stroke-width="1" />
<line x1="298.5" y1="417.7" x2="303" y2="417.7" stroke="#555" stroke-width="1" />
<text x="295.2" y="422.5" font-size="14.4" text-anchor="end" fill="#1a1a1a" >0.8</text>
<line x1="300.5" y1="380" x2="303" y2="380" stroke="#555" stroke-width="1" />
<line x1="298.5" y1="342.3" x2="303" y2="342.3" stroke="#555" stroke-width="1" />
<text x="295.2" y="347.1" font-size="14.4" text-anchor="end" fill="#1a1a1a" >1.2</text>
<line x1="300.5" y1="304.7" x2="303" y2="304.7" stroke="#555" stroke-width="1" />
<line x1="298.5" y1="267" x2="303" y2="267" stroke="#555" stroke-width="1" />
<text x="295.2" y="271.8" font-size="14.4" text-anchor="end" fill="#1a1a1a" >1.6</text>
<line x1="673.5" y1="493" x2="676" y2="493" stroke="#333" stroke-width="1" />
<line x1="673.5" y1="455.3" x2="676" y2="455.3" stroke="#333" stroke-width="1" />
<line x1="673.5" y1="417.7" x2="676" y2="417.7" stroke="#333" stroke-width="1" />
<line x1="673.5" y1="380" x2="676" y2="380" stroke="#333" stroke-width="1" />
<line x1="673.5" y1="342.3" x2="676" y2="342.3" stroke="#333" stroke-width="1" />
<line x1="673.5" y1="304.7" x2="676" y2="304.7" stroke="#333" stroke-width="1" />
<line x1="673.5" y1="267" x2="676" y2="267" stroke="#333" stroke-width="1" />
<text transform="translate(270,379.5) rotate(-90)" font-size="14.4" text-anchor="middle" fill="#1a1a1a">Potential (V vs. Ag/AgCl)</text>
<text x="295" y="261.5" font-size="14.4" text-anchor="start" fill="#1a1a1a" >(e)</text>
<text x="501.5" y="261" font-size="14.4" text-anchor="start" fill="#1a1a1a" >(f)</text>
<line x1="303" y1="493.2" x2="471" y2="493.2" stroke="#999" stroke-width="1" />
<line x1="303.7" y1="493.2" x2="303.7" y2="495.5" stroke="#8a8a8a" stroke-width="1" />
<line x1="317.2" y1="493.2" x2="317.2" y2="495.5" stroke="#8a8a8a" stroke-width="1" />
<line x1="326.8" y1="493.2" x2="326.8" y2="495.5" stroke="#8a8a8a" stroke-width="1" />
<line x1="334.2" y1="493.2" x2="334.2" y2="495.5" stroke="#8a8a8a" stroke-width="1" />
<line x1="340.3" y1="493.2" x2="340.3" y2="495.5" stroke="#8a8a8a" stroke-width="1" />
<line x1="345.4" y1="493.2" x2="345.4" y2="495.5" stroke="#8a8a8a" stroke-width="1" />
<line x1="349.9" y1="493.2" x2="349.9" y2="495.5" stroke="#8a8a8a" stroke-width="1" />
<line x1="353.8" y1="493.2" x2="353.8" y2="495.5" stroke="#8a8a8a" stroke-width="1" />
<line x1="357.3" y1="493.2" x2="357.3" y2="497.5" stroke="#8a8a8a" stroke-width="1" />
<line x1="380.4" y1="493.2" x2="380.4" y2="495.5" stroke="#8a8a8a" stroke-width="1" />
<line x1="393.9" y1="493.2" x2="393.9" y2="495.5" stroke="#8a8a8a" stroke-width="1" />
<line x1="403.5" y1="493.2" x2="403.5" y2="495.5" stroke="#8a8a8a" stroke-width="1" />
<line x1="410.9" y1="493.2" x2="410.9" y2="495.5" stroke="#8a8a8a" stroke-width="1" />
<line x1="417" y1="493.2" x2="417" y2="495.5" stroke="#8a8a8a" stroke-width="1" />
<line x1="422.1" y1="493.2" x2="422.1" y2="495.5" stroke="#8a8a8a" stroke-width="1" />
<line x1="426.6" y1="493.2" x2="426.6" y2="495.5" stroke="#8a8a8a" stroke-width="1" />
<line x1="430.5" y1="493.2" x2="430.5" y2="495.5" stroke="#8a8a8a" stroke-width="1" />
<line x1="434" y1="493.2" x2="434" y2="497.5" stroke="#8a8a8a" stroke-width="1" />
<line x1="457.1" y1="493.2" x2="457.1" y2="495.5" stroke="#8a8a8a" stroke-width="1" />
<line x1="470.6" y1="493.2" x2="470.6" y2="495.5" stroke="#8a8a8a" stroke-width="1" />
<text x="357.3" y="514.7" font-size="14.4" text-anchor="middle" fill="#1a1a1a">10<tspan dy="-6" font-size="10.5">0</tspan></text>
<text x="434" y="514.7" font-size="14.4" text-anchor="middle" fill="#1a1a1a">10<tspan dy="-6" font-size="10.5">1</tspan></text>
<text x="379.8" y="525.7" font-size="14.4" text-anchor="middle" fill="#1a1a1a">τ (s)</text>
<line x1="508" y1="493.2" x2="676" y2="493.2" stroke="#999" stroke-width="1" />
<line x1="508.7" y1="493.2" x2="508.7" y2="495.5" stroke="#8a8a8a" stroke-width="1" />
<line x1="522.2" y1="493.2" x2="522.2" y2="495.5" stroke="#8a8a8a" stroke-width="1" />
<line x1="531.8" y1="493.2" x2="531.8" y2="495.5" stroke="#8a8a8a" stroke-width="1" />
<line x1="539.2" y1="493.2" x2="539.2" y2="495.5" stroke="#8a8a8a" stroke-width="1" />
<line x1="545.3" y1="493.2" x2="545.3" y2="495.5" stroke="#8a8a8a" stroke-width="1" />
<line x1="550.4" y1="493.2" x2="550.4" y2="495.5" stroke="#8a8a8a" stroke-width="1" />
<line x1="554.9" y1="493.2" x2="554.9" y2="495.5" stroke="#8a8a8a" stroke-width="1" />
<line x1="558.8" y1="493.2" x2="558.8" y2="495.5" stroke="#8a8a8a" stroke-width="1" />
<line x1="562.3" y1="493.2" x2="562.3" y2="497.5" stroke="#8a8a8a" stroke-width="1" />
<line x1="585.4" y1="493.2" x2="585.4" y2="495.5" stroke="#8a8a8a" stroke-width="1" />
<line x1="598.9" y1="493.2" x2="598.9" y2="495.5" stroke="#8a8a8a" stroke-width="1" />
<line x1="608.5" y1="493.2" x2="608.5" y2="495.5" stroke="#8a8a8a" stroke-width="1" />
<line x1="615.9" y1="493.2" x2="615.9" y2="495.5" stroke="#8a8a8a" stroke-width="1" />
<line x1="622" y1="493.2" x2="622" y2="495.5" stroke="#8a8a8a" stroke-width="1" />
<line x1="627.1" y1="493.2" x2="627.1" y2="495.5" stroke="#8a8a8a" stroke-width="1" />
<line x1="631.6" y1="493.2" x2="631.6" y2="495.5" stroke="#8a8a8a" stroke-width="1" />
<line x1="635.5" y1="493.2" x2="635.5" y2="495.5" stroke="#8a8a8a" stroke-width="1" />
<line x1="639" y1="493.2" x2="639" y2="497.5" stroke="#8a8a8a" stroke-width="1" />
<line x1="662.1" y1="493.2" x2="662.1" y2="495.5" stroke="#8a8a8a" stroke-width="1" />
<line x1="675.6" y1="493.2" x2="675.6" y2="495.5" stroke="#8a8a8a" stroke-width="1" />
<text x="562.3" y="514.7" font-size="14.4" text-anchor="middle" fill="#1a1a1a">10<tspan dy="-6" font-size="10.5">0</tspan></text>
<text x="639" y="514.7" font-size="14.4" text-anchor="middle" fill="#1a1a1a">10<tspan dy="-6" font-size="10.5">1</tspan></text>
<text x="584.8" y="525.7" font-size="14.4" text-anchor="middle" fill="#1a1a1a">τ (s)</text>
<linearGradient id="gcb" x1="0" y1="1" x2="0" y2="0"><stop offset="0.000" stop-color="#2a4a9a"/><stop offset="0.050" stop-color="#2e5ca6"/><stop offset="0.100" stop-color="#428cc8"/><stop offset="0.150" stop-color="#62b1cd"/><stop offset="0.200" stop-color="#8dcbaf"/><stop offset="0.250" stop-color="#bbd886"/><stop offset="0.300" stop-color="#e0db61"/><stop offset="0.350" stop-color="#eace55"/><stop offset="0.400" stop-color="#efbe49"/><stop offset="0.450" stop-color="#f0ad3c"/><stop offset="0.500" stop-color="#ef9c36"/><stop offset="0.550" stop-color="#ee8b31"/><stop offset="0.600" stop-color="#ed7a2e"/><stop offset="0.650" stop-color="#ec692c"/><stop offset="0.700" stop-color="#ea582a"/><stop offset="0.750" stop-color="#e74627"/><stop offset="0.800" stop-color="#e33525"/><stop offset="0.850" stop-color="#df2524"/><stop offset="0.900" stop-color="#c41d26"/><stop offset="0.950" stop-color="#a21927"/><stop offset="1.000" stop-color="#801626"/></linearGradient>
<rect x="481.2" y="345.6" width="16.8" height="77.1" fill="url(#gcb)"/>
<text x="489.2" y="342.7" font-size="14.4" text-anchor="middle" fill="#1a1a1a" >260</text>
<text x="489.2" y="433.5" font-size="14.4" text-anchor="middle" fill="#1a1a1a" >5</text>
<text transform="translate(494.5,382) rotate(-90)" font-size="14.4" text-anchor="middle" fill="#1a1a1a">γ (Ω/s)</text>
<text x="7" y="533" font-size="14.4" text-anchor="start" fill="#1a1a1a" >(g)</text>
<rect x="14.5" y="542.3" width="660.5" height="221.5" fill="#f6f4f5" stroke="#9a9a9a" stroke-width="1"/>
<clipPath id="cpg"><rect x="15" y="542.8" width="659.5" height="220.5"/></clipPath>
<g clip-path="url(#cpg)">
<circle cx="62.8" cy="747.3" r="20" fill="url(#gWd)" stroke="#1a1a1a" stroke-width="0.8" />
<circle cx="110" cy="738" r="20" fill="url(#gWd)" stroke="#1a1a1a" stroke-width="0.8" />
<circle cx="234.4" cy="743" r="20" fill="url(#gWd)" stroke="#1a1a1a" stroke-width="0.8" />
<circle cx="69.4" cy="697" r="20" fill="url(#gWd)" stroke="#1a1a1a" stroke-width="0.8" />
<circle cx="111" cy="695.8" r="20" fill="url(#gWd)" stroke="#1a1a1a" stroke-width="0.8" />
<circle cx="232" cy="697" r="20" fill="url(#gWd)" stroke="#1a1a1a" stroke-width="0.8" />
<circle cx="188.5" cy="724.3" r="10" fill="url(#gOd)" stroke="#1a1a1a" stroke-width="0.8" />
<circle cx="169.9" cy="672.8" r="10" fill="url(#gOd)" stroke="#1a1a1a" stroke-width="0.8" />
<circle cx="95.7" cy="690.4" r="10" fill="url(#gOs)" stroke="#1a1a1a" stroke-width="0.8" />
<circle cx="130.7" cy="721" r="10" fill="url(#gOs)" stroke="#1a1a1a" stroke-width="0.8" />
<circle cx="81.5" cy="705.7" r="10" fill="url(#gOs)" stroke="#1a1a1a" stroke-width="0.8" />
<circle cx="231.2" cy="718.8" r="10" fill="url(#gOs)" stroke="#1a1a1a" stroke-width="0.8" />
<circle cx="76" cy="738.5" r="20.5" fill="url(#gW)" stroke="#1a1a1a" stroke-width="0.8" />
<circle cx="125.2" cy="743" r="20.5" fill="url(#gW)" stroke="#1a1a1a" stroke-width="0.8" />
<circle cx="174.2" cy="743" r="20.5" fill="url(#gW)" stroke="#1a1a1a" stroke-width="0.8" />
<circle cx="221.3" cy="745" r="20.5" fill="url(#gW)" stroke="#1a1a1a" stroke-width="0.8" />
<circle cx="62.8" cy="689.3" r="20.8" fill="url(#gW)" stroke="#1a1a1a" stroke-width="0.8" />
<circle cx="137.3" cy="697" r="20.8" fill="url(#gW)" stroke="#1a1a1a" stroke-width="0.8" />
<circle cx="188.5" cy="697" r="20.5" fill="url(#gW)" stroke="#1a1a1a" stroke-width="0.8" />
<circle cx="225.7" cy="679.4" r="20" fill="url(#gW)" stroke="#1a1a1a" stroke-width="0.8" />
<circle cx="54" cy="732" r="10" fill="url(#gOs)" stroke="#1a1a1a" stroke-width="0.6" opacity="0.92"/>
<circle cx="95.7" cy="746" r="10" fill="url(#gOs)" stroke="#1a1a1a" stroke-width="0.6" opacity="0.92"/>
<circle cx="150.4" cy="755" r="10" fill="url(#gOs)" stroke="#1a1a1a" stroke-width="0.6" opacity="0.92"/>
<circle cx="200.5" cy="750.6" r="10" fill="url(#gOs)" stroke="#1a1a1a" stroke-width="0.6" opacity="0.92"/>
<circle cx="257.4" cy="745.1" r="10" fill="url(#gOs)" stroke="#1a1a1a" stroke-width="0.6" opacity="0.92"/>
<circle cx="254.2" cy="684.9" r="10" fill="url(#gOs)" stroke="#1a1a1a" stroke-width="0.6" opacity="0.92"/>
<circle cx="258.5" cy="693.6" r="10" fill="url(#gOs)" stroke="#1a1a1a" stroke-width="0.6" opacity="0.92"/>
<circle cx="200.5" cy="676" r="10" fill="url(#gOs)" stroke="#1a1a1a" stroke-width="0.6" opacity="0.92"/>
<circle cx="170" cy="671.7" r="10" fill="url(#gOs)" stroke="#1a1a1a" stroke-width="0.6" opacity="0.92"/>
<circle cx="72.7" cy="664" r="10.5" fill="url(#gOs)" stroke="#1a1a1a" stroke-width="0.6" opacity="0.92"/>
<circle cx="120.9" cy="679.4" r="10.5" fill="url(#gOs)" stroke="#1a1a1a" stroke-width="0.6" opacity="0.92"/>
<circle cx="225.7" cy="656.4" r="10" fill="url(#gOs)" stroke="#1a1a1a" stroke-width="0.6" opacity="0.92"/>
<circle cx="59.6" cy="693.6" r="10.5" fill="url(#gOsal)" stroke="#1a1a1a" stroke-width="0.8" />
<circle cx="191.7" cy="692.5" r="10.5" fill="url(#gOsal)" stroke="#1a1a1a" stroke-width="0.8" />
<circle cx="219" cy="697" r="10.5" fill="url(#gOsal)" stroke="#1a1a1a" stroke-width="0.8" />
<circle cx="122" cy="750.6" r="10.5" fill="url(#gOsal)" stroke="#1a1a1a" stroke-width="0.8" />
<circle cx="173.1" cy="741.8" r="10.5" fill="url(#gOsal)" stroke="#1a1a1a" stroke-width="0.8" />
<circle cx="416.6" cy="738.1" r="20" fill="url(#gWd)" stroke="#1a1a1a" stroke-width="0.8" />
<circle cx="541.7" cy="746.3" r="20" fill="url(#gWd)" stroke="#1a1a1a" stroke-width="0.8" />
<circle cx="380.9" cy="694.2" r="20" fill="url(#gWd)" stroke="#1a1a1a" stroke-width="0.8" />
<circle cx="416.6" cy="696.2" r="20" fill="url(#gWd)" stroke="#1a1a1a" stroke-width="0.8" />
<circle cx="539.7" cy="695.2" r="20" fill="url(#gWd)" stroke="#1a1a1a" stroke-width="0.8" />
<circle cx="400.3" cy="692.1" r="10" fill="url(#gOs)" stroke="#1a1a1a" stroke-width="0.6" opacity="0.92"/>
<circle cx="379.9" cy="716.6" r="10" fill="url(#gOs)" stroke="#1a1a1a" stroke-width="0.6" opacity="0.92"/>
<circle cx="436" cy="721.7" r="10" fill="url(#gOs)" stroke="#1a1a1a" stroke-width="0.6" opacity="0.92"/>
<circle cx="474.3" cy="712.6" r="10" fill="url(#gOs)" stroke="#1a1a1a" stroke-width="0.6" opacity="0.92"/>
<circle cx="493.7" cy="723.8" r="10" fill="url(#gOs)" stroke="#1a1a1a" stroke-width="0.6" opacity="0.92"/>
<circle cx="536.6" cy="718.7" r="10" fill="url(#gOs)" stroke="#1a1a1a" stroke-width="0.6" opacity="0.92"/>
<circle cx="504" cy="677.8" r="10" fill="url(#gOs)" stroke="#1a1a1a" stroke-width="0.6" opacity="0.92"/>
<circle cx="373.7" cy="742.2" r="20.5" fill="url(#gW)" stroke="#1a1a1a" stroke-width="0.8" />
<circle cx="430" cy="744.2" r="20.5" fill="url(#gW)" stroke="#1a1a1a" stroke-width="0.8" />
<circle cx="478" cy="742.2" r="20.5" fill="url(#gW)" stroke="#1a1a1a" stroke-width="0.8" />
<circle cx="530.5" cy="744.2" r="20.5" fill="url(#gNi)" stroke="#1a1a1a" stroke-width="0.8" />
<circle cx="369.6" cy="686" r="20.5" fill="url(#gW)" stroke="#1a1a1a" stroke-width="0.8" />
<circle cx="494.7" cy="697.2" r="20.5" fill="url(#gW)" stroke="#1a1a1a" stroke-width="0.8" />
<circle cx="532.6" cy="678.8" r="20" fill="url(#gW)" stroke="#1a1a1a" stroke-width="0.8" />
<circle cx="443.2" cy="697.2" r="20.4" fill="url(#gNi)" stroke="#1a1a1a" stroke-width="0.8" />
<circle cx="401.3" cy="751.4" r="10" fill="url(#gOs)" stroke="#1a1a1a" stroke-width="0.6" opacity="0.92"/>
<circle cx="455.5" cy="754.4" r="10" fill="url(#gOs)" stroke="#1a1a1a" stroke-width="0.6" opacity="0.92"/>
<circle cx="564.2" cy="744.2" r="10" fill="url(#gOs)" stroke="#1a1a1a" stroke-width="0.6" opacity="0.92"/>
<circle cx="549.9" cy="734" r="10" fill="url(#gOs)" stroke="#1a1a1a" stroke-width="0.6" opacity="0.92"/>
<circle cx="511.1" cy="748.3" r="10" fill="url(#gOs)" stroke="#1a1a1a" stroke-width="0.6" opacity="0.92"/>
<circle cx="510" cy="734" r="10" fill="url(#gOs)" stroke="#1a1a1a" stroke-width="0.6" opacity="0.92"/>
<circle cx="560.1" cy="683.9" r="10" fill="url(#gOs)" stroke="#1a1a1a" stroke-width="0.6" opacity="0.92"/>
<circle cx="566.3" cy="694.2" r="10" fill="url(#gOs)" stroke="#1a1a1a" stroke-width="0.6" opacity="0.92"/>
<circle cx="532.6" cy="656.4" r="10" fill="url(#gOs)" stroke="#1a1a1a" stroke-width="0.6" opacity="0.92"/>
<circle cx="378.8" cy="664.5" r="10" fill="url(#gOs)" stroke="#1a1a1a" stroke-width="0.6" opacity="0.92"/>
<circle cx="425.8" cy="677.8" r="10" fill="url(#gOs)" stroke="#1a1a1a" stroke-width="0.6" opacity="0.92"/>
<circle cx="365.5" cy="694.2" r="10.5" fill="url(#gOsal)" stroke="#1a1a1a" stroke-width="0.8" />
<circle cx="496.8" cy="693.1" r="10.5" fill="url(#gOsal)" stroke="#1a1a1a" stroke-width="0.8" />
<circle cx="525.4" cy="698.2" r="10.5" fill="url(#gOsal)" stroke="#1a1a1a" stroke-width="0.8" />
<circle cx="427.9" cy="751.4" r="10.5" fill="url(#gOsal)" stroke="#1a1a1a" stroke-width="0.8" />
<circle cx="479.4" cy="742.2" r="10.5" fill="url(#gOsal)" stroke="#1a1a1a" stroke-width="0.8" />
<circle cx="481.5" cy="661.5" r="6.5" fill="url(#gH)" stroke="#1a1a1a" stroke-width="0.8" />
<circle cx="52" cy="656" r="6.5" fill="url(#gHg)" stroke="#1a1a1a" stroke-width="0.8" />
<circle cx="62.8" cy="660.8" r="10" fill="url(#gOd)" stroke="#1a1a1a" stroke-width="0.8" />
<circle cx="70.5" cy="655.3" r="6.5" fill="url(#gHg)" stroke="#1a1a1a" stroke-width="0.8" />
<circle cx="99" cy="669.6" r="10" fill="url(#gOd)" stroke="#1a1a1a" stroke-width="0.8" />
<circle cx="111" cy="661.9" r="6.5" fill="url(#gHg)" stroke="#1a1a1a" stroke-width="0.8" />
<circle cx="135" cy="668.5" r="10" fill="url(#gOd)" stroke="#1a1a1a" stroke-width="0.8" />
<circle cx="146" cy="664" r="6.5" fill="url(#gHg)" stroke="#1a1a1a" stroke-width="0.8" />
<circle cx="82" cy="591" r="6.5" fill="url(#gHg)" stroke="#1a1a1a" stroke-width="0.8" />
<circle cx="82" cy="581.2" r="10" fill="url(#gO)" stroke="#1a1a1a" stroke-width="0.8" />
<circle cx="71.5" cy="573" r="6.5" fill="url(#gH)" stroke="#1a1a1a" stroke-width="0.8" />
<circle cx="105.4" cy="564.9" r="6.5" fill="url(#gH)" stroke="#1a1a1a" stroke-width="0.8" />
<circle cx="109" cy="577.7" r="10" fill="url(#gO)" stroke="#1a1a1a" stroke-width="0.8" />
<circle cx="118.3" cy="574.9" r="6.5" fill="url(#gH)" stroke="#1a1a1a" stroke-width="0.8" />
<circle cx="139.3" cy="585.9" r="10" fill="url(#gO)" stroke="#1a1a1a" stroke-width="0.8" />
<circle cx="140.5" cy="575.4" r="6.5" fill="url(#gH)" stroke="#1a1a1a" stroke-width="0.8" />
<circle cx="142.8" cy="597.6" r="6.5" fill="url(#gH)" stroke="#1a1a1a" stroke-width="0.8" />
<circle cx="110" cy="603.4" r="6.5" fill="url(#gHg)" stroke="#1a1a1a" stroke-width="0.8" />
<circle cx="123" cy="607" r="10" fill="url(#gOd)" stroke="#1a1a1a" stroke-width="0.8" />
<circle cx="116" cy="617.4" r="6.5" fill="url(#gHg)" stroke="#1a1a1a" stroke-width="0.8" />
<circle cx="166" cy="607" r="6.5" fill="url(#gHg)" stroke="#1a1a1a" stroke-width="0.8" />
<circle cx="167.3" cy="595.2" r="10" fill="url(#gO)" stroke="#1a1a1a" stroke-width="0.8" />
<circle cx="160.3" cy="601" r="6.5" fill="url(#gH)" stroke="#1a1a1a" stroke-width="0.8" />
<circle cx="191.9" cy="575.4" r="10" fill="url(#gO)" stroke="#1a1a1a" stroke-width="0.8" />
<circle cx="194.2" cy="566" r="6.5" fill="url(#gH)" stroke="#1a1a1a" stroke-width="0.8" />
<circle cx="179.6" cy="577.8" r="6.5" fill="url(#gH)" stroke="#1a1a1a" stroke-width="0.8" />
<circle cx="84.4" cy="612.8" r="10" fill="url(#gO)" stroke="#1a1a1a" stroke-width="0.8" />
<circle cx="72.7" cy="604.6" r="6.5" fill="url(#gH)" stroke="#1a1a1a" stroke-width="0.8" />
<circle cx="96" cy="604.6" r="6.5" fill="url(#gH)" stroke="#1a1a1a" stroke-width="0.8" />
<circle cx="183.7" cy="622" r="6.5" fill="url(#gHg)" stroke="#1a1a1a" stroke-width="0.8" />
<circle cx="174.3" cy="630.3" r="10" fill="url(#gOd)" stroke="#1a1a1a" stroke-width="0.8" />
<circle cx="204.7" cy="611.8" r="6.5" fill="url(#gH)" stroke="#1a1a1a" stroke-width="0.8" />
<circle cx="197" cy="604.1" r="10" fill="url(#gO)" stroke="#1a1a1a" stroke-width="0.8" />
<circle cx="188.3" cy="607.4" r="6.5" fill="url(#gH)" stroke="#1a1a1a" stroke-width="0.8" />
<circle cx="228.8" cy="576.7" r="10" fill="url(#gO)" stroke="#1a1a1a" stroke-width="0.8" />
<circle cx="234.3" cy="566.9" r="6.5" fill="url(#gH)" stroke="#1a1a1a" stroke-width="0.8" />
<circle cx="225.5" cy="588.8" r="6.5" fill="url(#gH)" stroke="#1a1a1a" stroke-width="0.8" />
<circle cx="230" cy="609.6" r="10" fill="url(#gO)" stroke="#1a1a1a" stroke-width="0.8" />
<circle cx="217.9" cy="605.2" r="6.5" fill="url(#gH)" stroke="#1a1a1a" stroke-width="0.8" />
<circle cx="230" cy="623.8" r="6.5" fill="url(#gH)" stroke="#1a1a1a" stroke-width="0.8" />
<circle cx="80.9" cy="643" r="10" fill="url(#gOd)" stroke="#1a1a1a" stroke-width="0.8" />
<circle cx="71.5" cy="638.5" r="6.5" fill="url(#gHg)" stroke="#1a1a1a" stroke-width="0.8" />
<circle cx="89" cy="652.5" r="6.5" fill="url(#gHg)" stroke="#1a1a1a" stroke-width="0.8" />
<circle cx="210.2" cy="631.5" r="6.5" fill="url(#gHg)" stroke="#1a1a1a" stroke-width="0.8" />
<circle cx="209" cy="643.5" r="10" fill="url(#gOd)" stroke="#1a1a1a" stroke-width="0.8" />
<circle cx="197" cy="641.3" r="6.5" fill="url(#gHg)" stroke="#1a1a1a" stroke-width="0.8" />
<circle cx="102" cy="637.3" r="6.5" fill="url(#gH)" stroke="#1a1a1a" stroke-width="0.8" />
<circle cx="121.8" cy="649" r="6.5" fill="url(#gH)" stroke="#1a1a1a" stroke-width="0.8" />
<circle cx="113.6" cy="643" r="10" fill="url(#gO)" stroke="#1a1a1a" stroke-width="0.8" />
<circle cx="146.3" cy="635" r="6.5" fill="url(#gHg)" stroke="#1a1a1a" stroke-width="0.8" />
<circle cx="147.5" cy="645.5" r="10" fill="url(#gO)" stroke="#1a1a1a" stroke-width="0.8" />
<circle cx="156.8" cy="644.3" r="6.5" fill="url(#gH)" stroke="#1a1a1a" stroke-width="0.8" />
<circle cx="195.4" cy="640.8" r="6.5" fill="url(#gHg)" stroke="#1a1a1a" stroke-width="0.8" />
<circle cx="182.5" cy="651.3" r="10" fill="url(#gO)" stroke="#1a1a1a" stroke-width="0.8" />
<circle cx="176.3" cy="660" r="6.5" fill="url(#gH)" stroke="#1a1a1a" stroke-width="0.8" />
<circle cx="252.9" cy="637" r="6.5" fill="url(#gH)" stroke="#1a1a1a" stroke-width="0.8" />
<circle cx="242" cy="639.2" r="10" fill="url(#gO)" stroke="#1a1a1a" stroke-width="0.8" />
<circle cx="237.6" cy="652.3" r="6.5" fill="url(#gH)" stroke="#1a1a1a" stroke-width="0.8" />
<circle cx="147.5" cy="617.4" r="10" fill="url(#gR)" stroke="#1a1a1a" stroke-width="0.8" />
<circle cx="153.3" cy="619.8" r="6.5" fill="url(#gH)" stroke="#1a1a1a" stroke-width="0.8" />
<circle cx="137" cy="626.8" r="6.5" fill="url(#gH)" stroke="#1a1a1a" stroke-width="0.8" />
<circle cx="375.8" cy="658.4" r="10" fill="url(#gOd)" stroke="#1a1a1a" stroke-width="0.8" />
<circle cx="384" cy="654" r="6.5" fill="url(#gHg)" stroke="#1a1a1a" stroke-width="0.8" />
<circle cx="476.3" cy="673.7" r="10" fill="url(#gOd)" stroke="#1a1a1a" stroke-width="0.8" />
<circle cx="379.9" cy="566.5" r="6.5" fill="url(#gH)" stroke="#1a1a1a" stroke-width="0.8" />
<circle cx="381.9" cy="580.8" r="10" fill="url(#gO)" stroke="#1a1a1a" stroke-width="0.8" />
<circle cx="367.6" cy="584.9" r="6.5" fill="url(#gH)" stroke="#1a1a1a" stroke-width="0.8" />
<circle cx="423.8" cy="559.3" r="6.5" fill="url(#gH)" stroke="#1a1a1a" stroke-width="0.8" />
<circle cx="419.7" cy="572.6" r="10" fill="url(#gO)" stroke="#1a1a1a" stroke-width="0.8" />
<circle cx="404.4" cy="572.6" r="6.5" fill="url(#gH)" stroke="#1a1a1a" stroke-width="0.8" />
<circle cx="418.7" cy="607.3" r="6.5" fill="url(#gHg)" stroke="#1a1a1a" stroke-width="0.8" />
<circle cx="426.9" cy="597.1" r="10" fill="url(#gO)" stroke="#1a1a1a" stroke-width="0.8" />
<circle cx="413.6" cy="593" r="6.5" fill="url(#gHg)" stroke="#1a1a1a" stroke-width="0.8" />
<circle cx="391" cy="608.4" r="10" fill="url(#gOd)" stroke="#1a1a1a" stroke-width="0.8" />
<circle cx="378.8" cy="604.3" r="6.5" fill="url(#gH)" stroke="#1a1a1a" stroke-width="0.8" />
<circle cx="401.3" cy="604.3" r="6.5" fill="url(#gH)" stroke="#1a1a1a" stroke-width="0.8" />
<circle cx="375.8" cy="623.7" r="6.5" fill="url(#gH)" stroke="#1a1a1a" stroke-width="0.8" />
<circle cx="387" cy="617.6" r="10" fill="url(#gO)" stroke="#1a1a1a" stroke-width="0.8" />
<circle cx="390" cy="627.8" r="6.5" fill="url(#gH)" stroke="#1a1a1a" stroke-width="0.8" />
<circle cx="377.8" cy="635" r="6.5" fill="url(#gH)" stroke="#1a1a1a" stroke-width="0.8" />
<circle cx="398.2" cy="646.2" r="6.5" fill="url(#gH)" stroke="#1a1a1a" stroke-width="0.8" />
<circle cx="390" cy="641" r="10" fill="url(#gO)" stroke="#1a1a1a" stroke-width="0.8" />
<circle cx="472.8" cy="597.1" r="10" fill="url(#gO)" stroke="#1a1a1a" stroke-width="0.8" />
<circle cx="468.8" cy="605.3" r="6.5" fill="url(#gH)" stroke="#1a1a1a" stroke-width="0.8" />
<circle cx="470.8" cy="628.8" r="6.5" fill="url(#gHg)" stroke="#1a1a1a" stroke-width="0.8" />
<circle cx="479" cy="625.7" r="10" fill="url(#gO)" stroke="#1a1a1a" stroke-width="0.8" />
<circle cx="505" cy="569.5" r="10" fill="url(#gO)" stroke="#1a1a1a" stroke-width="0.8" />
<circle cx="497.8" cy="571.6" r="6.5" fill="url(#gH)" stroke="#1a1a1a" stroke-width="0.8" />
<circle cx="517.2" cy="564.4" r="6.5" fill="url(#gH)" stroke="#1a1a1a" stroke-width="0.8" />
<circle cx="560.1" cy="570.5" r="10" fill="url(#gO)" stroke="#1a1a1a" stroke-width="0.8" />
<circle cx="554" cy="557.3" r="6.5" fill="url(#gH)" stroke="#1a1a1a" stroke-width="0.8" />
<circle cx="567.3" cy="576.7" r="6.5" fill="url(#gH)" stroke="#1a1a1a" stroke-width="0.8" />
<circle cx="543.8" cy="571.6" r="6.5" fill="url(#gH)" stroke="#1a1a1a" stroke-width="0.8" />
<circle cx="527.4" cy="583.8" r="6.5" fill="url(#gH)" stroke="#1a1a1a" stroke-width="0.8" />
<circle cx="536.6" cy="584.9" r="10" fill="url(#gO)" stroke="#1a1a1a" stroke-width="0.8" />
<circle cx="511.1" cy="600.2" r="6.5" fill="url(#gHg)" stroke="#1a1a1a" stroke-width="0.8" />
<circle cx="493.7" cy="607.3" r="6.5" fill="url(#gHg)" stroke="#1a1a1a" stroke-width="0.8" />
<circle cx="502.9" cy="598.1" r="10" fill="url(#gOd)" stroke="#1a1a1a" stroke-width="0.8" />
<circle cx="569.3" cy="600.2" r="10" fill="url(#gOd)" stroke="#1a1a1a" stroke-width="0.8" />
<circle cx="559.1" cy="601.2" r="6.5" fill="url(#gHg)" stroke="#1a1a1a" stroke-width="0.8" />
<circle cx="506" cy="617.6" r="10" fill="url(#gO)" stroke="#1a1a1a" stroke-width="0.8" />
<circle cx="505" cy="609.4" r="6.5" fill="url(#gH)" stroke="#1a1a1a" stroke-width="0.8" />
<circle cx="536.6" cy="610.4" r="10" fill="url(#gO)" stroke="#1a1a1a" stroke-width="0.8" />
<circle cx="523.4" cy="605.3" r="6.5" fill="url(#gH)" stroke="#1a1a1a" stroke-width="0.8" />
<circle cx="535.6" cy="624.7" r="6.5" fill="url(#gH)" stroke="#1a1a1a" stroke-width="0.8" />
<circle cx="516.2" cy="630.8" r="6.5" fill="url(#gHg)" stroke="#1a1a1a" stroke-width="0.8" />
<circle cx="515.2" cy="643.1" r="10" fill="url(#gOd)" stroke="#1a1a1a" stroke-width="0.8" />
<circle cx="502.9" cy="640" r="6.5" fill="url(#gHg)" stroke="#1a1a1a" stroke-width="0.8" />
<circle cx="471.2" cy="628.8" r="6.5" fill="url(#gHg)" stroke="#1a1a1a" stroke-width="0.8" />
<circle cx="482.5" cy="626.8" r="10" fill="url(#gOd)" stroke="#1a1a1a" stroke-width="0.8" />
<circle cx="481.5" cy="634.9" r="6.5" fill="url(#gHg)" stroke="#1a1a1a" stroke-width="0.8" />
<circle cx="496.8" cy="627.8" r="6.5" fill="url(#gH)" stroke="#1a1a1a" stroke-width="0.8" />
<circle cx="566.3" cy="618.6" r="6.5" fill="url(#gHg)" stroke="#1a1a1a" stroke-width="0.8" />
<circle cx="569.3" cy="630.8" r="10" fill="url(#gOd)" stroke="#1a1a1a" stroke-width="0.8" />
<circle cx="563.2" cy="632.9" r="6.5" fill="url(#gH)" stroke="#1a1a1a" stroke-width="0.8" />
<circle cx="553" cy="638" r="10" fill="url(#gOd)" stroke="#1a1a1a" stroke-width="0.8" />
<circle cx="540.7" cy="644.1" r="6.5" fill="url(#gHg)" stroke="#1a1a1a" stroke-width="0.8" />
<circle cx="562.2" cy="649.2" r="6.5" fill="url(#gHg)" stroke="#1a1a1a" stroke-width="0.8" />
<circle cx="487.6" cy="651.3" r="10" fill="url(#gO)" stroke="#1a1a1a" stroke-width="0.8" />
<circle cx="481.5" cy="659.4" r="6.5" fill="url(#gH)" stroke="#1a1a1a" stroke-width="0.8" />
<circle cx="459.6" cy="556.2" r="6.5" fill="url(#gH)" stroke="#1a1a1a" stroke-width="0.8" />
<circle cx="467.7" cy="577.7" r="6.5" fill="url(#gH)" stroke="#1a1a1a" stroke-width="0.8" />
<circle cx="456.5" cy="570.5" r="10" fill="url(#gR)" stroke="#1a1a1a" stroke-width="0.8" />
<circle cx="439.1" cy="623.7" r="6.5" fill="url(#gHg)" stroke="#1a1a1a" stroke-width="0.8" />
<circle cx="438" cy="645.1" r="6.5" fill="url(#gHg)" stroke="#1a1a1a" stroke-width="0.8" />
<circle cx="444.2" cy="634.9" r="10" fill="url(#gR)" stroke="#1a1a1a" stroke-width="0.8" />
<circle cx="422.8" cy="666.6" r="6.5" fill="url(#gHg)" stroke="#1a1a1a" stroke-width="0.8" />
<circle cx="408.5" cy="670.7" r="10" fill="url(#gR)" stroke="#1a1a1a" stroke-width="0.8" />
<path d="M143 599 L146 607 M136 627 L127 634 M155 620 L164 626" stroke="#111" stroke-width="1.1" stroke-dasharray="1.2 1.2" fill="none"/>
<line x1="36" y1="639.5" x2="583" y2="639.5" stroke="#3a3a3a" stroke-width="1.3" stroke-dasharray="5.6 4.8"/>
<line x1="36" y1="660.3" x2="583" y2="660.3" stroke="#3a3a3a" stroke-width="1.3" stroke-dasharray="5.6 4.8"/>
<line x1="36" y1="694.8" x2="583" y2="694.8" stroke="#3a3a3a" stroke-width="1.3" stroke-dasharray="5.6 4.8"/>
<path d="M456.5 582 Q448 596 446 609" fill="none" stroke="#000" stroke-width="1.8"/>
<path d="M441 606 L445.5 615.5 L451 607 Z" fill="#000"/>
<path d="M454.4 643 Q452 656 438 662" fill="none" stroke="#000" stroke-width="1.8"/>
<path d="M440 657 L431.5 663.5 L442 666.5 Z" fill="#000"/>
</g>
<text x="588.3" y="645.5" font-size="14.4" text-anchor="start" fill="#1a1a1a" >3.36 Å</text>
<text x="588.3" y="665.8" font-size="14.4" text-anchor="start" fill="#1a1a1a" >2.16 Å</text>
<text x="588.3" y="699.7" font-size="14.4" text-anchor="start" fill="#1a1a1a" >0 Å</text>
<text x="271.7" y="754.3" font-size="14.4" text-anchor="start" fill="#f0902a" >WOC</text>
<text x="577.3" y="754" font-size="14.4" text-anchor="start" fill="#4a78c0" >Ni-WOC</text>
<line x1="592.3" y1="558.4" x2="592.3" y2="611" stroke="#000" stroke-width="1.4"/>
<path d="M587.2 609.8 L592.3 619 L597.6 609.8 Z" fill="#000"/>
<text x="601.5" y="568.5" font-size="14.4" text-anchor="start" fill="#1a1a1a" >Oxygen</text>
<text x="601.5" y="585.7" font-size="14.4" text-anchor="start" fill="#1a1a1a" >Diffusion</text>
<text x="601.5" y="602.5" font-size="14.4" text-anchor="start" fill="#1a1a1a" >Path</text>
</svg></body></html>
